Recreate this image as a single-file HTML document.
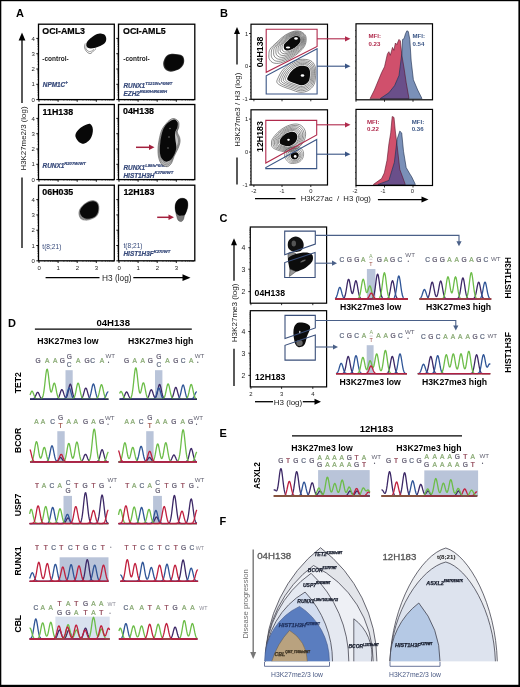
<!DOCTYPE html>
<html><head><meta charset="utf-8"><title>Figure</title>
<style>
html,body{margin:0;padding:0;background:#fff;}
body{width:520px;height:687px;overflow:hidden;font-family:"Liberation Sans",sans-serif;}
svg{display:block;will-change:transform;}
</style></head><body>
<svg width="520" height="687" viewBox="0 0 520 687" font-family="Liberation Sans, sans-serif">
<rect x="0" y="0" width="520" height="687" fill="#fff"/>
<rect x="38.5" y="24.2" width="75.8" height="75.4" fill="none" stroke="#000" stroke-width="1.3"/>
<line x1="36.3" y1="99.6" x2="38.5" y2="99.6" stroke="#000" stroke-width="0.9"/>
<line x1="37.4" y1="94.99" x2="38.5" y2="94.99" stroke="#000" stroke-width="0.5"/>
<line x1="37.4" y1="92.3" x2="38.5" y2="92.3" stroke="#000" stroke-width="0.5"/>
<line x1="37.4" y1="90.39" x2="38.5" y2="90.39" stroke="#000" stroke-width="0.5"/>
<line x1="37.4" y1="88.91" x2="38.5" y2="88.91" stroke="#000" stroke-width="0.5"/>
<line x1="37.4" y1="87.69" x2="38.5" y2="87.69" stroke="#000" stroke-width="0.5"/>
<line x1="37.4" y1="86.67" x2="38.5" y2="86.67" stroke="#000" stroke-width="0.5"/>
<line x1="37.4" y1="85.78" x2="38.5" y2="85.78" stroke="#000" stroke-width="0.5"/>
<line x1="37.4" y1="85" x2="38.5" y2="85" stroke="#000" stroke-width="0.5"/>
<line x1="36.3" y1="84.3" x2="38.5" y2="84.3" stroke="#000" stroke-width="0.9"/>
<line x1="37.4" y1="79.69" x2="38.5" y2="79.69" stroke="#000" stroke-width="0.5"/>
<line x1="37.4" y1="77" x2="38.5" y2="77" stroke="#000" stroke-width="0.5"/>
<line x1="37.4" y1="75.09" x2="38.5" y2="75.09" stroke="#000" stroke-width="0.5"/>
<line x1="37.4" y1="73.61" x2="38.5" y2="73.61" stroke="#000" stroke-width="0.5"/>
<line x1="37.4" y1="72.39" x2="38.5" y2="72.39" stroke="#000" stroke-width="0.5"/>
<line x1="37.4" y1="71.37" x2="38.5" y2="71.37" stroke="#000" stroke-width="0.5"/>
<line x1="37.4" y1="70.48" x2="38.5" y2="70.48" stroke="#000" stroke-width="0.5"/>
<line x1="37.4" y1="69.7" x2="38.5" y2="69.7" stroke="#000" stroke-width="0.5"/>
<line x1="36.3" y1="69" x2="38.5" y2="69" stroke="#000" stroke-width="0.9"/>
<line x1="37.4" y1="64.39" x2="38.5" y2="64.39" stroke="#000" stroke-width="0.5"/>
<line x1="37.4" y1="61.7" x2="38.5" y2="61.7" stroke="#000" stroke-width="0.5"/>
<line x1="37.4" y1="59.79" x2="38.5" y2="59.79" stroke="#000" stroke-width="0.5"/>
<line x1="37.4" y1="58.31" x2="38.5" y2="58.31" stroke="#000" stroke-width="0.5"/>
<line x1="37.4" y1="57.09" x2="38.5" y2="57.09" stroke="#000" stroke-width="0.5"/>
<line x1="37.4" y1="56.07" x2="38.5" y2="56.07" stroke="#000" stroke-width="0.5"/>
<line x1="37.4" y1="55.18" x2="38.5" y2="55.18" stroke="#000" stroke-width="0.5"/>
<line x1="37.4" y1="54.4" x2="38.5" y2="54.4" stroke="#000" stroke-width="0.5"/>
<line x1="36.3" y1="53.7" x2="38.5" y2="53.7" stroke="#000" stroke-width="0.9"/>
<line x1="37.4" y1="49.09" x2="38.5" y2="49.09" stroke="#000" stroke-width="0.5"/>
<line x1="37.4" y1="46.4" x2="38.5" y2="46.4" stroke="#000" stroke-width="0.5"/>
<line x1="37.4" y1="44.49" x2="38.5" y2="44.49" stroke="#000" stroke-width="0.5"/>
<line x1="37.4" y1="43.01" x2="38.5" y2="43.01" stroke="#000" stroke-width="0.5"/>
<line x1="37.4" y1="41.79" x2="38.5" y2="41.79" stroke="#000" stroke-width="0.5"/>
<line x1="37.4" y1="40.77" x2="38.5" y2="40.77" stroke="#000" stroke-width="0.5"/>
<line x1="37.4" y1="39.88" x2="38.5" y2="39.88" stroke="#000" stroke-width="0.5"/>
<line x1="37.4" y1="39.1" x2="38.5" y2="39.1" stroke="#000" stroke-width="0.5"/>
<line x1="36.3" y1="38.4" x2="38.5" y2="38.4" stroke="#000" stroke-width="0.9"/>
<line x1="39" y1="99.6" x2="39" y2="101.8" stroke="#000" stroke-width="0.9"/>
<line x1="44.75" y1="99.6" x2="44.75" y2="100.7" stroke="#000" stroke-width="0.5"/>
<line x1="48.11" y1="99.6" x2="48.11" y2="100.7" stroke="#000" stroke-width="0.5"/>
<line x1="50.5" y1="99.6" x2="50.5" y2="100.7" stroke="#000" stroke-width="0.5"/>
<line x1="52.35" y1="99.6" x2="52.35" y2="100.7" stroke="#000" stroke-width="0.5"/>
<line x1="53.86" y1="99.6" x2="53.86" y2="100.7" stroke="#000" stroke-width="0.5"/>
<line x1="55.14" y1="99.6" x2="55.14" y2="100.7" stroke="#000" stroke-width="0.5"/>
<line x1="56.25" y1="99.6" x2="56.25" y2="100.7" stroke="#000" stroke-width="0.5"/>
<line x1="57.23" y1="99.6" x2="57.23" y2="100.7" stroke="#000" stroke-width="0.5"/>
<line x1="58.1" y1="99.6" x2="58.1" y2="101.8" stroke="#000" stroke-width="0.9"/>
<line x1="63.85" y1="99.6" x2="63.85" y2="100.7" stroke="#000" stroke-width="0.5"/>
<line x1="67.21" y1="99.6" x2="67.21" y2="100.7" stroke="#000" stroke-width="0.5"/>
<line x1="69.6" y1="99.6" x2="69.6" y2="100.7" stroke="#000" stroke-width="0.5"/>
<line x1="71.45" y1="99.6" x2="71.45" y2="100.7" stroke="#000" stroke-width="0.5"/>
<line x1="72.96" y1="99.6" x2="72.96" y2="100.7" stroke="#000" stroke-width="0.5"/>
<line x1="74.24" y1="99.6" x2="74.24" y2="100.7" stroke="#000" stroke-width="0.5"/>
<line x1="75.35" y1="99.6" x2="75.35" y2="100.7" stroke="#000" stroke-width="0.5"/>
<line x1="76.33" y1="99.6" x2="76.33" y2="100.7" stroke="#000" stroke-width="0.5"/>
<line x1="77.2" y1="99.6" x2="77.2" y2="101.8" stroke="#000" stroke-width="0.9"/>
<line x1="82.95" y1="99.6" x2="82.95" y2="100.7" stroke="#000" stroke-width="0.5"/>
<line x1="86.31" y1="99.6" x2="86.31" y2="100.7" stroke="#000" stroke-width="0.5"/>
<line x1="88.7" y1="99.6" x2="88.7" y2="100.7" stroke="#000" stroke-width="0.5"/>
<line x1="90.55" y1="99.6" x2="90.55" y2="100.7" stroke="#000" stroke-width="0.5"/>
<line x1="92.06" y1="99.6" x2="92.06" y2="100.7" stroke="#000" stroke-width="0.5"/>
<line x1="93.34" y1="99.6" x2="93.34" y2="100.7" stroke="#000" stroke-width="0.5"/>
<line x1="94.45" y1="99.6" x2="94.45" y2="100.7" stroke="#000" stroke-width="0.5"/>
<line x1="95.43" y1="99.6" x2="95.43" y2="100.7" stroke="#000" stroke-width="0.5"/>
<line x1="96.3" y1="99.6" x2="96.3" y2="101.8" stroke="#000" stroke-width="0.9"/>
<line x1="102.05" y1="99.6" x2="102.05" y2="100.7" stroke="#000" stroke-width="0.5"/>
<line x1="105.41" y1="99.6" x2="105.41" y2="100.7" stroke="#000" stroke-width="0.5"/>
<line x1="107.8" y1="99.6" x2="107.8" y2="100.7" stroke="#000" stroke-width="0.5"/>
<line x1="109.65" y1="99.6" x2="109.65" y2="100.7" stroke="#000" stroke-width="0.5"/>
<line x1="111.16" y1="99.6" x2="111.16" y2="100.7" stroke="#000" stroke-width="0.5"/>
<line x1="112.44" y1="99.6" x2="112.44" y2="100.7" stroke="#000" stroke-width="0.5"/>
<line x1="113.55" y1="99.6" x2="113.55" y2="100.7" stroke="#000" stroke-width="0.5"/>
<rect x="38.5" y="104.5" width="75.8" height="75.1" fill="none" stroke="#000" stroke-width="1.3"/>
<line x1="36.3" y1="179.6" x2="38.5" y2="179.6" stroke="#000" stroke-width="0.9"/>
<line x1="37.4" y1="174.99" x2="38.5" y2="174.99" stroke="#000" stroke-width="0.5"/>
<line x1="37.4" y1="172.3" x2="38.5" y2="172.3" stroke="#000" stroke-width="0.5"/>
<line x1="37.4" y1="170.39" x2="38.5" y2="170.39" stroke="#000" stroke-width="0.5"/>
<line x1="37.4" y1="168.91" x2="38.5" y2="168.91" stroke="#000" stroke-width="0.5"/>
<line x1="37.4" y1="167.69" x2="38.5" y2="167.69" stroke="#000" stroke-width="0.5"/>
<line x1="37.4" y1="166.67" x2="38.5" y2="166.67" stroke="#000" stroke-width="0.5"/>
<line x1="37.4" y1="165.78" x2="38.5" y2="165.78" stroke="#000" stroke-width="0.5"/>
<line x1="37.4" y1="165" x2="38.5" y2="165" stroke="#000" stroke-width="0.5"/>
<line x1="36.3" y1="164.3" x2="38.5" y2="164.3" stroke="#000" stroke-width="0.9"/>
<line x1="37.4" y1="159.69" x2="38.5" y2="159.69" stroke="#000" stroke-width="0.5"/>
<line x1="37.4" y1="157" x2="38.5" y2="157" stroke="#000" stroke-width="0.5"/>
<line x1="37.4" y1="155.09" x2="38.5" y2="155.09" stroke="#000" stroke-width="0.5"/>
<line x1="37.4" y1="153.61" x2="38.5" y2="153.61" stroke="#000" stroke-width="0.5"/>
<line x1="37.4" y1="152.39" x2="38.5" y2="152.39" stroke="#000" stroke-width="0.5"/>
<line x1="37.4" y1="151.37" x2="38.5" y2="151.37" stroke="#000" stroke-width="0.5"/>
<line x1="37.4" y1="150.48" x2="38.5" y2="150.48" stroke="#000" stroke-width="0.5"/>
<line x1="37.4" y1="149.7" x2="38.5" y2="149.7" stroke="#000" stroke-width="0.5"/>
<line x1="36.3" y1="149" x2="38.5" y2="149" stroke="#000" stroke-width="0.9"/>
<line x1="37.4" y1="144.39" x2="38.5" y2="144.39" stroke="#000" stroke-width="0.5"/>
<line x1="37.4" y1="141.7" x2="38.5" y2="141.7" stroke="#000" stroke-width="0.5"/>
<line x1="37.4" y1="139.79" x2="38.5" y2="139.79" stroke="#000" stroke-width="0.5"/>
<line x1="37.4" y1="138.31" x2="38.5" y2="138.31" stroke="#000" stroke-width="0.5"/>
<line x1="37.4" y1="137.09" x2="38.5" y2="137.09" stroke="#000" stroke-width="0.5"/>
<line x1="37.4" y1="136.07" x2="38.5" y2="136.07" stroke="#000" stroke-width="0.5"/>
<line x1="37.4" y1="135.18" x2="38.5" y2="135.18" stroke="#000" stroke-width="0.5"/>
<line x1="37.4" y1="134.4" x2="38.5" y2="134.4" stroke="#000" stroke-width="0.5"/>
<line x1="36.3" y1="133.7" x2="38.5" y2="133.7" stroke="#000" stroke-width="0.9"/>
<line x1="37.4" y1="129.09" x2="38.5" y2="129.09" stroke="#000" stroke-width="0.5"/>
<line x1="37.4" y1="126.4" x2="38.5" y2="126.4" stroke="#000" stroke-width="0.5"/>
<line x1="37.4" y1="124.49" x2="38.5" y2="124.49" stroke="#000" stroke-width="0.5"/>
<line x1="37.4" y1="123.01" x2="38.5" y2="123.01" stroke="#000" stroke-width="0.5"/>
<line x1="37.4" y1="121.79" x2="38.5" y2="121.79" stroke="#000" stroke-width="0.5"/>
<line x1="37.4" y1="120.77" x2="38.5" y2="120.77" stroke="#000" stroke-width="0.5"/>
<line x1="37.4" y1="119.88" x2="38.5" y2="119.88" stroke="#000" stroke-width="0.5"/>
<line x1="37.4" y1="119.1" x2="38.5" y2="119.1" stroke="#000" stroke-width="0.5"/>
<line x1="36.3" y1="118.4" x2="38.5" y2="118.4" stroke="#000" stroke-width="0.9"/>
<line x1="39" y1="179.6" x2="39" y2="181.8" stroke="#000" stroke-width="0.9"/>
<line x1="44.75" y1="179.6" x2="44.75" y2="180.7" stroke="#000" stroke-width="0.5"/>
<line x1="48.11" y1="179.6" x2="48.11" y2="180.7" stroke="#000" stroke-width="0.5"/>
<line x1="50.5" y1="179.6" x2="50.5" y2="180.7" stroke="#000" stroke-width="0.5"/>
<line x1="52.35" y1="179.6" x2="52.35" y2="180.7" stroke="#000" stroke-width="0.5"/>
<line x1="53.86" y1="179.6" x2="53.86" y2="180.7" stroke="#000" stroke-width="0.5"/>
<line x1="55.14" y1="179.6" x2="55.14" y2="180.7" stroke="#000" stroke-width="0.5"/>
<line x1="56.25" y1="179.6" x2="56.25" y2="180.7" stroke="#000" stroke-width="0.5"/>
<line x1="57.23" y1="179.6" x2="57.23" y2="180.7" stroke="#000" stroke-width="0.5"/>
<line x1="58.1" y1="179.6" x2="58.1" y2="181.8" stroke="#000" stroke-width="0.9"/>
<line x1="63.85" y1="179.6" x2="63.85" y2="180.7" stroke="#000" stroke-width="0.5"/>
<line x1="67.21" y1="179.6" x2="67.21" y2="180.7" stroke="#000" stroke-width="0.5"/>
<line x1="69.6" y1="179.6" x2="69.6" y2="180.7" stroke="#000" stroke-width="0.5"/>
<line x1="71.45" y1="179.6" x2="71.45" y2="180.7" stroke="#000" stroke-width="0.5"/>
<line x1="72.96" y1="179.6" x2="72.96" y2="180.7" stroke="#000" stroke-width="0.5"/>
<line x1="74.24" y1="179.6" x2="74.24" y2="180.7" stroke="#000" stroke-width="0.5"/>
<line x1="75.35" y1="179.6" x2="75.35" y2="180.7" stroke="#000" stroke-width="0.5"/>
<line x1="76.33" y1="179.6" x2="76.33" y2="180.7" stroke="#000" stroke-width="0.5"/>
<line x1="77.2" y1="179.6" x2="77.2" y2="181.8" stroke="#000" stroke-width="0.9"/>
<line x1="82.95" y1="179.6" x2="82.95" y2="180.7" stroke="#000" stroke-width="0.5"/>
<line x1="86.31" y1="179.6" x2="86.31" y2="180.7" stroke="#000" stroke-width="0.5"/>
<line x1="88.7" y1="179.6" x2="88.7" y2="180.7" stroke="#000" stroke-width="0.5"/>
<line x1="90.55" y1="179.6" x2="90.55" y2="180.7" stroke="#000" stroke-width="0.5"/>
<line x1="92.06" y1="179.6" x2="92.06" y2="180.7" stroke="#000" stroke-width="0.5"/>
<line x1="93.34" y1="179.6" x2="93.34" y2="180.7" stroke="#000" stroke-width="0.5"/>
<line x1="94.45" y1="179.6" x2="94.45" y2="180.7" stroke="#000" stroke-width="0.5"/>
<line x1="95.43" y1="179.6" x2="95.43" y2="180.7" stroke="#000" stroke-width="0.5"/>
<line x1="96.3" y1="179.6" x2="96.3" y2="181.8" stroke="#000" stroke-width="0.9"/>
<line x1="102.05" y1="179.6" x2="102.05" y2="180.7" stroke="#000" stroke-width="0.5"/>
<line x1="105.41" y1="179.6" x2="105.41" y2="180.7" stroke="#000" stroke-width="0.5"/>
<line x1="107.8" y1="179.6" x2="107.8" y2="180.7" stroke="#000" stroke-width="0.5"/>
<line x1="109.65" y1="179.6" x2="109.65" y2="180.7" stroke="#000" stroke-width="0.5"/>
<line x1="111.16" y1="179.6" x2="111.16" y2="180.7" stroke="#000" stroke-width="0.5"/>
<line x1="112.44" y1="179.6" x2="112.44" y2="180.7" stroke="#000" stroke-width="0.5"/>
<line x1="113.55" y1="179.6" x2="113.55" y2="180.7" stroke="#000" stroke-width="0.5"/>
<rect x="38.5" y="185.2" width="75.8" height="75.6" fill="none" stroke="#000" stroke-width="1.3"/>
<line x1="36.3" y1="260.8" x2="38.5" y2="260.8" stroke="#000" stroke-width="0.9"/>
<line x1="37.4" y1="256.19" x2="38.5" y2="256.19" stroke="#000" stroke-width="0.5"/>
<line x1="37.4" y1="253.5" x2="38.5" y2="253.5" stroke="#000" stroke-width="0.5"/>
<line x1="37.4" y1="251.59" x2="38.5" y2="251.59" stroke="#000" stroke-width="0.5"/>
<line x1="37.4" y1="250.11" x2="38.5" y2="250.11" stroke="#000" stroke-width="0.5"/>
<line x1="37.4" y1="248.89" x2="38.5" y2="248.89" stroke="#000" stroke-width="0.5"/>
<line x1="37.4" y1="247.87" x2="38.5" y2="247.87" stroke="#000" stroke-width="0.5"/>
<line x1="37.4" y1="246.98" x2="38.5" y2="246.98" stroke="#000" stroke-width="0.5"/>
<line x1="37.4" y1="246.2" x2="38.5" y2="246.2" stroke="#000" stroke-width="0.5"/>
<line x1="36.3" y1="245.5" x2="38.5" y2="245.5" stroke="#000" stroke-width="0.9"/>
<line x1="37.4" y1="240.89" x2="38.5" y2="240.89" stroke="#000" stroke-width="0.5"/>
<line x1="37.4" y1="238.2" x2="38.5" y2="238.2" stroke="#000" stroke-width="0.5"/>
<line x1="37.4" y1="236.29" x2="38.5" y2="236.29" stroke="#000" stroke-width="0.5"/>
<line x1="37.4" y1="234.81" x2="38.5" y2="234.81" stroke="#000" stroke-width="0.5"/>
<line x1="37.4" y1="233.59" x2="38.5" y2="233.59" stroke="#000" stroke-width="0.5"/>
<line x1="37.4" y1="232.57" x2="38.5" y2="232.57" stroke="#000" stroke-width="0.5"/>
<line x1="37.4" y1="231.68" x2="38.5" y2="231.68" stroke="#000" stroke-width="0.5"/>
<line x1="37.4" y1="230.9" x2="38.5" y2="230.9" stroke="#000" stroke-width="0.5"/>
<line x1="36.3" y1="230.2" x2="38.5" y2="230.2" stroke="#000" stroke-width="0.9"/>
<line x1="37.4" y1="225.59" x2="38.5" y2="225.59" stroke="#000" stroke-width="0.5"/>
<line x1="37.4" y1="222.9" x2="38.5" y2="222.9" stroke="#000" stroke-width="0.5"/>
<line x1="37.4" y1="220.99" x2="38.5" y2="220.99" stroke="#000" stroke-width="0.5"/>
<line x1="37.4" y1="219.51" x2="38.5" y2="219.51" stroke="#000" stroke-width="0.5"/>
<line x1="37.4" y1="218.29" x2="38.5" y2="218.29" stroke="#000" stroke-width="0.5"/>
<line x1="37.4" y1="217.27" x2="38.5" y2="217.27" stroke="#000" stroke-width="0.5"/>
<line x1="37.4" y1="216.38" x2="38.5" y2="216.38" stroke="#000" stroke-width="0.5"/>
<line x1="37.4" y1="215.6" x2="38.5" y2="215.6" stroke="#000" stroke-width="0.5"/>
<line x1="36.3" y1="214.9" x2="38.5" y2="214.9" stroke="#000" stroke-width="0.9"/>
<line x1="37.4" y1="210.29" x2="38.5" y2="210.29" stroke="#000" stroke-width="0.5"/>
<line x1="37.4" y1="207.6" x2="38.5" y2="207.6" stroke="#000" stroke-width="0.5"/>
<line x1="37.4" y1="205.69" x2="38.5" y2="205.69" stroke="#000" stroke-width="0.5"/>
<line x1="37.4" y1="204.21" x2="38.5" y2="204.21" stroke="#000" stroke-width="0.5"/>
<line x1="37.4" y1="202.99" x2="38.5" y2="202.99" stroke="#000" stroke-width="0.5"/>
<line x1="37.4" y1="201.97" x2="38.5" y2="201.97" stroke="#000" stroke-width="0.5"/>
<line x1="37.4" y1="201.08" x2="38.5" y2="201.08" stroke="#000" stroke-width="0.5"/>
<line x1="37.4" y1="200.3" x2="38.5" y2="200.3" stroke="#000" stroke-width="0.5"/>
<line x1="36.3" y1="199.6" x2="38.5" y2="199.6" stroke="#000" stroke-width="0.9"/>
<line x1="39" y1="260.8" x2="39" y2="263" stroke="#000" stroke-width="0.9"/>
<line x1="44.75" y1="260.8" x2="44.75" y2="261.9" stroke="#000" stroke-width="0.5"/>
<line x1="48.11" y1="260.8" x2="48.11" y2="261.9" stroke="#000" stroke-width="0.5"/>
<line x1="50.5" y1="260.8" x2="50.5" y2="261.9" stroke="#000" stroke-width="0.5"/>
<line x1="52.35" y1="260.8" x2="52.35" y2="261.9" stroke="#000" stroke-width="0.5"/>
<line x1="53.86" y1="260.8" x2="53.86" y2="261.9" stroke="#000" stroke-width="0.5"/>
<line x1="55.14" y1="260.8" x2="55.14" y2="261.9" stroke="#000" stroke-width="0.5"/>
<line x1="56.25" y1="260.8" x2="56.25" y2="261.9" stroke="#000" stroke-width="0.5"/>
<line x1="57.23" y1="260.8" x2="57.23" y2="261.9" stroke="#000" stroke-width="0.5"/>
<line x1="58.1" y1="260.8" x2="58.1" y2="263" stroke="#000" stroke-width="0.9"/>
<line x1="63.85" y1="260.8" x2="63.85" y2="261.9" stroke="#000" stroke-width="0.5"/>
<line x1="67.21" y1="260.8" x2="67.21" y2="261.9" stroke="#000" stroke-width="0.5"/>
<line x1="69.6" y1="260.8" x2="69.6" y2="261.9" stroke="#000" stroke-width="0.5"/>
<line x1="71.45" y1="260.8" x2="71.45" y2="261.9" stroke="#000" stroke-width="0.5"/>
<line x1="72.96" y1="260.8" x2="72.96" y2="261.9" stroke="#000" stroke-width="0.5"/>
<line x1="74.24" y1="260.8" x2="74.24" y2="261.9" stroke="#000" stroke-width="0.5"/>
<line x1="75.35" y1="260.8" x2="75.35" y2="261.9" stroke="#000" stroke-width="0.5"/>
<line x1="76.33" y1="260.8" x2="76.33" y2="261.9" stroke="#000" stroke-width="0.5"/>
<line x1="77.2" y1="260.8" x2="77.2" y2="263" stroke="#000" stroke-width="0.9"/>
<line x1="82.95" y1="260.8" x2="82.95" y2="261.9" stroke="#000" stroke-width="0.5"/>
<line x1="86.31" y1="260.8" x2="86.31" y2="261.9" stroke="#000" stroke-width="0.5"/>
<line x1="88.7" y1="260.8" x2="88.7" y2="261.9" stroke="#000" stroke-width="0.5"/>
<line x1="90.55" y1="260.8" x2="90.55" y2="261.9" stroke="#000" stroke-width="0.5"/>
<line x1="92.06" y1="260.8" x2="92.06" y2="261.9" stroke="#000" stroke-width="0.5"/>
<line x1="93.34" y1="260.8" x2="93.34" y2="261.9" stroke="#000" stroke-width="0.5"/>
<line x1="94.45" y1="260.8" x2="94.45" y2="261.9" stroke="#000" stroke-width="0.5"/>
<line x1="95.43" y1="260.8" x2="95.43" y2="261.9" stroke="#000" stroke-width="0.5"/>
<line x1="96.3" y1="260.8" x2="96.3" y2="263" stroke="#000" stroke-width="0.9"/>
<line x1="102.05" y1="260.8" x2="102.05" y2="261.9" stroke="#000" stroke-width="0.5"/>
<line x1="105.41" y1="260.8" x2="105.41" y2="261.9" stroke="#000" stroke-width="0.5"/>
<line x1="107.8" y1="260.8" x2="107.8" y2="261.9" stroke="#000" stroke-width="0.5"/>
<line x1="109.65" y1="260.8" x2="109.65" y2="261.9" stroke="#000" stroke-width="0.5"/>
<line x1="111.16" y1="260.8" x2="111.16" y2="261.9" stroke="#000" stroke-width="0.5"/>
<line x1="112.44" y1="260.8" x2="112.44" y2="261.9" stroke="#000" stroke-width="0.5"/>
<line x1="113.55" y1="260.8" x2="113.55" y2="261.9" stroke="#000" stroke-width="0.5"/>
<rect x="118.5" y="24.2" width="76.3" height="75.4" fill="none" stroke="#000" stroke-width="1.3"/>
<line x1="116.3" y1="99.6" x2="118.5" y2="99.6" stroke="#000" stroke-width="0.9"/>
<line x1="117.4" y1="94.99" x2="118.5" y2="94.99" stroke="#000" stroke-width="0.5"/>
<line x1="117.4" y1="92.3" x2="118.5" y2="92.3" stroke="#000" stroke-width="0.5"/>
<line x1="117.4" y1="90.39" x2="118.5" y2="90.39" stroke="#000" stroke-width="0.5"/>
<line x1="117.4" y1="88.91" x2="118.5" y2="88.91" stroke="#000" stroke-width="0.5"/>
<line x1="117.4" y1="87.69" x2="118.5" y2="87.69" stroke="#000" stroke-width="0.5"/>
<line x1="117.4" y1="86.67" x2="118.5" y2="86.67" stroke="#000" stroke-width="0.5"/>
<line x1="117.4" y1="85.78" x2="118.5" y2="85.78" stroke="#000" stroke-width="0.5"/>
<line x1="117.4" y1="85" x2="118.5" y2="85" stroke="#000" stroke-width="0.5"/>
<line x1="116.3" y1="84.3" x2="118.5" y2="84.3" stroke="#000" stroke-width="0.9"/>
<line x1="117.4" y1="79.69" x2="118.5" y2="79.69" stroke="#000" stroke-width="0.5"/>
<line x1="117.4" y1="77" x2="118.5" y2="77" stroke="#000" stroke-width="0.5"/>
<line x1="117.4" y1="75.09" x2="118.5" y2="75.09" stroke="#000" stroke-width="0.5"/>
<line x1="117.4" y1="73.61" x2="118.5" y2="73.61" stroke="#000" stroke-width="0.5"/>
<line x1="117.4" y1="72.39" x2="118.5" y2="72.39" stroke="#000" stroke-width="0.5"/>
<line x1="117.4" y1="71.37" x2="118.5" y2="71.37" stroke="#000" stroke-width="0.5"/>
<line x1="117.4" y1="70.48" x2="118.5" y2="70.48" stroke="#000" stroke-width="0.5"/>
<line x1="117.4" y1="69.7" x2="118.5" y2="69.7" stroke="#000" stroke-width="0.5"/>
<line x1="116.3" y1="69" x2="118.5" y2="69" stroke="#000" stroke-width="0.9"/>
<line x1="117.4" y1="64.39" x2="118.5" y2="64.39" stroke="#000" stroke-width="0.5"/>
<line x1="117.4" y1="61.7" x2="118.5" y2="61.7" stroke="#000" stroke-width="0.5"/>
<line x1="117.4" y1="59.79" x2="118.5" y2="59.79" stroke="#000" stroke-width="0.5"/>
<line x1="117.4" y1="58.31" x2="118.5" y2="58.31" stroke="#000" stroke-width="0.5"/>
<line x1="117.4" y1="57.09" x2="118.5" y2="57.09" stroke="#000" stroke-width="0.5"/>
<line x1="117.4" y1="56.07" x2="118.5" y2="56.07" stroke="#000" stroke-width="0.5"/>
<line x1="117.4" y1="55.18" x2="118.5" y2="55.18" stroke="#000" stroke-width="0.5"/>
<line x1="117.4" y1="54.4" x2="118.5" y2="54.4" stroke="#000" stroke-width="0.5"/>
<line x1="116.3" y1="53.7" x2="118.5" y2="53.7" stroke="#000" stroke-width="0.9"/>
<line x1="117.4" y1="49.09" x2="118.5" y2="49.09" stroke="#000" stroke-width="0.5"/>
<line x1="117.4" y1="46.4" x2="118.5" y2="46.4" stroke="#000" stroke-width="0.5"/>
<line x1="117.4" y1="44.49" x2="118.5" y2="44.49" stroke="#000" stroke-width="0.5"/>
<line x1="117.4" y1="43.01" x2="118.5" y2="43.01" stroke="#000" stroke-width="0.5"/>
<line x1="117.4" y1="41.79" x2="118.5" y2="41.79" stroke="#000" stroke-width="0.5"/>
<line x1="117.4" y1="40.77" x2="118.5" y2="40.77" stroke="#000" stroke-width="0.5"/>
<line x1="117.4" y1="39.88" x2="118.5" y2="39.88" stroke="#000" stroke-width="0.5"/>
<line x1="117.4" y1="39.1" x2="118.5" y2="39.1" stroke="#000" stroke-width="0.5"/>
<line x1="116.3" y1="38.4" x2="118.5" y2="38.4" stroke="#000" stroke-width="0.9"/>
<line x1="119" y1="99.6" x2="119" y2="101.8" stroke="#000" stroke-width="0.9"/>
<line x1="124.75" y1="99.6" x2="124.75" y2="100.7" stroke="#000" stroke-width="0.5"/>
<line x1="128.11" y1="99.6" x2="128.11" y2="100.7" stroke="#000" stroke-width="0.5"/>
<line x1="130.5" y1="99.6" x2="130.5" y2="100.7" stroke="#000" stroke-width="0.5"/>
<line x1="132.35" y1="99.6" x2="132.35" y2="100.7" stroke="#000" stroke-width="0.5"/>
<line x1="133.86" y1="99.6" x2="133.86" y2="100.7" stroke="#000" stroke-width="0.5"/>
<line x1="135.14" y1="99.6" x2="135.14" y2="100.7" stroke="#000" stroke-width="0.5"/>
<line x1="136.25" y1="99.6" x2="136.25" y2="100.7" stroke="#000" stroke-width="0.5"/>
<line x1="137.23" y1="99.6" x2="137.23" y2="100.7" stroke="#000" stroke-width="0.5"/>
<line x1="138.1" y1="99.6" x2="138.1" y2="101.8" stroke="#000" stroke-width="0.9"/>
<line x1="143.85" y1="99.6" x2="143.85" y2="100.7" stroke="#000" stroke-width="0.5"/>
<line x1="147.21" y1="99.6" x2="147.21" y2="100.7" stroke="#000" stroke-width="0.5"/>
<line x1="149.6" y1="99.6" x2="149.6" y2="100.7" stroke="#000" stroke-width="0.5"/>
<line x1="151.45" y1="99.6" x2="151.45" y2="100.7" stroke="#000" stroke-width="0.5"/>
<line x1="152.96" y1="99.6" x2="152.96" y2="100.7" stroke="#000" stroke-width="0.5"/>
<line x1="154.24" y1="99.6" x2="154.24" y2="100.7" stroke="#000" stroke-width="0.5"/>
<line x1="155.35" y1="99.6" x2="155.35" y2="100.7" stroke="#000" stroke-width="0.5"/>
<line x1="156.33" y1="99.6" x2="156.33" y2="100.7" stroke="#000" stroke-width="0.5"/>
<line x1="157.2" y1="99.6" x2="157.2" y2="101.8" stroke="#000" stroke-width="0.9"/>
<line x1="162.95" y1="99.6" x2="162.95" y2="100.7" stroke="#000" stroke-width="0.5"/>
<line x1="166.31" y1="99.6" x2="166.31" y2="100.7" stroke="#000" stroke-width="0.5"/>
<line x1="168.7" y1="99.6" x2="168.7" y2="100.7" stroke="#000" stroke-width="0.5"/>
<line x1="170.55" y1="99.6" x2="170.55" y2="100.7" stroke="#000" stroke-width="0.5"/>
<line x1="172.06" y1="99.6" x2="172.06" y2="100.7" stroke="#000" stroke-width="0.5"/>
<line x1="173.34" y1="99.6" x2="173.34" y2="100.7" stroke="#000" stroke-width="0.5"/>
<line x1="174.45" y1="99.6" x2="174.45" y2="100.7" stroke="#000" stroke-width="0.5"/>
<line x1="175.43" y1="99.6" x2="175.43" y2="100.7" stroke="#000" stroke-width="0.5"/>
<line x1="176.3" y1="99.6" x2="176.3" y2="101.8" stroke="#000" stroke-width="0.9"/>
<line x1="182.05" y1="99.6" x2="182.05" y2="100.7" stroke="#000" stroke-width="0.5"/>
<line x1="185.41" y1="99.6" x2="185.41" y2="100.7" stroke="#000" stroke-width="0.5"/>
<line x1="187.8" y1="99.6" x2="187.8" y2="100.7" stroke="#000" stroke-width="0.5"/>
<line x1="189.65" y1="99.6" x2="189.65" y2="100.7" stroke="#000" stroke-width="0.5"/>
<line x1="191.16" y1="99.6" x2="191.16" y2="100.7" stroke="#000" stroke-width="0.5"/>
<line x1="192.44" y1="99.6" x2="192.44" y2="100.7" stroke="#000" stroke-width="0.5"/>
<line x1="193.55" y1="99.6" x2="193.55" y2="100.7" stroke="#000" stroke-width="0.5"/>
<rect x="118.5" y="104.5" width="76.3" height="75.1" fill="none" stroke="#000" stroke-width="1.3"/>
<line x1="116.3" y1="179.6" x2="118.5" y2="179.6" stroke="#000" stroke-width="0.9"/>
<line x1="117.4" y1="174.99" x2="118.5" y2="174.99" stroke="#000" stroke-width="0.5"/>
<line x1="117.4" y1="172.3" x2="118.5" y2="172.3" stroke="#000" stroke-width="0.5"/>
<line x1="117.4" y1="170.39" x2="118.5" y2="170.39" stroke="#000" stroke-width="0.5"/>
<line x1="117.4" y1="168.91" x2="118.5" y2="168.91" stroke="#000" stroke-width="0.5"/>
<line x1="117.4" y1="167.69" x2="118.5" y2="167.69" stroke="#000" stroke-width="0.5"/>
<line x1="117.4" y1="166.67" x2="118.5" y2="166.67" stroke="#000" stroke-width="0.5"/>
<line x1="117.4" y1="165.78" x2="118.5" y2="165.78" stroke="#000" stroke-width="0.5"/>
<line x1="117.4" y1="165" x2="118.5" y2="165" stroke="#000" stroke-width="0.5"/>
<line x1="116.3" y1="164.3" x2="118.5" y2="164.3" stroke="#000" stroke-width="0.9"/>
<line x1="117.4" y1="159.69" x2="118.5" y2="159.69" stroke="#000" stroke-width="0.5"/>
<line x1="117.4" y1="157" x2="118.5" y2="157" stroke="#000" stroke-width="0.5"/>
<line x1="117.4" y1="155.09" x2="118.5" y2="155.09" stroke="#000" stroke-width="0.5"/>
<line x1="117.4" y1="153.61" x2="118.5" y2="153.61" stroke="#000" stroke-width="0.5"/>
<line x1="117.4" y1="152.39" x2="118.5" y2="152.39" stroke="#000" stroke-width="0.5"/>
<line x1="117.4" y1="151.37" x2="118.5" y2="151.37" stroke="#000" stroke-width="0.5"/>
<line x1="117.4" y1="150.48" x2="118.5" y2="150.48" stroke="#000" stroke-width="0.5"/>
<line x1="117.4" y1="149.7" x2="118.5" y2="149.7" stroke="#000" stroke-width="0.5"/>
<line x1="116.3" y1="149" x2="118.5" y2="149" stroke="#000" stroke-width="0.9"/>
<line x1="117.4" y1="144.39" x2="118.5" y2="144.39" stroke="#000" stroke-width="0.5"/>
<line x1="117.4" y1="141.7" x2="118.5" y2="141.7" stroke="#000" stroke-width="0.5"/>
<line x1="117.4" y1="139.79" x2="118.5" y2="139.79" stroke="#000" stroke-width="0.5"/>
<line x1="117.4" y1="138.31" x2="118.5" y2="138.31" stroke="#000" stroke-width="0.5"/>
<line x1="117.4" y1="137.09" x2="118.5" y2="137.09" stroke="#000" stroke-width="0.5"/>
<line x1="117.4" y1="136.07" x2="118.5" y2="136.07" stroke="#000" stroke-width="0.5"/>
<line x1="117.4" y1="135.18" x2="118.5" y2="135.18" stroke="#000" stroke-width="0.5"/>
<line x1="117.4" y1="134.4" x2="118.5" y2="134.4" stroke="#000" stroke-width="0.5"/>
<line x1="116.3" y1="133.7" x2="118.5" y2="133.7" stroke="#000" stroke-width="0.9"/>
<line x1="117.4" y1="129.09" x2="118.5" y2="129.09" stroke="#000" stroke-width="0.5"/>
<line x1="117.4" y1="126.4" x2="118.5" y2="126.4" stroke="#000" stroke-width="0.5"/>
<line x1="117.4" y1="124.49" x2="118.5" y2="124.49" stroke="#000" stroke-width="0.5"/>
<line x1="117.4" y1="123.01" x2="118.5" y2="123.01" stroke="#000" stroke-width="0.5"/>
<line x1="117.4" y1="121.79" x2="118.5" y2="121.79" stroke="#000" stroke-width="0.5"/>
<line x1="117.4" y1="120.77" x2="118.5" y2="120.77" stroke="#000" stroke-width="0.5"/>
<line x1="117.4" y1="119.88" x2="118.5" y2="119.88" stroke="#000" stroke-width="0.5"/>
<line x1="117.4" y1="119.1" x2="118.5" y2="119.1" stroke="#000" stroke-width="0.5"/>
<line x1="116.3" y1="118.4" x2="118.5" y2="118.4" stroke="#000" stroke-width="0.9"/>
<line x1="119" y1="179.6" x2="119" y2="181.8" stroke="#000" stroke-width="0.9"/>
<line x1="124.75" y1="179.6" x2="124.75" y2="180.7" stroke="#000" stroke-width="0.5"/>
<line x1="128.11" y1="179.6" x2="128.11" y2="180.7" stroke="#000" stroke-width="0.5"/>
<line x1="130.5" y1="179.6" x2="130.5" y2="180.7" stroke="#000" stroke-width="0.5"/>
<line x1="132.35" y1="179.6" x2="132.35" y2="180.7" stroke="#000" stroke-width="0.5"/>
<line x1="133.86" y1="179.6" x2="133.86" y2="180.7" stroke="#000" stroke-width="0.5"/>
<line x1="135.14" y1="179.6" x2="135.14" y2="180.7" stroke="#000" stroke-width="0.5"/>
<line x1="136.25" y1="179.6" x2="136.25" y2="180.7" stroke="#000" stroke-width="0.5"/>
<line x1="137.23" y1="179.6" x2="137.23" y2="180.7" stroke="#000" stroke-width="0.5"/>
<line x1="138.1" y1="179.6" x2="138.1" y2="181.8" stroke="#000" stroke-width="0.9"/>
<line x1="143.85" y1="179.6" x2="143.85" y2="180.7" stroke="#000" stroke-width="0.5"/>
<line x1="147.21" y1="179.6" x2="147.21" y2="180.7" stroke="#000" stroke-width="0.5"/>
<line x1="149.6" y1="179.6" x2="149.6" y2="180.7" stroke="#000" stroke-width="0.5"/>
<line x1="151.45" y1="179.6" x2="151.45" y2="180.7" stroke="#000" stroke-width="0.5"/>
<line x1="152.96" y1="179.6" x2="152.96" y2="180.7" stroke="#000" stroke-width="0.5"/>
<line x1="154.24" y1="179.6" x2="154.24" y2="180.7" stroke="#000" stroke-width="0.5"/>
<line x1="155.35" y1="179.6" x2="155.35" y2="180.7" stroke="#000" stroke-width="0.5"/>
<line x1="156.33" y1="179.6" x2="156.33" y2="180.7" stroke="#000" stroke-width="0.5"/>
<line x1="157.2" y1="179.6" x2="157.2" y2="181.8" stroke="#000" stroke-width="0.9"/>
<line x1="162.95" y1="179.6" x2="162.95" y2="180.7" stroke="#000" stroke-width="0.5"/>
<line x1="166.31" y1="179.6" x2="166.31" y2="180.7" stroke="#000" stroke-width="0.5"/>
<line x1="168.7" y1="179.6" x2="168.7" y2="180.7" stroke="#000" stroke-width="0.5"/>
<line x1="170.55" y1="179.6" x2="170.55" y2="180.7" stroke="#000" stroke-width="0.5"/>
<line x1="172.06" y1="179.6" x2="172.06" y2="180.7" stroke="#000" stroke-width="0.5"/>
<line x1="173.34" y1="179.6" x2="173.34" y2="180.7" stroke="#000" stroke-width="0.5"/>
<line x1="174.45" y1="179.6" x2="174.45" y2="180.7" stroke="#000" stroke-width="0.5"/>
<line x1="175.43" y1="179.6" x2="175.43" y2="180.7" stroke="#000" stroke-width="0.5"/>
<line x1="176.3" y1="179.6" x2="176.3" y2="181.8" stroke="#000" stroke-width="0.9"/>
<line x1="182.05" y1="179.6" x2="182.05" y2="180.7" stroke="#000" stroke-width="0.5"/>
<line x1="185.41" y1="179.6" x2="185.41" y2="180.7" stroke="#000" stroke-width="0.5"/>
<line x1="187.8" y1="179.6" x2="187.8" y2="180.7" stroke="#000" stroke-width="0.5"/>
<line x1="189.65" y1="179.6" x2="189.65" y2="180.7" stroke="#000" stroke-width="0.5"/>
<line x1="191.16" y1="179.6" x2="191.16" y2="180.7" stroke="#000" stroke-width="0.5"/>
<line x1="192.44" y1="179.6" x2="192.44" y2="180.7" stroke="#000" stroke-width="0.5"/>
<line x1="193.55" y1="179.6" x2="193.55" y2="180.7" stroke="#000" stroke-width="0.5"/>
<rect x="118.5" y="185.2" width="76.3" height="75.6" fill="none" stroke="#000" stroke-width="1.3"/>
<line x1="116.3" y1="260.8" x2="118.5" y2="260.8" stroke="#000" stroke-width="0.9"/>
<line x1="117.4" y1="256.19" x2="118.5" y2="256.19" stroke="#000" stroke-width="0.5"/>
<line x1="117.4" y1="253.5" x2="118.5" y2="253.5" stroke="#000" stroke-width="0.5"/>
<line x1="117.4" y1="251.59" x2="118.5" y2="251.59" stroke="#000" stroke-width="0.5"/>
<line x1="117.4" y1="250.11" x2="118.5" y2="250.11" stroke="#000" stroke-width="0.5"/>
<line x1="117.4" y1="248.89" x2="118.5" y2="248.89" stroke="#000" stroke-width="0.5"/>
<line x1="117.4" y1="247.87" x2="118.5" y2="247.87" stroke="#000" stroke-width="0.5"/>
<line x1="117.4" y1="246.98" x2="118.5" y2="246.98" stroke="#000" stroke-width="0.5"/>
<line x1="117.4" y1="246.2" x2="118.5" y2="246.2" stroke="#000" stroke-width="0.5"/>
<line x1="116.3" y1="245.5" x2="118.5" y2="245.5" stroke="#000" stroke-width="0.9"/>
<line x1="117.4" y1="240.89" x2="118.5" y2="240.89" stroke="#000" stroke-width="0.5"/>
<line x1="117.4" y1="238.2" x2="118.5" y2="238.2" stroke="#000" stroke-width="0.5"/>
<line x1="117.4" y1="236.29" x2="118.5" y2="236.29" stroke="#000" stroke-width="0.5"/>
<line x1="117.4" y1="234.81" x2="118.5" y2="234.81" stroke="#000" stroke-width="0.5"/>
<line x1="117.4" y1="233.59" x2="118.5" y2="233.59" stroke="#000" stroke-width="0.5"/>
<line x1="117.4" y1="232.57" x2="118.5" y2="232.57" stroke="#000" stroke-width="0.5"/>
<line x1="117.4" y1="231.68" x2="118.5" y2="231.68" stroke="#000" stroke-width="0.5"/>
<line x1="117.4" y1="230.9" x2="118.5" y2="230.9" stroke="#000" stroke-width="0.5"/>
<line x1="116.3" y1="230.2" x2="118.5" y2="230.2" stroke="#000" stroke-width="0.9"/>
<line x1="117.4" y1="225.59" x2="118.5" y2="225.59" stroke="#000" stroke-width="0.5"/>
<line x1="117.4" y1="222.9" x2="118.5" y2="222.9" stroke="#000" stroke-width="0.5"/>
<line x1="117.4" y1="220.99" x2="118.5" y2="220.99" stroke="#000" stroke-width="0.5"/>
<line x1="117.4" y1="219.51" x2="118.5" y2="219.51" stroke="#000" stroke-width="0.5"/>
<line x1="117.4" y1="218.29" x2="118.5" y2="218.29" stroke="#000" stroke-width="0.5"/>
<line x1="117.4" y1="217.27" x2="118.5" y2="217.27" stroke="#000" stroke-width="0.5"/>
<line x1="117.4" y1="216.38" x2="118.5" y2="216.38" stroke="#000" stroke-width="0.5"/>
<line x1="117.4" y1="215.6" x2="118.5" y2="215.6" stroke="#000" stroke-width="0.5"/>
<line x1="116.3" y1="214.9" x2="118.5" y2="214.9" stroke="#000" stroke-width="0.9"/>
<line x1="117.4" y1="210.29" x2="118.5" y2="210.29" stroke="#000" stroke-width="0.5"/>
<line x1="117.4" y1="207.6" x2="118.5" y2="207.6" stroke="#000" stroke-width="0.5"/>
<line x1="117.4" y1="205.69" x2="118.5" y2="205.69" stroke="#000" stroke-width="0.5"/>
<line x1="117.4" y1="204.21" x2="118.5" y2="204.21" stroke="#000" stroke-width="0.5"/>
<line x1="117.4" y1="202.99" x2="118.5" y2="202.99" stroke="#000" stroke-width="0.5"/>
<line x1="117.4" y1="201.97" x2="118.5" y2="201.97" stroke="#000" stroke-width="0.5"/>
<line x1="117.4" y1="201.08" x2="118.5" y2="201.08" stroke="#000" stroke-width="0.5"/>
<line x1="117.4" y1="200.3" x2="118.5" y2="200.3" stroke="#000" stroke-width="0.5"/>
<line x1="116.3" y1="199.6" x2="118.5" y2="199.6" stroke="#000" stroke-width="0.9"/>
<line x1="119" y1="260.8" x2="119" y2="263" stroke="#000" stroke-width="0.9"/>
<line x1="124.75" y1="260.8" x2="124.75" y2="261.9" stroke="#000" stroke-width="0.5"/>
<line x1="128.11" y1="260.8" x2="128.11" y2="261.9" stroke="#000" stroke-width="0.5"/>
<line x1="130.5" y1="260.8" x2="130.5" y2="261.9" stroke="#000" stroke-width="0.5"/>
<line x1="132.35" y1="260.8" x2="132.35" y2="261.9" stroke="#000" stroke-width="0.5"/>
<line x1="133.86" y1="260.8" x2="133.86" y2="261.9" stroke="#000" stroke-width="0.5"/>
<line x1="135.14" y1="260.8" x2="135.14" y2="261.9" stroke="#000" stroke-width="0.5"/>
<line x1="136.25" y1="260.8" x2="136.25" y2="261.9" stroke="#000" stroke-width="0.5"/>
<line x1="137.23" y1="260.8" x2="137.23" y2="261.9" stroke="#000" stroke-width="0.5"/>
<line x1="138.1" y1="260.8" x2="138.1" y2="263" stroke="#000" stroke-width="0.9"/>
<line x1="143.85" y1="260.8" x2="143.85" y2="261.9" stroke="#000" stroke-width="0.5"/>
<line x1="147.21" y1="260.8" x2="147.21" y2="261.9" stroke="#000" stroke-width="0.5"/>
<line x1="149.6" y1="260.8" x2="149.6" y2="261.9" stroke="#000" stroke-width="0.5"/>
<line x1="151.45" y1="260.8" x2="151.45" y2="261.9" stroke="#000" stroke-width="0.5"/>
<line x1="152.96" y1="260.8" x2="152.96" y2="261.9" stroke="#000" stroke-width="0.5"/>
<line x1="154.24" y1="260.8" x2="154.24" y2="261.9" stroke="#000" stroke-width="0.5"/>
<line x1="155.35" y1="260.8" x2="155.35" y2="261.9" stroke="#000" stroke-width="0.5"/>
<line x1="156.33" y1="260.8" x2="156.33" y2="261.9" stroke="#000" stroke-width="0.5"/>
<line x1="157.2" y1="260.8" x2="157.2" y2="263" stroke="#000" stroke-width="0.9"/>
<line x1="162.95" y1="260.8" x2="162.95" y2="261.9" stroke="#000" stroke-width="0.5"/>
<line x1="166.31" y1="260.8" x2="166.31" y2="261.9" stroke="#000" stroke-width="0.5"/>
<line x1="168.7" y1="260.8" x2="168.7" y2="261.9" stroke="#000" stroke-width="0.5"/>
<line x1="170.55" y1="260.8" x2="170.55" y2="261.9" stroke="#000" stroke-width="0.5"/>
<line x1="172.06" y1="260.8" x2="172.06" y2="261.9" stroke="#000" stroke-width="0.5"/>
<line x1="173.34" y1="260.8" x2="173.34" y2="261.9" stroke="#000" stroke-width="0.5"/>
<line x1="174.45" y1="260.8" x2="174.45" y2="261.9" stroke="#000" stroke-width="0.5"/>
<line x1="175.43" y1="260.8" x2="175.43" y2="261.9" stroke="#000" stroke-width="0.5"/>
<line x1="176.3" y1="260.8" x2="176.3" y2="263" stroke="#000" stroke-width="0.9"/>
<line x1="182.05" y1="260.8" x2="182.05" y2="261.9" stroke="#000" stroke-width="0.5"/>
<line x1="185.41" y1="260.8" x2="185.41" y2="261.9" stroke="#000" stroke-width="0.5"/>
<line x1="187.8" y1="260.8" x2="187.8" y2="261.9" stroke="#000" stroke-width="0.5"/>
<line x1="189.65" y1="260.8" x2="189.65" y2="261.9" stroke="#000" stroke-width="0.5"/>
<line x1="191.16" y1="260.8" x2="191.16" y2="261.9" stroke="#000" stroke-width="0.5"/>
<line x1="192.44" y1="260.8" x2="192.44" y2="261.9" stroke="#000" stroke-width="0.5"/>
<line x1="193.55" y1="260.8" x2="193.55" y2="261.9" stroke="#000" stroke-width="0.5"/>
<text x="33.2" y="101.7" font-size="6" fill="#222" text-anchor="middle">0</text>
<text x="33.2" y="86.4" font-size="6" fill="#222" text-anchor="middle">1</text>
<text x="33.2" y="71.1" font-size="6" fill="#222" text-anchor="middle">2</text>
<text x="33.2" y="55.8" font-size="6" fill="#222" text-anchor="middle">3</text>
<text x="33.2" y="40.5" font-size="6" fill="#222" text-anchor="middle">4</text>
<text x="33.2" y="181.7" font-size="6" fill="#222" text-anchor="middle">0</text>
<text x="33.2" y="166.4" font-size="6" fill="#222" text-anchor="middle">1</text>
<text x="33.2" y="151.1" font-size="6" fill="#222" text-anchor="middle">2</text>
<text x="33.2" y="135.8" font-size="6" fill="#222" text-anchor="middle">3</text>
<text x="33.2" y="120.5" font-size="6" fill="#222" text-anchor="middle">4</text>
<text x="33.2" y="262.9" font-size="6" fill="#222" text-anchor="middle">0</text>
<text x="33.2" y="247.6" font-size="6" fill="#222" text-anchor="middle">1</text>
<text x="33.2" y="232.3" font-size="6" fill="#222" text-anchor="middle">2</text>
<text x="33.2" y="217" font-size="6" fill="#222" text-anchor="middle">3</text>
<text x="33.2" y="201.7" font-size="6" fill="#222" text-anchor="middle">4</text>
<text x="39.1" y="270" font-size="6" fill="#222" text-anchor="middle">0</text>
<text x="58.2" y="270" font-size="6" fill="#222" text-anchor="middle">1</text>
<text x="77.3" y="270" font-size="6" fill="#222" text-anchor="middle">2</text>
<text x="96.4" y="270" font-size="6" fill="#222" text-anchor="middle">3</text>
<text x="119.1" y="270" font-size="6" fill="#222" text-anchor="middle">0</text>
<text x="138.2" y="270" font-size="6" fill="#222" text-anchor="middle">1</text>
<text x="157.3" y="270" font-size="6" fill="#222" text-anchor="middle">2</text>
<text x="176.4" y="270" font-size="6" fill="#222" text-anchor="middle">3</text>
<line x1="22" y1="38" x2="22" y2="103" stroke="#000" stroke-width="1.3"/>
<path d="M22 32.5 L18.6 40.5 L25.4 40.5 Z" fill="#000"/>
<text x="26" y="138.5" font-size="7.9" fill="#222" text-anchor="middle" transform="rotate(-90 26 138.5)">H3K27me2/3 (log)</text>
<line x1="22" y1="177.5" x2="22" y2="248" stroke="#000" stroke-width="1.3"/>
<line x1="45.6" y1="277.7" x2="99.5" y2="277.7" stroke="#000" stroke-width="1.3"/>
<text x="116.8" y="280.7" font-size="8.3" fill="#222" text-anchor="middle">H3 (log)</text>
<line x1="133.3" y1="277.7" x2="184" y2="277.7" stroke="#000" stroke-width="1.3"/>
<path d="M190.5 277.7 L182.5 274.3 L182.5 281.1 Z" fill="#000"/>
<text x="42.3" y="33.9" font-size="8.85" font-weight="bold" fill="#000" stroke="#000" stroke-width="0.2">OCI-AML3</text>
<text x="123" y="33.9" font-size="8.85" font-weight="bold" fill="#000" stroke="#000" stroke-width="0.2">OCI-AML5</text>
<text x="42.6" y="115" font-size="8.85" font-weight="bold" fill="#000" stroke="#000" stroke-width="0.2">11H138</text>
<text x="123" y="114.4" font-size="8.85" font-weight="bold" fill="#000" stroke="#000" stroke-width="0.2">04H138</text>
<text x="42.3" y="195.4" font-size="8.85" font-weight="bold" fill="#000" stroke="#000" stroke-width="0.2">06H035</text>
<text x="123.4" y="195.2" font-size="8.85" font-weight="bold" fill="#000" stroke="#000" stroke-width="0.2">12H183</text>
<text x="42.3" y="60.7" font-size="6.5" font-weight="bold" fill="#1a1a1a">-control-</text>
<text x="123.3" y="60.7" font-size="6.5" font-weight="bold" fill="#1a1a1a">-control-</text>
<text x="42.8" y="87.4" font-size="6.4" font-weight="bold" font-style="italic" fill="#36497a" stroke="#36497a" stroke-width="0.2">NPM1C<tspan font-size="4.5" dy="-3.2">+</tspan></text>
<text x="123.5" y="87.7" font-size="6.4" font-weight="bold" font-style="italic" fill="#36497a" stroke="#36497a" stroke-width="0.2">RUNX1<tspan font-size="4.2" dy="-3.2">T1210fs*6/WT</tspan></text>
<text x="123.5" y="96.3" font-size="6.4" font-weight="bold" font-style="italic" fill="#36497a" stroke="#36497a" stroke-width="0.2">EZH2<tspan font-size="4.2" dy="-3.2">R690H/R690H</tspan></text>
<text x="42.6" y="167.7" font-size="6.4" font-weight="bold" font-style="italic" fill="#36497a" stroke="#36497a" stroke-width="0.2">RUNX1<tspan font-size="4.2" dy="-3.2">R207W/WT</tspan></text>
<text x="123.5" y="170.2" font-size="6.4" font-weight="bold" font-style="italic" fill="#36497a" stroke="#36497a" stroke-width="0.2">RUNX1<tspan font-size="4.2" dy="-3.2">L98fs*6/WT</tspan></text>
<text x="123.5" y="177.6" font-size="6.4" font-weight="bold" font-style="italic" fill="#36497a" stroke="#36497a" stroke-width="0.2">HIST1H3H<tspan font-size="4.2" dy="-3.2">K27M/WT</tspan></text>
<text x="42.3" y="248.6" font-size="6.6" fill="#36497a">t(8;21)</text>
<text x="123.5" y="248.4" font-size="6.6" fill="#36497a">t(8;21)</text>
<text x="123.5" y="256" font-size="6.4" font-weight="bold" font-style="italic" fill="#36497a" stroke="#36497a" stroke-width="0.2">HIST1H3F<tspan font-size="4.2" dy="-3.2">K27I/WT</tspan></text>
<path d="M 85.2 43.5 C 85.08 44.17 84.28 46.17 84.5 47.5 C 84.72 48.83 85.75 50.53 86.5 51.5 C 87.25 52.47 88.25 53 89 53.3 C 89.75 53.6 90.25 53.68 91 53.3 C 91.75 52.92 92.67 51.8 93.5 51 C 94.33 50.2 95.58 48.92 96 48.5" fill="none" stroke="#444" stroke-width="0.6"/>
<path d="M 86.3 45 C 86.25 45.63 85.67 47.77 86 48.8 C 86.33 49.83 87.47 50.78 88.3 51.2 C 89.13 51.62 90.05 51.63 91 51.3 C 91.95 50.97 93.5 49.55 94 49.2" fill="none" stroke="#555" stroke-width="0.55"/>
<path d="M 100.8 33.5 C 102.05 33.63 103.7 34.03 104.6 34.8 C 105.5 35.57 106.02 36.93 106.2 38.1 C 106.38 39.27 106.23 40.73 105.7 41.8 C 105.17 42.87 104.25 43.68 103 44.5 C 101.75 45.32 99.9 46.07 98.2 46.7 C 96.5 47.33 94.52 48.12 92.8 48.3 C 91.08 48.48 88.98 48.43 87.9 47.8 C 86.82 47.17 86.3 45.67 86.3 44.5 C 86.3 43.33 86.82 42.13 87.9 40.8 C 88.98 39.47 91.27 37.63 92.8 36.5 C 94.33 35.37 95.77 34.5 97.1 34 C 98.43 33.5 99.55 33.37 100.8 33.5 Z" fill="#0a0a0a"/>
<path d="M 171.8 53.8 C 173.6 53.62 176 53.95 177.8 54.3 C 179.6 54.65 181.53 54.92 182.6 55.9 C 183.67 56.88 184.1 58.67 184.2 60.2 C 184.3 61.73 183.92 63.67 183.2 65.1 C 182.48 66.53 181.35 67.82 179.9 68.8 C 178.45 69.78 176.28 70.55 174.5 71 C 172.72 71.45 170.82 71.87 169.2 71.5 C 167.58 71.13 165.8 70.05 164.8 68.8 C 163.8 67.55 163.28 65.6 163.2 64 C 163.12 62.4 163.67 60.63 164.3 59.2 C 164.93 57.77 165.75 56.3 167 55.4 C 168.25 54.5 170 53.98 171.8 53.8 Z" fill="#333"/>
<path d="M 172 54.6 C 173.7 54.43 176.13 54.67 177.8 55 C 179.47 55.33 181.07 55.7 182 56.6 C 182.93 57.5 183.33 59.03 183.4 60.4 C 183.47 61.77 183.07 63.5 182.4 64.8 C 181.73 66.1 180.72 67.3 179.4 68.2 C 178.08 69.1 176.1 69.8 174.5 70.2 C 172.9 70.6 171.25 70.93 169.8 70.6 C 168.35 70.27 166.72 69.3 165.8 68.2 C 164.88 67.1 164.4 65.45 164.3 64 C 164.2 62.55 164.65 60.83 165.2 59.5 C 165.75 58.17 166.47 56.82 167.6 56 C 168.73 55.18 170.3 54.77 172 54.6 Z" fill="#080808"/>
<path d="M 90.2 124.1 C 91.07 124.58 92.07 125.92 92.5 127.2 C 92.93 128.48 92.98 130.17 92.8 131.8 C 92.62 133.43 92.12 135.45 91.4 137 C 90.68 138.55 89.77 139.98 88.5 141.1 C 87.23 142.22 85.35 143.52 83.8 143.7 C 82.25 143.88 80.53 143.22 79.2 142.2 C 77.87 141.18 76.37 139.03 75.8 137.6 C 75.23 136.17 75.32 134.95 75.8 133.6 C 76.28 132.25 77.45 130.75 78.7 129.5 C 79.95 128.25 81.87 126.97 83.3 126.1 C 84.73 125.23 86.15 124.63 87.3 124.3 C 88.45 123.97 89.33 123.62 90.2 124.1 Z" fill="#080808"/>
<path d="M 174 118.6 C 175.4 118.87 177.6 120 178.4 121.4 C 179.2 122.8 179 125.27 178.8 127 C 178.6 128.73 177.07 130.07 177.2 131.8 C 177.33 133.53 179.13 135.67 179.6 137.4 C 180.07 139.13 180.27 140.33 180 142.2 C 179.73 144.07 179 146.2 178 148.6 C 177 151 175.07 154.2 174 156.6 C 172.93 159 172.67 161.33 171.6 163 C 170.53 164.67 169.2 166.33 167.6 166.6 C 166 166.87 163.47 166 162 164.6 C 160.53 163.2 159.47 160.87 158.8 158.2 C 158.13 155.53 157.87 152.07 158 148.6 C 158.13 145.13 158.93 140.6 159.6 137.4 C 160.27 134.2 160.93 131.67 162 129.4 C 163.07 127.13 164.67 125.4 166 123.8 C 167.33 122.2 168.67 120.67 170 119.8 C 171.33 118.93 172.6 118.33 174 118.6 Z" fill="#c4c4c4" stroke="#404040" stroke-width="0.55"/>
<path d="M 173.65 120.24 C 174.95 120.49 177 121.54 177.74 122.84 C 178.49 124.14 178.3 126.44 178.11 128.05 C 177.93 129.66 176.5 130.9 176.63 132.51 C 176.75 134.13 178.42 136.11 178.86 137.72 C 179.29 139.33 179.48 140.45 179.23 142.19 C 178.98 143.92 178.3 145.91 177.37 148.14 C 176.44 150.37 174.64 153.35 173.65 155.58 C 172.66 157.81 172.41 159.98 171.42 161.53 C 170.43 163.08 169.19 164.63 167.7 164.88 C 166.21 165.13 163.85 164.32 162.49 163.02 C 161.13 161.72 160.13 159.55 159.51 157.07 C 158.89 154.59 158.65 151.36 158.77 148.14 C 158.89 144.91 159.64 140.7 160.26 137.72 C 160.88 134.75 161.5 132.39 162.49 130.28 C 163.48 128.17 164.97 126.56 166.21 125.07 C 167.45 123.59 168.69 122.16 169.93 121.35 C 171.17 120.55 172.35 119.99 173.65 120.24 Z" fill="none" stroke="#505050" stroke-width="0.5"/>
<path d="M 173.3 121.88 C 174.5 122.11 176.4 123.08 177.08 124.28 C 177.77 125.49 177.6 127.61 177.43 129.1 C 177.26 130.59 175.94 131.74 176.05 133.23 C 176.17 134.72 177.71 136.55 178.12 138.04 C 178.52 139.53 178.69 140.57 178.46 142.17 C 178.23 143.78 177.6 145.61 176.74 147.68 C 175.88 149.74 174.22 152.49 173.3 154.56 C 172.38 156.62 172.15 158.63 171.24 160.06 C 170.32 161.49 169.17 162.93 167.8 163.16 C 166.42 163.39 164.24 162.64 162.98 161.44 C 161.72 160.23 160.8 158.23 160.23 155.93 C 159.65 153.64 159.43 150.66 159.54 147.68 C 159.65 144.69 160.34 140.8 160.92 138.04 C 161.49 135.29 162.06 133.11 162.98 131.16 C 163.9 129.21 165.27 127.72 166.42 126.35 C 167.57 124.97 168.71 123.65 169.86 122.91 C 171.01 122.16 172.1 121.65 173.3 121.88 Z" fill="none" stroke="#505050" stroke-width="0.5"/>
<path d="M 174 119.4 C 175.67 119.33 177.07 121.2 177.6 122.6 C 178.13 124 177.6 126.13 177.2 127.8 C 176.8 129.47 175.52 130.73 175.2 132.6 C 174.88 134.47 175.12 136.6 175.3 139 C 175.48 141.4 176.42 144.5 176.3 147 C 176.18 149.5 175.65 151.75 174.6 154 C 173.55 156.25 171.7 159.3 170 160.5 C 168.3 161.7 166 162.03 164.4 161.2 C 162.8 160.37 161.13 158.13 160.4 155.5 C 159.67 152.87 159.87 148.55 160 145.4 C 160.13 142.25 160.6 139.4 161.2 136.6 C 161.8 133.8 162.53 130.87 163.6 128.6 C 164.67 126.33 165.87 124.53 167.6 123 C 169.33 121.47 172.33 119.47 174 119.4 Z" fill="#080808"/>
<ellipse cx="170" cy="128.5" rx="0.6" ry="0.7" fill="#999"/>
<ellipse cx="169" cy="137" rx="0.6" ry="0.7" fill="#999"/>
<ellipse cx="168" cy="148" rx="0.6" ry="0.7" fill="#999"/>
<path d="M 92.3 200.6 C 93.93 200.57 95.8 201.13 96.9 202.1 C 98 203.07 98.65 204.63 98.9 206.4 C 99.15 208.17 98.92 210.97 98.4 212.7 C 97.88 214.43 97 215.73 95.8 216.8 C 94.6 217.87 92.75 218.53 91.2 219.1 C 89.65 219.67 88.15 220.2 86.5 220.2 C 84.85 220.2 82.55 220.05 81.3 219.1 C 80.05 218.15 79.28 216.05 79 214.5 C 78.72 212.95 79.02 211.25 79.6 209.8 C 80.18 208.35 81.25 207.05 82.5 205.8 C 83.75 204.55 85.47 203.17 87.1 202.3 C 88.73 201.43 90.67 200.63 92.3 200.6 Z" fill="#888" stroke="#444" stroke-width="0.4"/>
<path d="M 92.3 201.2 C 93.83 201.17 95.5 201.7 96.5 202.6 C 97.5 203.5 98.08 204.95 98.3 206.6 C 98.52 208.25 98.3 210.9 97.8 212.5 C 97.3 214.1 96.43 215.25 95.3 216.2 C 94.17 217.15 92.47 217.77 91 218.2 C 89.53 218.63 87.92 219 86.5 218.8 C 85.08 218.6 83.55 217.88 82.5 217 C 81.45 216.12 80.55 214.7 80.2 213.5 C 79.85 212.3 79.93 211.05 80.4 209.8 C 80.87 208.55 81.85 207.17 83 206 C 84.15 204.83 85.75 203.6 87.3 202.8 C 88.85 202 90.77 201.23 92.3 201.2 Z" fill="#080808"/>
<path d="M 182.2 198.2 C 183.47 198.23 185.27 198.68 186.2 199.5 C 187.13 200.32 187.57 201.75 187.8 203.1 C 188.03 204.45 187.87 206.1 187.6 207.6 C 187.33 209.1 186.73 210.75 186.2 212.1 C 185.67 213.45 184.85 214.5 184.4 215.7 C 183.95 216.9 184.02 218.32 183.5 219.3 C 182.98 220.28 182.2 221.45 181.3 221.6 C 180.4 221.75 178.85 221.03 178.1 220.2 C 177.35 219.37 177.17 217.8 176.8 216.6 C 176.43 215.4 176.2 214.5 175.9 213 C 175.6 211.5 175 209.32 175 207.6 C 175 205.88 175.3 204.08 175.9 202.7 C 176.5 201.32 177.55 200.05 178.6 199.3 C 179.65 198.55 180.93 198.17 182.2 198.2 Z" fill="#777" stroke="#333" stroke-width="0.4"/>
<path d="M 182.2 198.2 C 183.47 198.23 185.27 198.68 186.2 199.5 C 187.13 200.32 187.57 201.75 187.8 203.1 C 188.03 204.45 187.87 206.1 187.6 207.6 C 187.33 209.1 186.7 210.87 186.2 212.1 C 185.7 213.33 185.3 214.43 184.6 215 C 183.9 215.57 182.93 215.42 182 215.5 C 181.07 215.58 179.97 215.92 179 215.5 C 178.03 215.08 176.87 214.32 176.2 213 C 175.53 211.68 175.05 209.32 175 207.6 C 174.95 205.88 175.3 204.08 175.9 202.7 C 176.5 201.32 177.55 200.05 178.6 199.3 C 179.65 198.55 180.93 198.17 182.2 198.2 Z" fill="#080808"/>
<line x1="136" y1="147.3" x2="150" y2="147.3" stroke="#a3203d" stroke-width="1.5"/>
<path d="M154.5 147.3 L149 144.5 L149 150.1 Z" fill="#a3203d"/>
<line x1="157.2" y1="217.3" x2="169.5" y2="217.3" stroke="#a3203d" stroke-width="1.5"/>
<path d="M174 217.3 L168.5 214.5 L168.5 220.1 Z" fill="#a3203d"/>
<line x1="237" y1="32" x2="237" y2="64.5" stroke="#000" stroke-width="1.3"/>
<path d="M237 27 L234 34 L240 34 Z" fill="#000"/>
<text x="240.3" y="109.7" font-size="7.9" fill="#222" text-anchor="middle" transform="rotate(-90 240.3 109.7)">H3K27me3 / H3 (log)</text>
<line x1="237" y1="157.4" x2="237" y2="184.6" stroke="#000" stroke-width="1.3"/>
<line x1="255" y1="198.6" x2="295.5" y2="198.6" stroke="#000" stroke-width="1.3"/>
<text x="335.8" y="201.3" font-size="7.75" fill="#222" text-anchor="middle">H3K27ac&#160; /&#160; H3 (log)</text>
<line x1="377.9" y1="199.6" x2="423" y2="199.6" stroke="#000" stroke-width="1.3"/>
<path d="M428.5 199.6 L421.5 196.6 L421.5 202.6 Z" fill="#000"/>
<rect x="251" y="24.2" width="76.5" height="75.1" fill="none" stroke="#000" stroke-width="1.2"/>
<line x1="249" y1="33.5" x2="251" y2="33.5" stroke="#000" stroke-width="0.8"/>
<text x="246.5" y="35.5" font-size="5.8" fill="#222" text-anchor="middle">1</text>
<line x1="249" y1="66.4" x2="251" y2="66.4" stroke="#000" stroke-width="0.8"/>
<text x="246.5" y="68.4" font-size="5.8" fill="#222" text-anchor="middle">0</text>
<line x1="249" y1="99.3" x2="251" y2="99.3" stroke="#000" stroke-width="0.8"/>
<text x="245.2" y="101.3" font-size="5.8" fill="#222" text-anchor="middle">-1</text>
<line x1="250" y1="36.79" x2="251" y2="36.79" stroke="#000" stroke-width="0.5"/>
<line x1="250" y1="40.08" x2="251" y2="40.08" stroke="#000" stroke-width="0.5"/>
<line x1="250" y1="43.37" x2="251" y2="43.37" stroke="#000" stroke-width="0.5"/>
<line x1="250" y1="46.66" x2="251" y2="46.66" stroke="#000" stroke-width="0.5"/>
<line x1="250" y1="49.95" x2="251" y2="49.95" stroke="#000" stroke-width="0.5"/>
<line x1="250" y1="53.24" x2="251" y2="53.24" stroke="#000" stroke-width="0.5"/>
<line x1="250" y1="56.53" x2="251" y2="56.53" stroke="#000" stroke-width="0.5"/>
<line x1="250" y1="59.82" x2="251" y2="59.82" stroke="#000" stroke-width="0.5"/>
<line x1="250" y1="63.11" x2="251" y2="63.11" stroke="#000" stroke-width="0.5"/>
<line x1="250" y1="69.69" x2="251" y2="69.69" stroke="#000" stroke-width="0.5"/>
<line x1="250" y1="72.98" x2="251" y2="72.98" stroke="#000" stroke-width="0.5"/>
<line x1="250" y1="76.27" x2="251" y2="76.27" stroke="#000" stroke-width="0.5"/>
<line x1="250" y1="79.56" x2="251" y2="79.56" stroke="#000" stroke-width="0.5"/>
<line x1="250" y1="82.85" x2="251" y2="82.85" stroke="#000" stroke-width="0.5"/>
<line x1="250" y1="86.14" x2="251" y2="86.14" stroke="#000" stroke-width="0.5"/>
<line x1="250" y1="89.43" x2="251" y2="89.43" stroke="#000" stroke-width="0.5"/>
<line x1="250" y1="92.72" x2="251" y2="92.72" stroke="#000" stroke-width="0.5"/>
<line x1="250" y1="96.01" x2="251" y2="96.01" stroke="#000" stroke-width="0.5"/>
<line x1="253.9" y1="99.3" x2="253.9" y2="101.3" stroke="#000" stroke-width="0.8"/>
<line x1="282" y1="99.3" x2="282" y2="101.3" stroke="#000" stroke-width="0.8"/>
<line x1="310.8" y1="99.3" x2="310.8" y2="101.3" stroke="#000" stroke-width="0.8"/>
<rect x="356" y="23.8" width="76.5" height="76" fill="none" stroke="#000" stroke-width="1.2"/>
<line x1="356" y1="99.8" x2="356" y2="101.8" stroke="#000" stroke-width="0.8"/>
<line x1="384.5" y1="99.8" x2="384.5" y2="101.8" stroke="#000" stroke-width="0.8"/>
<line x1="413" y1="99.8" x2="413" y2="101.8" stroke="#000" stroke-width="0.8"/>
<line x1="355" y1="30.46" x2="356" y2="30.46" stroke="#000" stroke-width="0.5"/>
<line x1="355" y1="36.72" x2="356" y2="36.72" stroke="#000" stroke-width="0.5"/>
<line x1="355" y1="42.97" x2="356" y2="42.97" stroke="#000" stroke-width="0.5"/>
<line x1="355" y1="49.23" x2="356" y2="49.23" stroke="#000" stroke-width="0.5"/>
<line x1="355" y1="55.49" x2="356" y2="55.49" stroke="#000" stroke-width="0.5"/>
<line x1="355" y1="61.75" x2="356" y2="61.75" stroke="#000" stroke-width="0.5"/>
<line x1="355" y1="68.01" x2="356" y2="68.01" stroke="#000" stroke-width="0.5"/>
<line x1="355" y1="74.27" x2="356" y2="74.27" stroke="#000" stroke-width="0.5"/>
<line x1="355" y1="80.52" x2="356" y2="80.52" stroke="#000" stroke-width="0.5"/>
<line x1="355" y1="86.78" x2="356" y2="86.78" stroke="#000" stroke-width="0.5"/>
<line x1="355" y1="93.04" x2="356" y2="93.04" stroke="#000" stroke-width="0.5"/>
<rect x="251" y="109.8" width="76.5" height="75.2" fill="none" stroke="#000" stroke-width="1.2"/>
<line x1="249" y1="119.1" x2="251" y2="119.1" stroke="#000" stroke-width="0.8"/>
<text x="246.5" y="121.1" font-size="5.8" fill="#222" text-anchor="middle">1</text>
<line x1="249" y1="152.05" x2="251" y2="152.05" stroke="#000" stroke-width="0.8"/>
<text x="246.5" y="154.05" font-size="5.8" fill="#222" text-anchor="middle">0</text>
<line x1="249" y1="185" x2="251" y2="185" stroke="#000" stroke-width="0.8"/>
<text x="245.2" y="187" font-size="5.8" fill="#222" text-anchor="middle">-1</text>
<line x1="250" y1="122.39" x2="251" y2="122.39" stroke="#000" stroke-width="0.5"/>
<line x1="250" y1="125.69" x2="251" y2="125.69" stroke="#000" stroke-width="0.5"/>
<line x1="250" y1="128.99" x2="251" y2="128.99" stroke="#000" stroke-width="0.5"/>
<line x1="250" y1="132.28" x2="251" y2="132.28" stroke="#000" stroke-width="0.5"/>
<line x1="250" y1="135.57" x2="251" y2="135.57" stroke="#000" stroke-width="0.5"/>
<line x1="250" y1="138.87" x2="251" y2="138.87" stroke="#000" stroke-width="0.5"/>
<line x1="250" y1="142.17" x2="251" y2="142.17" stroke="#000" stroke-width="0.5"/>
<line x1="250" y1="145.46" x2="251" y2="145.46" stroke="#000" stroke-width="0.5"/>
<line x1="250" y1="148.76" x2="251" y2="148.76" stroke="#000" stroke-width="0.5"/>
<line x1="250" y1="155.34" x2="251" y2="155.34" stroke="#000" stroke-width="0.5"/>
<line x1="250" y1="158.64" x2="251" y2="158.64" stroke="#000" stroke-width="0.5"/>
<line x1="250" y1="161.94" x2="251" y2="161.94" stroke="#000" stroke-width="0.5"/>
<line x1="250" y1="165.23" x2="251" y2="165.23" stroke="#000" stroke-width="0.5"/>
<line x1="250" y1="168.53" x2="251" y2="168.53" stroke="#000" stroke-width="0.5"/>
<line x1="250" y1="171.82" x2="251" y2="171.82" stroke="#000" stroke-width="0.5"/>
<line x1="250" y1="175.12" x2="251" y2="175.12" stroke="#000" stroke-width="0.5"/>
<line x1="250" y1="178.41" x2="251" y2="178.41" stroke="#000" stroke-width="0.5"/>
<line x1="250" y1="181.71" x2="251" y2="181.71" stroke="#000" stroke-width="0.5"/>
<line x1="253.9" y1="185" x2="253.9" y2="187" stroke="#000" stroke-width="0.8"/>
<line x1="282" y1="185" x2="282" y2="187" stroke="#000" stroke-width="0.8"/>
<line x1="310.8" y1="185" x2="310.8" y2="187" stroke="#000" stroke-width="0.8"/>
<rect x="356" y="109.4" width="76.5" height="76.1" fill="none" stroke="#000" stroke-width="1.2"/>
<line x1="356" y1="185.5" x2="356" y2="187.5" stroke="#000" stroke-width="0.8"/>
<line x1="384.5" y1="185.5" x2="384.5" y2="187.5" stroke="#000" stroke-width="0.8"/>
<line x1="413" y1="185.5" x2="413" y2="187.5" stroke="#000" stroke-width="0.8"/>
<line x1="355" y1="116.07" x2="356" y2="116.07" stroke="#000" stroke-width="0.5"/>
<line x1="355" y1="122.33" x2="356" y2="122.33" stroke="#000" stroke-width="0.5"/>
<line x1="355" y1="128.6" x2="356" y2="128.6" stroke="#000" stroke-width="0.5"/>
<line x1="355" y1="134.87" x2="356" y2="134.87" stroke="#000" stroke-width="0.5"/>
<line x1="355" y1="141.13" x2="356" y2="141.13" stroke="#000" stroke-width="0.5"/>
<line x1="355" y1="147.4" x2="356" y2="147.4" stroke="#000" stroke-width="0.5"/>
<line x1="355" y1="153.67" x2="356" y2="153.67" stroke="#000" stroke-width="0.5"/>
<line x1="355" y1="159.93" x2="356" y2="159.93" stroke="#000" stroke-width="0.5"/>
<line x1="355" y1="166.2" x2="356" y2="166.2" stroke="#000" stroke-width="0.5"/>
<line x1="355" y1="172.47" x2="356" y2="172.47" stroke="#000" stroke-width="0.5"/>
<line x1="355" y1="178.73" x2="356" y2="178.73" stroke="#000" stroke-width="0.5"/>
<text x="253.9" y="193.3" font-size="5.8" fill="#222" text-anchor="middle">-2</text>
<text x="282" y="193.3" font-size="5.8" fill="#222" text-anchor="middle">-1</text>
<text x="310.8" y="193.3" font-size="5.8" fill="#222" text-anchor="middle">0</text>
<text x="355" y="193" font-size="5.8" fill="#222" text-anchor="middle">-2</text>
<text x="383" y="193" font-size="5.8" fill="#222" text-anchor="middle">-1</text>
<text x="412.3" y="193" font-size="5.8" fill="#222" text-anchor="middle">0</text>
<path d="M 268.9 54.8 C 269 53.08 268.75 51.22 270.1 49.1 C 271.45 46.98 274.5 44.42 277 42.1 C 279.5 39.78 282.22 37.02 285.1 35.2 C 287.98 33.38 291.62 31.77 294.3 31.2 C 296.98 30.63 299.28 30.93 301.2 31.8 C 303.12 32.67 305.12 34.28 305.8 36.4 C 306.48 38.52 306.25 42 305.3 44.5 C 304.35 47 302.52 49.1 300.1 51.4 C 297.68 53.7 294.07 56.38 290.8 58.3 C 287.53 60.22 283.38 62.13 280.5 62.9 C 277.62 63.67 275.33 63.48 273.5 62.9 C 271.67 62.32 270.27 60.75 269.5 59.4 C 268.73 58.05 268.8 56.52 268.9 54.8 Z" fill="none" stroke="#1a1a1a" stroke-width="0.5"/>
<path d="M 271.32 53.48 C 271.41 51.91 271.19 50.21 272.42 48.29 C 273.65 46.36 276.42 44.02 278.7 41.91 C 280.98 39.8 283.45 37.28 286.07 35.63 C 288.7 33.98 292.01 32.5 294.45 31.99 C 296.9 31.47 298.99 31.74 300.73 32.53 C 302.48 33.32 304.3 34.79 304.92 36.72 C 305.55 38.65 305.33 41.82 304.47 44.1 C 303.6 46.37 301.93 48.29 299.73 50.38 C 297.53 52.47 294.24 54.92 291.27 56.66 C 288.29 58.41 284.51 60.15 281.89 60.85 C 279.26 61.55 277.18 61.38 275.51 60.85 C 273.84 60.32 272.57 58.89 271.87 57.67 C 271.17 56.44 271.23 55.04 271.32 53.48 Z" fill="none" stroke="#1a1a1a" stroke-width="0.5"/>
<path d="M 273.66 52.2 C 273.74 50.79 273.53 49.25 274.64 47.5 C 275.76 45.76 278.27 43.64 280.33 41.73 C 282.4 39.82 284.64 37.54 287.01 36.04 C 289.39 34.54 292.39 33.21 294.6 32.74 C 296.81 32.28 298.71 32.52 300.29 33.24 C 301.87 33.95 303.52 35.29 304.08 37.03 C 304.64 38.78 304.45 41.65 303.67 43.71 C 302.88 45.77 301.37 47.5 299.38 49.4 C 297.39 51.3 294.41 53.51 291.71 55.09 C 289.02 56.67 285.6 58.25 283.22 58.88 C 280.84 59.51 278.96 59.36 277.45 58.88 C 275.94 58.4 274.78 57.11 274.15 56 C 273.52 54.88 273.57 53.62 273.66 52.2 Z" fill="none" stroke="#1a1a1a" stroke-width="0.5"/>
<path d="M 275.89 50.98 C 275.97 49.71 275.78 48.32 276.78 46.75 C 277.78 45.18 280.05 43.28 281.9 41.56 C 283.76 39.84 285.77 37.79 287.91 36.44 C 290.05 35.09 292.75 33.89 294.74 33.47 C 296.73 33.05 298.44 33.27 299.86 33.92 C 301.28 34.56 302.76 35.76 303.27 37.33 C 303.78 38.9 303.61 41.48 302.9 43.34 C 302.2 45.19 300.84 46.75 299.04 48.46 C 297.25 50.17 294.57 52.16 292.14 53.58 C 289.72 55 286.64 56.42 284.5 56.99 C 282.36 57.56 280.67 57.42 279.31 56.99 C 277.94 56.56 276.91 55.4 276.34 54.39 C 275.77 53.39 275.82 52.26 275.89 50.98 Z" fill="none" stroke="#1a1a1a" stroke-width="0.5"/>
<path d="M 278.03 49.81 C 278.1 48.68 277.93 47.44 278.82 46.03 C 279.72 44.63 281.74 42.93 283.4 41.39 C 285.06 39.86 286.86 38.02 288.77 36.82 C 290.68 35.61 293.09 34.54 294.87 34.16 C 296.65 33.79 298.18 33.99 299.45 34.56 C 300.72 35.14 302.05 36.21 302.5 37.61 C 302.95 39.02 302.8 41.33 302.17 42.98 C 301.54 44.64 300.32 46.03 298.72 47.56 C 297.12 49.08 294.72 50.86 292.55 52.14 C 290.39 53.41 287.63 54.68 285.72 55.19 C 283.81 55.69 282.3 55.57 281.08 55.19 C 279.86 54.8 278.94 53.76 278.43 52.86 C 277.92 51.97 277.96 50.95 278.03 49.81 Z" fill="none" stroke="#1a1a1a" stroke-width="0.5"/>
<path d="M 280.06 48.7 C 280.12 47.69 279.97 46.6 280.77 45.35 C 281.56 44.11 283.36 42.6 284.83 41.24 C 286.3 39.87 287.89 38.25 289.59 37.18 C 291.29 36.11 293.42 35.16 295 34.82 C 296.58 34.49 297.93 34.67 299.06 35.18 C 300.19 35.69 301.36 36.64 301.76 37.88 C 302.17 39.13 302.03 41.18 301.47 42.65 C 300.91 44.12 299.83 45.35 298.41 46.7 C 296.99 48.06 294.86 49.64 292.94 50.76 C 291.02 51.89 288.58 53.02 286.88 53.47 C 285.19 53.92 283.85 53.81 282.77 53.47 C 281.69 53.12 280.87 52.2 280.41 51.41 C 279.96 50.62 280 49.71 280.06 48.7 Z" fill="none" stroke="#1a1a1a" stroke-width="0.5"/>
<path d="M 281.98 47.65 C 282.04 46.77 281.91 45.8 282.61 44.71 C 283.3 43.61 284.88 42.28 286.17 41.09 C 287.47 39.89 288.87 38.46 290.36 37.52 C 291.85 36.58 293.73 35.74 295.12 35.45 C 296.51 35.16 297.7 35.31 298.69 35.76 C 299.68 36.21 300.71 37.04 301.07 38.14 C 301.42 39.23 301.3 41.03 300.81 42.33 C 300.32 43.62 299.37 44.71 298.12 45.9 C 296.87 47.09 295 48.47 293.31 49.46 C 291.62 50.46 289.48 51.45 287.98 51.84 C 286.49 52.24 285.31 52.14 284.36 51.84 C 283.42 51.54 282.69 50.73 282.3 50.03 C 281.9 49.33 281.93 48.54 281.98 47.65 Z" fill="none" stroke="#1a1a1a" stroke-width="0.5"/>
<path d="M 283.79 46.67 C 283.84 45.89 283.72 45.05 284.33 44.1 C 284.94 43.15 286.31 41.99 287.44 40.95 C 288.57 39.9 289.79 38.66 291.09 37.84 C 292.39 37.02 294.03 36.29 295.23 36.04 C 296.44 35.78 297.48 35.92 298.34 36.31 C 299.21 36.7 300.11 37.42 300.42 38.38 C 300.72 39.33 300.62 40.9 300.19 42.03 C 299.76 43.15 298.94 44.1 297.85 45.14 C 296.76 46.17 295.13 47.38 293.66 48.24 C 292.19 49.11 290.32 49.97 289.02 50.32 C 287.72 50.66 286.69 50.58 285.86 50.32 C 285.04 50.05 284.41 49.35 284.06 48.74 C 283.72 48.13 283.75 47.44 283.79 46.67 Z" fill="#0a0a0a"/>
<ellipse cx="296" cy="38.5" rx="1.8" ry="1.3" fill="#fff"/>
<ellipse cx="288" cy="47.5" rx="2.2" ry="1" fill="#fff"/>
<path d="M 278.1 77.9 C 279.07 75.78 280.68 72.3 282.8 69.8 C 284.92 67.3 287.92 64.63 290.8 62.9 C 293.68 61.17 296.83 59.78 300.1 59.4 C 303.37 59.02 307.9 59.43 310.4 60.6 C 312.9 61.77 314.23 63.9 315.1 66.4 C 315.97 68.9 315.8 72.53 315.6 75.6 C 315.4 78.67 315.15 82.3 313.9 84.8 C 312.65 87.3 310.4 89.35 308.1 90.6 C 305.8 91.85 302.98 92.5 300.1 92.3 C 297.22 92.1 293.88 90.45 290.8 89.4 C 287.72 88.35 283.9 87.15 281.6 86 C 279.3 84.85 277.58 83.85 277 82.5 C 276.42 81.15 277.13 80.02 278.1 77.9 Z" fill="none" stroke="#1a1a1a" stroke-width="0.5"/>
<path d="M 280.24 77.64 C 281.12 75.71 282.59 72.54 284.52 70.27 C 286.44 67.99 289.18 65.56 291.8 63.98 C 294.43 62.4 297.3 61.14 300.27 60.8 C 303.24 60.45 307.37 60.83 309.65 61.89 C 311.93 62.95 313.14 64.89 313.93 67.17 C 314.72 69.45 314.57 72.75 314.38 75.55 C 314.2 78.34 313.97 81.65 312.84 83.92 C 311.7 86.2 309.65 88.07 307.55 89.2 C 305.46 90.34 302.9 90.94 300.27 90.75 C 297.64 90.57 294.61 89.07 291.8 88.11 C 288.99 87.16 285.52 86.06 283.42 85.02 C 281.33 83.97 279.77 83.06 279.24 81.83 C 278.7 80.6 279.36 79.57 280.24 77.64 Z" fill="none" stroke="#1a1a1a" stroke-width="0.5"/>
<path d="M 282.29 77.39 C 283.09 75.65 284.42 72.77 286.17 70.71 C 287.91 68.65 290.39 66.45 292.77 65.02 C 295.14 63.59 297.74 62.45 300.43 62.14 C 303.13 61.82 306.86 62.16 308.93 63.13 C 310.99 64.09 312.09 65.85 312.8 67.91 C 313.52 69.97 313.38 72.97 313.21 75.49 C 313.05 78.02 312.84 81.02 311.81 83.08 C 310.78 85.14 308.93 86.83 307.03 87.86 C 305.13 88.89 302.81 89.43 300.43 89.26 C 298.06 89.1 295.31 87.74 292.77 86.87 C 290.22 86.01 287.08 85.02 285.18 84.07 C 283.28 83.12 281.87 82.3 281.39 81.18 C 280.91 80.07 281.5 79.14 282.29 77.39 Z" fill="none" stroke="#1a1a1a" stroke-width="0.5"/>
<path d="M 284.27 77.15 C 284.98 75.58 286.18 73 287.75 71.14 C 289.32 69.29 291.55 67.31 293.69 66.02 C 295.83 64.74 298.17 63.71 300.59 63.42 C 303.01 63.14 306.38 63.45 308.23 64.32 C 310.09 65.18 311.08 66.76 311.72 68.62 C 312.36 70.47 312.24 73.17 312.09 75.45 C 311.94 77.72 311.76 80.42 310.83 82.27 C 309.9 84.13 308.23 85.65 306.53 86.58 C 304.82 87.5 302.73 87.98 300.59 87.84 C 298.45 87.69 295.98 86.46 293.69 85.68 C 291.4 84.91 288.57 84.02 286.86 83.16 C 285.16 82.31 283.88 81.57 283.45 80.56 C 283.02 79.56 283.55 78.72 284.27 77.15 Z" fill="none" stroke="#1a1a1a" stroke-width="0.5"/>
<path d="M 286.15 76.92 C 286.79 75.52 287.86 73.21 289.27 71.55 C 290.67 69.89 292.66 68.13 294.57 66.98 C 296.48 65.83 298.57 64.91 300.74 64.66 C 302.91 64.4 305.91 64.68 307.57 65.45 C 309.23 66.22 310.11 67.64 310.69 69.3 C 311.26 70.95 311.15 73.36 311.02 75.4 C 310.89 77.43 310.72 79.84 309.89 81.5 C 309.06 83.16 307.57 84.52 306.05 85.34 C 304.52 86.17 302.65 86.6 300.74 86.47 C 298.83 86.34 296.62 85.25 294.57 84.55 C 292.53 83.85 290 83.06 288.47 82.29 C 286.95 81.53 285.81 80.87 285.42 79.97 C 285.03 79.08 285.51 78.33 286.15 76.92 Z" fill="none" stroke="#1a1a1a" stroke-width="0.5"/>
<path d="M 287.94 76.71 C 288.51 75.46 289.46 73.41 290.71 71.94 C 291.95 70.47 293.72 68.9 295.41 67.88 C 297.11 66.86 298.96 66.05 300.88 65.83 C 302.8 65.6 305.47 65.84 306.94 66.53 C 308.41 67.22 309.19 68.47 309.7 69.94 C 310.21 71.41 310.12 73.55 310 75.35 C 309.88 77.16 309.73 79.29 309 80.76 C 308.26 82.23 306.94 83.44 305.59 84.17 C 304.23 84.91 302.58 85.29 300.88 85.17 C 299.19 85.06 297.23 84.09 295.41 83.47 C 293.6 82.85 291.36 82.15 290 81.47 C 288.65 80.79 287.64 80.2 287.3 79.41 C 286.95 78.62 287.38 77.95 287.94 76.71 Z" fill="#0a0a0a"/>
<ellipse cx="302.5" cy="75.5" rx="1.8" ry="1.3" fill="#fff"/>
<path d="M 284.5 155.9 C 284.32 154.28 284.25 151.93 285.5 150.5 C 286.75 149.07 289.67 147.83 292 147.3 C 294.33 146.77 297.62 146.58 299.5 147.3 C 301.38 148.02 302.75 149.8 303.3 151.6 C 303.85 153.4 303.62 156.3 302.8 158.1 C 301.98 159.9 300.38 161.52 298.4 162.4 C 296.42 163.28 292.87 163.77 290.9 163.4 C 288.93 163.03 287.67 161.45 286.6 160.2 C 285.53 158.95 284.68 157.52 284.5 155.9 Z" fill="none" stroke="#333" stroke-width="0.5"/>
<path d="M 286.27 155.98 C 286.11 154.63 286.06 152.67 287.1 151.47 C 288.15 150.28 290.58 149.25 292.53 148.8 C 294.48 148.36 297.22 148.2 298.79 148.8 C 300.36 149.4 301.5 150.89 301.96 152.39 C 302.42 153.9 302.23 156.32 301.54 157.82 C 300.86 159.32 299.53 160.67 297.87 161.41 C 296.22 162.15 293.25 162.55 291.61 162.24 C 289.97 161.94 288.91 160.62 288.02 159.57 C 287.13 158.53 286.42 157.33 286.27 155.98 Z" fill="none" stroke="#333" stroke-width="0.5"/>
<path d="M 287.89 156.06 C 287.77 154.95 287.72 153.35 288.58 152.37 C 289.43 151.39 291.42 150.55 293.01 150.19 C 294.61 149.82 296.85 149.7 298.14 150.19 C 299.42 150.67 300.36 151.89 300.73 153.12 C 301.11 154.35 300.95 156.33 300.39 157.56 C 299.83 158.79 298.74 159.89 297.39 160.5 C 296.03 161.1 293.61 161.43 292.26 161.18 C 290.92 160.93 290.06 159.85 289.33 159 C 288.6 158.14 288.02 157.16 287.89 156.06 Z" fill="none" stroke="#333" stroke-width="0.5"/>
<path d="M 289.36 156.13 C 289.26 155.25 289.23 153.96 289.91 153.18 C 290.59 152.4 292.18 151.73 293.45 151.44 C 294.73 151.14 296.52 151.04 297.55 151.44 C 298.57 151.83 299.32 152.8 299.62 153.78 C 299.92 154.76 299.79 156.35 299.35 157.33 C 298.9 158.31 298.03 159.19 296.95 159.67 C 295.86 160.16 293.93 160.42 292.85 160.22 C 291.78 160.02 291.09 159.16 290.51 158.47 C 289.93 157.79 289.46 157.01 289.36 156.13 Z" fill="none" stroke="#333" stroke-width="0.5"/>
<path d="M 290.66 156.19 C 290.58 155.5 290.55 154.5 291.08 153.9 C 291.61 153.29 292.85 152.76 293.84 152.54 C 294.83 152.31 296.23 152.23 297.03 152.54 C 297.82 152.84 298.4 153.6 298.64 154.36 C 298.87 155.13 298.77 156.36 298.43 157.12 C 298.08 157.89 297.4 158.57 296.56 158.95 C 295.72 159.32 294.21 159.53 293.37 159.37 C 292.54 159.22 292 158.54 291.55 158.01 C 291.1 157.48 290.74 156.87 290.66 156.19 Z" fill="#0a0a0a"/>
<ellipse cx="295.2" cy="156.4" rx="1.4" ry="1.4" fill="#fff"/>
<path d="M 271.5 143 C 271.58 141.65 271.52 140.5 272.6 138.7 C 273.68 136.9 275.85 134.18 278 132.2 C 280.15 130.22 282.82 128.15 285.5 126.8 C 288.18 125.45 291.58 124.37 294.1 124.1 C 296.62 123.83 298.8 124.2 300.6 125.2 C 302.4 126.2 304.1 128.22 304.9 130.1 C 305.7 131.98 305.75 134.35 305.4 136.5 C 305.05 138.65 304.13 141.02 302.8 143 C 301.47 144.98 299.38 146.97 297.4 148.4 C 295.42 149.83 293.23 151.07 290.9 151.6 C 288.57 152.13 285.92 151.97 283.4 151.6 C 280.88 151.23 277.68 150.2 275.8 149.4 C 273.92 148.6 272.82 147.87 272.1 146.8 C 271.38 145.73 271.42 144.35 271.5 143 Z" fill="none" stroke="#1a1a1a" stroke-width="0.5"/>
<path d="M 273.02 142.71 C 273.1 141.48 273.04 140.44 274.02 138.8 C 275.01 137.16 276.98 134.69 278.94 132.88 C 280.9 131.07 283.32 129.19 285.77 127.96 C 288.21 126.73 291.31 125.75 293.6 125.5 C 295.89 125.26 297.88 125.6 299.52 126.51 C 301.16 127.42 302.7 129.25 303.43 130.97 C 304.16 132.68 304.21 134.84 303.89 136.8 C 303.57 138.75 302.74 140.91 301.52 142.71 C 300.31 144.52 298.41 146.33 296.6 147.63 C 294.8 148.94 292.81 150.06 290.69 150.54 C 288.56 151.03 286.15 150.88 283.86 150.54 C 281.56 150.21 278.65 149.27 276.94 148.54 C 275.22 147.81 274.22 147.15 273.57 146.17 C 272.91 145.2 272.94 143.94 273.02 142.71 Z" fill="none" stroke="#1a1a1a" stroke-width="0.5"/>
<path d="M 274.48 142.44 C 274.55 141.33 274.5 140.38 275.39 138.89 C 276.28 137.41 278.07 135.17 279.84 133.53 C 281.62 131.9 283.81 130.19 286.03 129.08 C 288.24 127.97 291.04 127.07 293.12 126.85 C 295.19 126.64 296.99 126.94 298.48 127.76 C 299.96 128.59 301.36 130.25 302.02 131.8 C 302.68 133.35 302.72 135.31 302.43 137.08 C 302.15 138.85 301.39 140.8 300.29 142.44 C 299.19 144.07 297.47 145.71 295.84 146.89 C 294.2 148.07 292.4 149.09 290.48 149.53 C 288.55 149.97 286.37 149.83 284.29 149.53 C 282.22 149.23 279.58 148.38 278.03 147.72 C 276.48 147.06 275.57 146.45 274.98 145.57 C 274.39 144.69 274.41 143.55 274.48 142.44 Z" fill="none" stroke="#1a1a1a" stroke-width="0.5"/>
<path d="M 275.89 142.17 C 275.95 141.17 275.9 140.32 276.7 138.98 C 277.51 137.65 279.11 135.63 280.71 134.16 C 282.3 132.69 284.28 131.16 286.27 130.15 C 288.27 129.15 290.79 128.35 292.66 128.15 C 294.52 127.95 296.14 128.22 297.48 128.97 C 298.81 129.71 300.08 131.21 300.67 132.6 C 301.26 134 301.3 135.76 301.04 137.35 C 300.78 138.95 300.1 140.7 299.11 142.17 C 298.12 143.65 296.58 145.12 295.1 146.18 C 293.63 147.24 292.01 148.16 290.28 148.56 C 288.55 148.95 286.58 148.83 284.72 148.56 C 282.85 148.28 280.47 147.52 279.08 146.92 C 277.68 146.33 276.86 145.79 276.33 144.99 C 275.8 144.2 275.82 143.18 275.89 142.17 Z" fill="none" stroke="#1a1a1a" stroke-width="0.5"/>
<path d="M 277.23 141.92 C 277.28 141.03 277.24 140.26 277.96 139.07 C 278.67 137.88 280.11 136.08 281.54 134.76 C 282.96 133.45 284.73 132.07 286.51 131.18 C 288.29 130.28 290.54 129.57 292.21 129.39 C 293.88 129.21 295.33 129.46 296.52 130.12 C 297.72 130.78 298.84 132.12 299.38 133.37 C 299.91 134.62 299.94 136.19 299.71 137.61 C 299.47 139.04 298.87 140.61 297.98 141.92 C 297.1 143.24 295.72 144.55 294.4 145.5 C 293.09 146.45 291.64 147.27 290.09 147.62 C 288.54 147.98 286.79 147.87 285.12 147.62 C 283.45 147.38 281.33 146.7 280.08 146.17 C 278.83 145.64 278.1 145.15 277.62 144.44 C 277.15 143.73 277.17 142.82 277.23 141.92 Z" fill="none" stroke="#1a1a1a" stroke-width="0.5"/>
<path d="M 278.5 141.68 C 278.55 140.89 278.51 140.21 279.15 139.15 C 279.79 138.09 281.06 136.5 282.32 135.33 C 283.59 134.16 285.16 132.95 286.74 132.15 C 288.31 131.36 290.31 130.72 291.79 130.57 C 293.27 130.41 294.56 130.63 295.62 131.21 C 296.67 131.8 297.67 132.99 298.15 134.1 C 298.62 135.2 298.65 136.59 298.44 137.86 C 298.23 139.12 297.69 140.52 296.91 141.68 C 296.13 142.85 294.9 144.01 293.73 144.86 C 292.57 145.7 291.28 146.43 289.91 146.74 C 288.54 147.05 286.98 146.96 285.5 146.74 C 284.02 146.52 282.14 145.92 281.03 145.45 C 279.92 144.98 279.28 144.54 278.85 143.92 C 278.43 143.29 278.45 142.48 278.5 141.68 Z" fill="none" stroke="#1a1a1a" stroke-width="0.5"/>
<path d="M 279.71 141.45 C 279.75 140.76 279.72 140.16 280.28 139.23 C 280.84 138.3 281.96 136.9 283.07 135.87 C 284.18 134.84 285.56 133.78 286.95 133.08 C 288.34 132.38 290.09 131.82 291.4 131.68 C 292.7 131.54 293.83 131.73 294.76 132.25 C 295.69 132.77 296.57 133.81 296.98 134.78 C 297.4 135.76 297.42 136.98 297.24 138.09 C 297.06 139.21 296.59 140.43 295.9 141.45 C 295.21 142.48 294.13 143.51 293.1 144.25 C 292.08 144.99 290.95 145.63 289.74 145.9 C 288.53 146.18 287.16 146.09 285.86 145.9 C 284.56 145.71 282.91 145.18 281.93 144.76 C 280.96 144.35 280.39 143.97 280.02 143.42 C 279.65 142.87 279.67 142.15 279.71 141.45 Z" fill="#0a0a0a"/>
<ellipse cx="288.5" cy="139.8" rx="1.3" ry="1.1" fill="#fff"/>
<path d="M266.2 29.2 L317.1 29.2 L317.1 46.5 L266.2 72.3 Z" fill="none" stroke="#b02a4c" stroke-width="1.1"/>
<path d="M317.1 48.8 L266.2 75.8 L266.2 94 L317.1 94 Z" fill="none" stroke="#3a5585" stroke-width="1.1"/>
<path d="M265.8 120.4 L316.7 120.4 L316.7 135 L265.8 163 Z" fill="none" stroke="#b02a4c" stroke-width="1.1"/>
<path d="M316.7 139.4 L265.8 167.5 L265.8 168.6 L316.7 168.6 Z" fill="none" stroke="#3a5585" stroke-width="1.1"/>
<line x1="317.1" y1="38.8" x2="345.5" y2="38.8" stroke="#b02a4c" stroke-width="1.1"/>
<path d="M350.5 38.8 L345 36.2 L345 41.4 Z" fill="#b02a4c"/>
<line x1="317.1" y1="66.2" x2="345.5" y2="66.2" stroke="#3a5585" stroke-width="1.1"/>
<path d="M350.5 66.2 L345 63.6 L345 68.8 Z" fill="#3a5585"/>
<line x1="316.7" y1="124.8" x2="345.5" y2="124.8" stroke="#b02a4c" stroke-width="1.1"/>
<path d="M350.5 124.8 L345 122.2 L345 127.4 Z" fill="#b02a4c"/>
<line x1="316.7" y1="154.2" x2="345.5" y2="154.2" stroke="#3a5585" stroke-width="1.1"/>
<path d="M350.5 154.2 L345 151.6 L345 156.8 Z" fill="#3a5585"/>
<text x="263.3" y="51.9" font-size="8.8" font-weight="bold" fill="#000" text-anchor="middle" transform="rotate(-90 263.3 51.9)">04H138</text>
<text x="263.2" y="136.5" font-size="8.8" font-weight="bold" fill="#000" text-anchor="middle" transform="rotate(-90 263.2 136.5)">12H183</text>
<clipPath id="hb0"><path d="M380.2 98.6 L388.9 92.8 L394.6 85.6 L399.0 75.5 L401.8 53.9 L402.6 39.4 L404.0 38.7 L405.5 33.7 L406.9 30.8 L408.3 31.5 L409.8 39.4 L411.2 61.0 L413.4 79.8 L417.7 90.0 L422.0 98.6 Z"/></clipPath>
<path d="M370.1 98.6 L374.4 90.0 L381.6 72.6 L384.5 66.8 L387.4 53.9 L388.9 51.7 L390.3 55.3 L392.5 47.4 L393.9 50.3 L395.4 43.0 L396.8 44.5 L399.0 39.4 L400.4 40.9 L401.8 55.0 L404.0 68.0 L406.2 82.7 L409.0 98.6 Z" fill="#d0506c"/>
<path d="M380.2 98.6 L388.9 92.8 L394.6 85.6 L399.0 75.5 L401.8 53.9 L402.6 39.4 L404.0 38.7 L405.5 33.7 L406.9 30.8 L408.3 31.5 L409.8 39.4 L411.2 61.0 L413.4 79.8 L417.7 90.0 L422.0 98.6 Z" fill="#7a90b8"/>
<path d="M370.1 98.6 L374.4 90.0 L381.6 72.6 L384.5 66.8 L387.4 53.9 L388.9 51.7 L390.3 55.3 L392.5 47.4 L393.9 50.3 L395.4 43.0 L396.8 44.5 L399.0 39.4 L400.4 40.9 L401.8 55.0 L404.0 68.0 L406.2 82.7 L409.0 98.6 Z" fill="#6a4f8a" clip-path="url(#hb0)"/>
<path d="M370.1 98.6 L374.4 90.0 L381.6 72.6 L384.5 66.8 L387.4 53.9 L388.9 51.7 L390.3 55.3 L392.5 47.4 L393.9 50.3 L395.4 43.0 L396.8 44.5 L399.0 39.4 L400.4 40.9 L401.8 55.0 L404.0 68.0 L406.2 82.7 L409.0 98.6 Z" fill="none" stroke="#5a1028" stroke-width="0.6"/>
<path d="M380.2 98.6 L388.9 92.8 L394.6 85.6 L399.0 75.5 L401.8 53.9 L402.6 39.4 L404.0 38.7 L405.5 33.7 L406.9 30.8 L408.3 31.5 L409.8 39.4 L411.2 61.0 L413.4 79.8 L417.7 90.0 L422.0 98.6 Z" fill="none" stroke="#1a2a4a" stroke-width="0.6"/>
<clipPath id="hb1"><path d="M377.9 184.5 L388.9 180.4 L394.4 162.2 L397.1 139.3 L399.8 131.1 L401.7 132.9 L403.5 151.2 L406.2 167.6 L409.9 174.0 L411.7 176.8 L415.4 184.5 Z"/></clipPath>
<path d="M373.3 184.5 L381.6 178.6 L384.3 173.0 L387.0 160.3 L388.9 143.9 L390.7 132.9 L392.2 116.5 L394.0 117.4 L395.3 131.0 L397.1 145.7 L399.8 169.5 L405.3 184.5 Z" fill="#d0506c"/>
<path d="M377.9 184.5 L388.9 180.4 L394.4 162.2 L397.1 139.3 L399.8 131.1 L401.7 132.9 L403.5 151.2 L406.2 167.6 L409.9 174.0 L411.7 176.8 L415.4 184.5 Z" fill="#7a90b8"/>
<path d="M373.3 184.5 L381.6 178.6 L384.3 173.0 L387.0 160.3 L388.9 143.9 L390.7 132.9 L392.2 116.5 L394.0 117.4 L395.3 131.0 L397.1 145.7 L399.8 169.5 L405.3 184.5 Z" fill="#6a4f8a" clip-path="url(#hb1)"/>
<path d="M373.3 184.5 L381.6 178.6 L384.3 173.0 L387.0 160.3 L388.9 143.9 L390.7 132.9 L392.2 116.5 L394.0 117.4 L395.3 131.0 L397.1 145.7 L399.8 169.5 L405.3 184.5 Z" fill="none" stroke="#5a1028" stroke-width="0.6"/>
<path d="M377.9 184.5 L388.9 180.4 L394.4 162.2 L397.1 139.3 L399.8 131.1 L401.7 132.9 L403.5 151.2 L406.2 167.6 L409.9 174.0 L411.7 176.8 L415.4 184.5 Z" fill="none" stroke="#1a2a4a" stroke-width="0.6"/>
<text x="368.5" y="37.7" font-size="6.1" font-weight="bold" fill="#b02a4c">MFI:</text>
<text x="368.5" y="45.6" font-size="6.1" font-weight="bold" fill="#b02a4c">0.23</text>
<text x="412.5" y="37.7" font-size="6.1" font-weight="bold" fill="#3a5585">MFI:</text>
<text x="412.5" y="45.6" font-size="6.1" font-weight="bold" fill="#3a5585">0.54</text>
<text x="367" y="123.5" font-size="6.1" font-weight="bold" fill="#b02a4c">MFI:</text>
<text x="367" y="131.4" font-size="6.1" font-weight="bold" fill="#b02a4c">0.22</text>
<text x="411.7" y="123.5" font-size="6.1" font-weight="bold" fill="#3a5585">MFI:</text>
<text x="411.7" y="131.4" font-size="6.1" font-weight="bold" fill="#3a5585">0.36</text>
<line x1="234" y1="243" x2="234" y2="280.7" stroke="#000" stroke-width="1.3"/>
<path d="M234 238.3 L231 245.3 L237 245.3 Z" fill="#000"/>
<text x="237" y="312.9" font-size="8.1" fill="#222" text-anchor="middle" transform="rotate(-90 237 312.9)">H3K27me3 (log)</text>
<line x1="234" y1="348.8" x2="234" y2="386" stroke="#000" stroke-width="1.3"/>
<line x1="255" y1="401.7" x2="273" y2="401.7" stroke="#000" stroke-width="1.3"/>
<text x="288" y="404.5" font-size="8" fill="#222" text-anchor="middle">H3 (log)</text>
<line x1="302.8" y1="401.7" x2="316" y2="401.7" stroke="#000" stroke-width="1.3"/>
<path d="M321 401.7 L314.5 398.7 L314.5 404.7 Z" fill="#000"/>
<rect x="250.3" y="227" width="76.3" height="76.2" fill="none" stroke="#000" stroke-width="1.2"/>
<line x1="248.3" y1="247.7" x2="250.3" y2="247.7" stroke="#000" stroke-width="0.8"/>
<text x="243.4" y="250.2" font-size="6.9" fill="#222" text-anchor="middle">4</text>
<line x1="248.3" y1="269.2" x2="250.3" y2="269.2" stroke="#000" stroke-width="0.8"/>
<text x="243.4" y="271.7" font-size="6.9" fill="#222" text-anchor="middle">3</text>
<line x1="248.3" y1="291.6" x2="250.3" y2="291.6" stroke="#000" stroke-width="0.8"/>
<text x="243.4" y="294.1" font-size="6.9" fill="#222" text-anchor="middle">2</text>
<line x1="249.3" y1="241.08" x2="250.3" y2="241.08" stroke="#000" stroke-width="0.5"/>
<line x1="249.3" y1="237.2" x2="250.3" y2="237.2" stroke="#000" stroke-width="0.5"/>
<line x1="249.3" y1="234.45" x2="250.3" y2="234.45" stroke="#000" stroke-width="0.5"/>
<line x1="249.3" y1="232.32" x2="250.3" y2="232.32" stroke="#000" stroke-width="0.5"/>
<line x1="249.3" y1="230.58" x2="250.3" y2="230.58" stroke="#000" stroke-width="0.5"/>
<line x1="249.3" y1="229.11" x2="250.3" y2="229.11" stroke="#000" stroke-width="0.5"/>
<line x1="249.3" y1="262.58" x2="250.3" y2="262.58" stroke="#000" stroke-width="0.5"/>
<line x1="249.3" y1="258.7" x2="250.3" y2="258.7" stroke="#000" stroke-width="0.5"/>
<line x1="249.3" y1="255.95" x2="250.3" y2="255.95" stroke="#000" stroke-width="0.5"/>
<line x1="249.3" y1="253.82" x2="250.3" y2="253.82" stroke="#000" stroke-width="0.5"/>
<line x1="249.3" y1="252.08" x2="250.3" y2="252.08" stroke="#000" stroke-width="0.5"/>
<line x1="249.3" y1="250.61" x2="250.3" y2="250.61" stroke="#000" stroke-width="0.5"/>
<line x1="249.3" y1="249.33" x2="250.3" y2="249.33" stroke="#000" stroke-width="0.5"/>
<line x1="249.3" y1="248.21" x2="250.3" y2="248.21" stroke="#000" stroke-width="0.5"/>
<line x1="249.3" y1="284.98" x2="250.3" y2="284.98" stroke="#000" stroke-width="0.5"/>
<line x1="249.3" y1="281.1" x2="250.3" y2="281.1" stroke="#000" stroke-width="0.5"/>
<line x1="249.3" y1="278.35" x2="250.3" y2="278.35" stroke="#000" stroke-width="0.5"/>
<line x1="249.3" y1="276.22" x2="250.3" y2="276.22" stroke="#000" stroke-width="0.5"/>
<line x1="249.3" y1="274.48" x2="250.3" y2="274.48" stroke="#000" stroke-width="0.5"/>
<line x1="249.3" y1="273.01" x2="250.3" y2="273.01" stroke="#000" stroke-width="0.5"/>
<line x1="249.3" y1="271.73" x2="250.3" y2="271.73" stroke="#000" stroke-width="0.5"/>
<line x1="249.3" y1="270.61" x2="250.3" y2="270.61" stroke="#000" stroke-width="0.5"/>
<line x1="250.9" y1="303.2" x2="250.9" y2="305.2" stroke="#000" stroke-width="0.8"/>
<line x1="281.6" y1="303.2" x2="281.6" y2="305.2" stroke="#000" stroke-width="0.8"/>
<line x1="312.8" y1="303.2" x2="312.8" y2="305.2" stroke="#000" stroke-width="0.8"/>
<rect x="250.3" y="310.7" width="76.3" height="76.2" fill="none" stroke="#000" stroke-width="1.2"/>
<line x1="248.3" y1="331.5" x2="250.3" y2="331.5" stroke="#000" stroke-width="0.8"/>
<text x="243.4" y="334" font-size="6.9" fill="#222" text-anchor="middle">4</text>
<line x1="248.3" y1="353.2" x2="250.3" y2="353.2" stroke="#000" stroke-width="0.8"/>
<text x="243.4" y="355.7" font-size="6.9" fill="#222" text-anchor="middle">3</text>
<line x1="248.3" y1="375.4" x2="250.3" y2="375.4" stroke="#000" stroke-width="0.8"/>
<text x="243.4" y="377.9" font-size="6.9" fill="#222" text-anchor="middle">2</text>
<line x1="249.3" y1="324.88" x2="250.3" y2="324.88" stroke="#000" stroke-width="0.5"/>
<line x1="249.3" y1="321" x2="250.3" y2="321" stroke="#000" stroke-width="0.5"/>
<line x1="249.3" y1="318.25" x2="250.3" y2="318.25" stroke="#000" stroke-width="0.5"/>
<line x1="249.3" y1="316.12" x2="250.3" y2="316.12" stroke="#000" stroke-width="0.5"/>
<line x1="249.3" y1="314.38" x2="250.3" y2="314.38" stroke="#000" stroke-width="0.5"/>
<line x1="249.3" y1="312.91" x2="250.3" y2="312.91" stroke="#000" stroke-width="0.5"/>
<line x1="249.3" y1="346.58" x2="250.3" y2="346.58" stroke="#000" stroke-width="0.5"/>
<line x1="249.3" y1="342.7" x2="250.3" y2="342.7" stroke="#000" stroke-width="0.5"/>
<line x1="249.3" y1="339.95" x2="250.3" y2="339.95" stroke="#000" stroke-width="0.5"/>
<line x1="249.3" y1="337.82" x2="250.3" y2="337.82" stroke="#000" stroke-width="0.5"/>
<line x1="249.3" y1="336.08" x2="250.3" y2="336.08" stroke="#000" stroke-width="0.5"/>
<line x1="249.3" y1="334.61" x2="250.3" y2="334.61" stroke="#000" stroke-width="0.5"/>
<line x1="249.3" y1="333.33" x2="250.3" y2="333.33" stroke="#000" stroke-width="0.5"/>
<line x1="249.3" y1="332.21" x2="250.3" y2="332.21" stroke="#000" stroke-width="0.5"/>
<line x1="249.3" y1="368.78" x2="250.3" y2="368.78" stroke="#000" stroke-width="0.5"/>
<line x1="249.3" y1="364.9" x2="250.3" y2="364.9" stroke="#000" stroke-width="0.5"/>
<line x1="249.3" y1="362.15" x2="250.3" y2="362.15" stroke="#000" stroke-width="0.5"/>
<line x1="249.3" y1="360.02" x2="250.3" y2="360.02" stroke="#000" stroke-width="0.5"/>
<line x1="249.3" y1="358.28" x2="250.3" y2="358.28" stroke="#000" stroke-width="0.5"/>
<line x1="249.3" y1="356.81" x2="250.3" y2="356.81" stroke="#000" stroke-width="0.5"/>
<line x1="249.3" y1="355.53" x2="250.3" y2="355.53" stroke="#000" stroke-width="0.5"/>
<line x1="249.3" y1="354.41" x2="250.3" y2="354.41" stroke="#000" stroke-width="0.5"/>
<line x1="250.9" y1="386.9" x2="250.9" y2="388.9" stroke="#000" stroke-width="0.8"/>
<line x1="281.6" y1="386.9" x2="281.6" y2="388.9" stroke="#000" stroke-width="0.8"/>
<line x1="312.8" y1="386.9" x2="312.8" y2="388.9" stroke="#000" stroke-width="0.8"/>
<text x="250.9" y="396" font-size="5.9" fill="#222" text-anchor="middle">2</text>
<text x="281.6" y="396" font-size="5.9" fill="#222" text-anchor="middle">3</text>
<text x="312.8" y="396" font-size="5.9" fill="#222" text-anchor="middle">4</text>
<text x="254.6" y="295.5" font-size="8.7" font-weight="bold" fill="#000">04H138</text>
<text x="255" y="380" font-size="8.7" font-weight="bold" fill="#000">12H183</text>
<path d="M 295.7 236.6 C 297.53 236.58 299.88 237.72 301.2 238.9 C 302.52 240.08 303.33 242.12 303.6 243.7 C 303.87 245.28 303.58 247.08 302.8 248.4 C 302.02 249.72 300.47 251.07 298.9 251.6 C 297.33 252.13 295.12 252.13 293.4 251.6 C 291.68 251.07 289.52 249.85 288.6 248.4 C 287.68 246.95 287.63 244.47 287.9 242.9 C 288.17 241.33 288.9 240.05 290.2 239 C 291.5 237.95 293.87 236.62 295.7 236.6 Z" fill="#111"/>
<ellipse cx="293.8" cy="243.5" rx="2.2" ry="3" fill="#555"/>
<path d="M 288.5 253 C 289.3 252.08 291.75 252.33 293 252.5 C 294.25 252.67 295.83 253.08 296 254 C 296.17 254.92 295 256.83 294 258 C 293 259.17 290.97 261 290 261 C 289.03 261 288.45 259.33 288.2 258 C 287.95 256.67 287.7 253.92 288.5 253 Z" fill="#888" stroke="#333" stroke-width="0.5"/>
<path d="M 289.4 257.1 C 290.7 256.18 293.07 254.68 295.7 253.9 C 298.33 253.12 302.58 252.4 305.2 252.4 C 307.82 252.4 310.1 252.98 311.4 253.9 C 312.7 254.82 313 256.45 313 257.9 C 313 259.35 312.7 260.9 311.4 262.6 C 310.1 264.3 307.42 266.67 305.2 268.1 C 302.98 269.53 300.07 270.55 298.1 271.2 C 296.13 271.85 294.72 272.12 293.4 272 C 292.08 271.88 291 271.8 290.2 270.5 C 289.4 269.2 288.98 266.05 288.6 264.2 C 288.22 262.35 287.77 260.58 287.9 259.4 C 288.03 258.22 288.1 258.02 289.4 257.1 Z" fill="#0c0c0c"/>
<path d="M 290 269 L 289.4 276.5 L 296 271.5 Z" fill="#999" stroke="#333" stroke-width="0.5"/>
<ellipse cx="303" cy="261" rx="3" ry="0.9" fill="#666" transform="rotate(-25 303 261)"/>
<path d="M 300.2 322.6 C 301.83 322.55 304.57 322.77 306.2 323.4 C 307.83 324.03 309.48 325.15 310 326.4 C 310.52 327.65 309.8 329.27 309.3 330.9 C 308.8 332.53 307.63 334.3 307 336.2 C 306.37 338.1 306.13 340.65 305.5 342.3 C 304.87 343.95 304.33 345.28 303.2 346.1 C 302.07 346.92 299.97 347.45 298.7 347.2 C 297.43 346.95 296.37 345.92 295.6 344.6 C 294.83 343.28 294.47 341.32 294.1 339.3 C 293.73 337.28 293.4 334.52 293.4 332.5 C 293.4 330.48 293.6 328.67 294.1 327.2 C 294.6 325.73 295.38 324.47 296.4 323.7 C 297.42 322.93 298.57 322.65 300.2 322.6 Z" fill="#0c0c0c"/>
<ellipse cx="299.5" cy="343" rx="3.2" ry="3" fill="#666"/>
<ellipse cx="299.8" cy="332" rx="0.8" ry="1.2" fill="#ccc"/>
<path d="M284.7 231.1 L315.3 231.1 L315.3 244.1 L284.7 254.7 Z" fill="none" stroke="#3a4f7a" stroke-width="1.1"/>
<path d="M315.1 252.4 L284.7 262.6 L284.7 277.5 L315.1 277.5 Z" fill="none" stroke="#3a4f7a" stroke-width="1.1"/>
<path d="M285 315.4 L315.3 315.4 L315.3 327.9 L285 338.5 Z" fill="none" stroke="#3a4f7a" stroke-width="1.1"/>
<path d="M315.3 335.1 L285 345.3 L285 360.1 L315.3 360.1 Z" fill="none" stroke="#3a4f7a" stroke-width="1.1"/>
<path d="M 315.3 235.4 L 459 235.4 L 459 242" fill="none" stroke="#4a6088" stroke-width="1.1"/>
<path d="M459 246.3 L456.4 241.3 L461.6 241.3 Z" fill="#4a6088"/>
<line x1="315.1" y1="263.2" x2="332.5" y2="263.2" stroke="#4a6088" stroke-width="1.1"/>
<path d="M337 263.2 L332 260.6 L332 265.8 Z" fill="#4a6088"/>
<path d="M 315.3 320.5 L 455.8 320.5 L 455.8 326" fill="none" stroke="#4a6088" stroke-width="1.1"/>
<path d="M455.8 330.5 L453.2 325.5 L458.4 325.5 Z" fill="#4a6088"/>
<line x1="315.3" y1="347" x2="333.5" y2="347" stroke="#4a6088" stroke-width="1.1"/>
<path d="M338 347 L333 344.4 L333 349.6 Z" fill="#4a6088"/>
<rect x="366.9" y="269" width="8.5" height="30" fill="#b9c4d9"/>
<path d="M335.2 299.0 335.6 299.0 336.0 299.0 336.4 299.0 336.8 299.0 337.2 299.0 337.6 299.0 338.0 299.0 338.4 299.0 338.8 299.0 339.2 299.0 339.6 299.0 340.0 299.0 340.4 299.0 340.8 299.0 341.2 299.0 341.6 299.0 342.0 299.0 342.4 298.9 342.8 298.8 343.2 298.7 343.6 298.5 344.0 298.1 344.4 297.4 344.8 296.5 345.2 295.3 345.6 293.6 346.0 291.5 346.4 289.2 346.8 286.6 347.2 284.1 347.6 281.9 348.0 280.2 348.4 279.3 348.8 279.3 349.2 280.2 349.6 281.8 350.0 284.0 350.4 286.4 350.8 288.7 351.2 290.8 351.6 292.4 352.0 293.3 352.4 293.5 352.8 293.0 353.2 291.8 353.6 290.0 354.0 287.9 354.4 285.7 354.8 283.6 355.2 281.9 355.6 280.9 356.0 280.7 356.4 281.4 356.8 282.7 357.2 284.7 357.6 287.0 358.0 289.4 358.4 291.7 358.8 293.6 359.2 295.3 359.6 296.5 360.0 297.4 360.4 298.1 360.8 298.5 361.2 298.7 361.6 298.8 362.0 298.9 362.4 299.0 362.8 299.0 363.2 299.0 363.6 299.0 364.0 299.0 364.4 299.0 364.8 299.0 365.2 299.0 365.6 299.0 366.0 299.0 366.4 299.0 366.8 299.0 367.2 299.0 367.6 299.0 368.0 299.0 368.4 299.0 368.8 299.0 369.2 299.0 369.6 299.0 370.0 299.0 370.4 299.0 370.8 299.0 371.2 298.9 371.6 298.8 372.0 298.7 372.4 298.4 372.8 298.0 373.2 297.3 373.6 296.3 374.0 294.8 374.4 292.9 374.8 290.6 375.2 287.8 375.6 284.7 376.0 281.5 376.4 278.6 376.8 276.2 377.2 274.6 377.6 274.1 378.0 274.6 378.4 276.2 378.8 278.6 379.2 281.5 379.6 284.7 380.0 287.8 380.4 290.6 380.8 292.9 381.2 294.8 381.6 296.3 382.0 297.3 382.4 298.0 382.8 298.4 383.2 298.7 383.6 298.8 384.0 298.9 384.4 299.0 384.8 299.0 385.2 299.0 385.6 299.0 386.0 299.0 386.4 298.9 386.8 298.8 387.2 298.7 387.6 298.5 388.0 298.1 388.4 297.4 388.8 296.5 389.2 295.3 389.6 293.6 390.0 291.7 390.4 289.4 390.8 287.0 391.2 284.7 391.6 282.7 392.0 281.4 392.4 280.7 392.8 280.9 393.2 282.0 393.6 283.7 394.0 285.8 394.4 288.2 394.8 290.6 395.2 292.7 395.6 294.5 396.0 295.9 396.4 297.0 396.8 297.8 397.2 298.3 397.6 298.6 398.0 298.8 398.4 298.9 398.8 298.9 399.2 299.0 399.6 299.0 400.0 299.0 400.4 299.0 400.8 299.0 401.2 299.0 401.6 299.0 402.0 299.0 402.4 299.0 402.8 299.0 403.2 299.0 403.6 299.0 404.0 299.0 404.4 299.0 404.8 299.0 405.2 299.0 405.6 299.0 406.0 299.0 406.4 299.0 406.8 299.0 407.2 299.0 407.6 299.0 408.0 299.0" fill="none" stroke="#3c2866" stroke-width="1.3" stroke-linejoin="round"/>
<path d="M335.2 298.6 335.6 298.2 336.0 297.8 336.4 297.1 336.8 296.1 337.2 294.9 337.6 293.5 338.0 291.9 338.4 290.4 338.8 289.0 339.2 287.9 339.6 287.4 340.0 287.4 340.4 287.9 340.8 289.0 341.2 290.4 341.6 291.9 342.0 293.5 342.4 294.9 342.8 296.1 343.2 297.1 343.6 297.8 344.0 298.2 344.4 298.6 344.8 298.8 345.2 298.9 345.6 298.9 346.0 299.0 346.4 299.0 346.8 299.0 347.2 299.0 347.6 299.0 348.0 299.0 348.4 299.0 348.8 299.0 349.2 299.0 349.6 299.0 350.0 299.0 350.4 299.0 350.8 299.0 351.2 299.0 351.6 299.0 352.0 299.0 352.4 299.0 352.8 299.0 353.2 299.0 353.6 299.0 354.0 299.0 354.4 299.0 354.8 299.0 355.2 299.0 355.6 299.0 356.0 299.0 356.4 299.0 356.8 299.0 357.2 299.0 357.6 299.0 358.0 299.0 358.4 299.0 358.8 299.0 359.2 299.0 359.6 299.0 360.0 299.0 360.4 299.0 360.8 299.0 361.2 299.0 361.6 299.0 362.0 299.0 362.4 299.0 362.8 299.0 363.2 299.0 363.6 299.0 364.0 299.0 364.4 299.0 364.8 299.0 365.2 299.0 365.6 299.0 366.0 299.0 366.4 299.0 366.8 299.0 367.2 299.0 367.6 299.0 368.0 299.0 368.4 299.0 368.8 299.0 369.2 299.0 369.6 299.0 370.0 299.0 370.4 299.0 370.8 299.0 371.2 299.0 371.6 299.0 372.0 299.0 372.4 299.0 372.8 299.0 373.2 299.0 373.6 299.0 374.0 299.0 374.4 299.0 374.8 299.0 375.2 299.0 375.6 299.0 376.0 299.0 376.4 299.0 376.8 299.0 377.2 299.0 377.6 299.0 378.0 299.0 378.4 299.0 378.8 299.0 379.2 299.0 379.6 299.0 380.0 299.0 380.4 299.0 380.8 299.0 381.2 299.0 381.6 299.0 382.0 299.0 382.4 299.0 382.8 299.0 383.2 299.0 383.6 299.0 384.0 299.0 384.4 299.0 384.8 299.0 385.2 299.0 385.6 299.0 386.0 299.0 386.4 299.0 386.8 299.0 387.2 299.0 387.6 299.0 388.0 299.0 388.4 299.0 388.8 299.0 389.2 299.0 389.6 299.0 390.0 299.0 390.4 299.0 390.8 299.0 391.2 299.0 391.6 299.0 392.0 299.0 392.4 298.9 392.8 298.9 393.2 298.7 393.6 298.5 394.0 298.1 394.4 297.5 394.8 296.6 395.2 295.3 395.6 293.5 396.0 291.3 396.4 288.8 396.8 285.9 397.2 282.9 397.6 280.2 398.0 278.0 398.4 276.5 398.8 276.0 399.2 276.5 399.6 278.0 400.0 280.2 400.4 282.9 400.8 285.9 401.2 288.8 401.6 291.3 402.0 293.5 402.4 295.3 402.8 296.6 403.2 297.5 403.6 298.1 404.0 298.5 404.4 298.7 404.8 298.9 405.2 298.9 405.6 299.0 406.0 299.0 406.4 299.0 406.8 299.0 407.2 299.0 407.6 299.0 408.0 299.0" fill="none" stroke="#2f5597" stroke-width="1.3" stroke-linejoin="round"/>
<path d="M335.2 299.0 335.6 299.0 336.0 299.0 336.4 299.0 336.8 299.0 337.2 299.0 337.6 299.0 338.0 299.0 338.4 299.0 338.8 299.0 339.2 299.0 339.6 299.0 340.0 299.0 340.4 299.0 340.8 299.0 341.2 299.0 341.6 299.0 342.0 299.0 342.4 299.0 342.8 299.0 343.2 299.0 343.6 299.0 344.0 299.0 344.4 299.0 344.8 299.0 345.2 299.0 345.6 299.0 346.0 299.0 346.4 299.0 346.8 299.0 347.2 299.0 347.6 299.0 348.0 299.0 348.4 299.0 348.8 299.0 349.2 299.0 349.6 299.0 350.0 299.0 350.4 299.0 350.8 299.0 351.2 299.0 351.6 299.0 352.0 299.0 352.4 299.0 352.8 299.0 353.2 299.0 353.6 299.0 354.0 299.0 354.4 299.0 354.8 299.0 355.2 299.0 355.6 299.0 356.0 299.0 356.4 299.0 356.8 298.9 357.2 298.9 357.6 298.8 358.0 298.6 358.4 298.3 358.8 297.8 359.2 297.0 359.6 295.9 360.0 294.5 360.4 292.6 360.8 290.4 361.2 287.9 361.6 285.3 362.0 282.9 362.4 280.9 362.8 279.6 363.2 279.2 363.6 279.6 364.0 280.9 364.4 282.8 364.8 285.0 365.2 287.4 365.6 289.5 366.0 291.2 366.4 292.2 366.8 292.6 367.2 292.3 367.6 291.5 368.0 290.2 368.4 288.8 368.8 287.5 369.2 286.4 369.6 285.8 370.0 285.9 370.4 286.5 370.8 287.7 371.2 289.2 371.6 291.0 372.0 292.7 372.4 294.3 372.8 295.7 373.2 296.7 373.6 297.6 374.0 298.1 374.4 298.5 374.8 298.7 375.2 298.8 375.6 298.9 376.0 299.0 376.4 299.0 376.8 299.0 377.2 299.0 377.6 299.0 378.0 298.9 378.4 298.8 378.8 298.6 379.2 298.3 379.6 297.9 380.0 297.1 380.4 296.0 380.8 294.5 381.2 292.5 381.6 290.0 382.0 287.0 382.4 283.8 382.8 280.5 383.2 277.4 383.6 274.9 384.0 273.3 384.4 272.7 384.8 273.3 385.2 274.9 385.6 277.4 386.0 280.5 386.4 283.8 386.8 287.0 387.2 290.0 387.6 292.5 388.0 294.5 388.4 296.0 388.8 297.1 389.2 297.9 389.6 298.3 390.0 298.6 390.4 298.8 390.8 298.9 391.2 299.0 391.6 299.0 392.0 299.0 392.4 299.0 392.8 299.0 393.2 299.0 393.6 299.0 394.0 299.0 394.4 299.0 394.8 299.0 395.2 299.0 395.6 299.0 396.0 299.0 396.4 299.0 396.8 299.0 397.2 299.0 397.6 299.0 398.0 299.0 398.4 299.0 398.8 299.0 399.2 299.0 399.6 299.0 400.0 299.0 400.4 299.0 400.8 299.0 401.2 299.0 401.6 299.0 402.0 299.0 402.4 299.0 402.8 299.0 403.2 299.0 403.6 299.0 404.0 299.0 404.4 299.0 404.8 299.0 405.2 299.0 405.6 299.0 406.0 299.0 406.4 299.0 406.8 299.0 407.2 299.0 407.6 299.0 408.0 299.0" fill="none" stroke="#6cbd48" stroke-width="1.3" stroke-linejoin="round"/>
<path d="M335.2 299.0 335.6 299.0 336.0 299.0 336.4 299.0 336.8 299.0 337.2 299.0 337.6 299.0 338.0 299.0 338.4 299.0 338.8 299.0 339.2 299.0 339.6 299.0 340.0 299.0 340.4 299.0 340.8 299.0 341.2 299.0 341.6 299.0 342.0 299.0 342.4 299.0 342.8 299.0 343.2 299.0 343.6 299.0 344.0 299.0 344.4 299.0 344.8 299.0 345.2 299.0 345.6 299.0 346.0 299.0 346.4 299.0 346.8 299.0 347.2 299.0 347.6 299.0 348.0 299.0 348.4 299.0 348.8 299.0 349.2 299.0 349.6 299.0 350.0 299.0 350.4 299.0 350.8 299.0 351.2 299.0 351.6 299.0 352.0 299.0 352.4 299.0 352.8 299.0 353.2 299.0 353.6 299.0 354.0 299.0 354.4 299.0 354.8 299.0 355.2 299.0 355.6 299.0 356.0 299.0 356.4 299.0 356.8 299.0 357.2 299.0 357.6 299.0 358.0 299.0 358.4 299.0 358.8 299.0 359.2 299.0 359.6 299.0 360.0 299.0 360.4 299.0 360.8 299.0 361.2 299.0 361.6 299.0 362.0 299.0 362.4 299.0 362.8 299.0 363.2 299.0 363.6 299.0 364.0 299.0 364.4 299.0 364.8 299.0 365.2 299.0 365.6 299.0 366.0 298.9 366.4 298.9 366.8 298.8 367.2 298.6 367.6 298.4 368.0 298.0 368.4 297.5 368.8 296.9 369.2 296.1 369.6 295.3 370.0 294.5 370.4 293.8 370.8 293.3 371.2 293.1 371.6 293.2 372.0 293.6 372.4 294.2 372.8 294.9 373.2 295.7 373.6 296.5 374.0 297.2 374.4 297.8 374.8 298.2 375.2 298.5 375.6 298.7 376.0 298.8 376.4 298.9 376.8 299.0 377.2 299.0 377.6 299.0 378.0 299.0 378.4 299.0 378.8 299.0 379.2 299.0 379.6 299.0 380.0 299.0 380.4 299.0 380.8 299.0 381.2 299.0 381.6 299.0 382.0 299.0 382.4 299.0 382.8 299.0 383.2 299.0 383.6 299.0 384.0 299.0 384.4 299.0 384.8 299.0 385.2 299.0 385.6 299.0 386.0 299.0 386.4 299.0 386.8 299.0 387.2 299.0 387.6 299.0 388.0 299.0 388.4 299.0 388.8 299.0 389.2 299.0 389.6 299.0 390.0 299.0 390.4 299.0 390.8 299.0 391.2 299.0 391.6 299.0 392.0 299.0 392.4 299.0 392.8 299.0 393.2 299.0 393.6 299.0 394.0 299.0 394.4 299.0 394.8 299.0 395.2 299.0 395.6 299.0 396.0 299.0 396.4 299.0 396.8 299.0 397.2 299.0 397.6 299.0 398.0 299.0 398.4 299.0 398.8 299.0 399.2 299.0 399.6 299.0 400.0 299.0 400.4 299.0 400.8 299.0 401.2 299.0 401.6 299.0 402.0 299.0 402.4 299.0 402.8 299.0 403.2 299.0 403.6 299.0 404.0 299.0 404.4 299.0 404.8 299.0 405.2 299.0 405.6 299.0 406.0 299.0 406.4 299.0 406.8 299.0 407.2 299.0 407.6 299.0 408.0 299.0" fill="none" stroke="#c0203e" stroke-width="1.3" stroke-linejoin="round"/>
<line x1="335.2" y1="299" x2="408" y2="299" stroke="#b02040" stroke-width="1.5"/>
<text x="342" y="261.7" font-size="6.6" fill="#606a80" text-anchor="middle" stroke="#606a80" stroke-width="0.22">C</text>
<text x="349.4" y="261.7" font-size="6.6" fill="#5c566c" text-anchor="middle" stroke="#5c566c" stroke-width="0.22">G</text>
<text x="356.7" y="261.7" font-size="6.6" fill="#5c566c" text-anchor="middle" stroke="#5c566c" stroke-width="0.22">G</text>
<text x="363.2" y="261.7" font-size="6.6" fill="#86a870" text-anchor="middle" stroke="#86a870" stroke-width="0.22">A</text>
<text x="379.3" y="261.7" font-size="6.6" fill="#5c566c" text-anchor="middle" stroke="#5c566c" stroke-width="0.22">G</text>
<text x="385.9" y="261.7" font-size="6.6" fill="#86a870" text-anchor="middle" stroke="#86a870" stroke-width="0.22">A</text>
<text x="392.5" y="261.7" font-size="6.6" fill="#5c566c" text-anchor="middle" stroke="#5c566c" stroke-width="0.22">G</text>
<text x="399.8" y="261.7" font-size="6.6" fill="#606a80" text-anchor="middle" stroke="#606a80" stroke-width="0.22">C</text>
<text x="370.8" y="257.6" font-size="5.4" fill="#86a870" text-anchor="middle">A</text>
<text x="370.8" y="265.6" font-size="5.4" fill="#9a4a40" text-anchor="middle">T</text>
<line x1="369.3" y1="259.3" x2="372.3" y2="259.3" stroke="#999" stroke-width="0.5"/>
<text x="405.3" y="256.8" font-size="6.2" fill="#5e5e6e">WT</text>
<text x="408.3" y="263.3" font-size="4.5" fill="#5e5e6e" text-anchor="middle">•</text>
<path d="M419.5 299.0 419.9 299.0 420.3 299.0 420.7 299.0 421.1 299.0 421.5 299.0 421.9 299.0 422.3 299.0 422.7 299.0 423.1 299.0 423.5 299.0 423.9 299.0 424.3 299.0 424.7 299.0 425.1 299.0 425.5 299.0 425.9 299.0 426.3 298.9 426.7 298.8 427.1 298.6 427.5 298.4 427.9 297.9 428.3 297.2 428.7 296.2 429.1 294.9 429.5 293.3 429.9 291.3 430.3 289.1 430.7 286.9 431.1 284.9 431.5 283.3 431.9 282.3 432.3 282.1 432.7 282.7 433.1 284.0 433.5 285.8 433.9 288.0 434.3 290.2 434.7 292.2 435.1 294.0 435.5 295.3 435.9 296.2 436.3 296.5 436.7 296.4 437.1 295.8 437.5 294.7 437.9 293.2 438.3 291.2 438.7 289.0 439.1 286.6 439.5 284.4 439.9 282.6 440.3 281.4 440.7 281.0 441.1 281.4 441.5 282.6 441.9 284.4 442.3 286.6 442.7 289.0 443.1 291.3 443.5 293.3 443.9 295.0 444.3 296.3 444.7 297.3 445.1 297.9 445.5 298.4 445.9 298.7 446.3 298.8 446.7 298.9 447.1 299.0 447.5 299.0 447.9 299.0 448.3 299.0 448.7 299.0 449.1 299.0 449.5 299.0 449.9 299.0 450.3 299.0 450.7 299.0 451.1 299.0 451.5 299.0 451.9 299.0 452.3 299.0 452.7 299.0 453.1 299.0 453.5 299.0 453.9 299.0 454.3 299.0 454.7 299.0 455.1 299.0 455.5 299.0 455.9 299.0 456.3 299.0 456.7 298.9 457.1 298.8 457.5 298.7 457.9 298.4 458.3 298.0 458.7 297.3 459.1 296.3 459.5 294.9 459.9 293.2 460.3 291.0 460.7 288.4 461.1 285.7 461.5 283.0 461.9 280.7 462.3 279.0 462.7 278.0 463.1 278.0 463.5 279.0 463.9 280.7 464.3 283.0 464.7 285.7 465.1 288.4 465.5 291.0 465.9 293.2 466.3 294.9 466.7 296.3 467.1 297.3 467.5 298.0 467.9 298.4 468.3 298.7 468.7 298.8 469.1 298.9 469.5 299.0 469.9 299.0 470.3 299.0 470.7 299.0 471.1 299.0 471.5 299.0 471.9 299.0 472.3 299.0 472.7 298.9 473.1 298.8 473.5 298.7 473.9 298.4 474.3 298.0 474.7 297.4 475.1 296.5 475.5 295.3 475.9 293.7 476.3 291.8 476.7 289.7 477.1 287.4 477.5 285.3 477.9 283.6 478.3 282.5 478.7 282.1 479.1 282.5 479.5 283.6 479.9 285.3 480.3 287.4 480.7 289.7 481.1 291.8 481.5 293.7 481.9 295.3 482.3 296.5 482.7 297.4 483.1 298.0 483.5 298.4 483.9 298.7 484.3 298.8 484.7 298.9 485.1 299.0 485.5 299.0 485.9 299.0 486.3 299.0 486.7 299.0 487.1 299.0 487.5 299.0 487.9 299.0 488.3 299.0 488.7 299.0 489.1 299.0 489.5 299.0 489.9 299.0 490.3 299.0 490.7 299.0 491.1 299.0" fill="none" stroke="#3c2866" stroke-width="1.3" stroke-linejoin="round"/>
<path d="M419.5 298.8 419.9 298.6 420.3 298.3 420.7 297.9 421.1 297.3 421.5 296.5 421.9 295.5 422.3 294.3 422.7 293.0 423.1 291.7 423.5 290.6 423.9 289.9 424.3 289.5 424.7 289.6 425.1 290.2 425.5 291.2 425.9 292.3 426.3 293.6 426.7 294.9 427.1 296.0 427.5 296.9 427.9 297.6 428.3 298.1 428.7 298.5 429.1 298.7 429.5 298.8 429.9 298.9 430.3 299.0 430.7 299.0 431.1 299.0 431.5 299.0 431.9 299.0 432.3 299.0 432.7 299.0 433.1 299.0 433.5 299.0 433.9 299.0 434.3 299.0 434.7 299.0 435.1 299.0 435.5 299.0 435.9 299.0 436.3 299.0 436.7 299.0 437.1 299.0 437.5 299.0 437.9 299.0 438.3 299.0 438.7 299.0 439.1 299.0 439.5 299.0 439.9 299.0 440.3 299.0 440.7 299.0 441.1 299.0 441.5 299.0 441.9 299.0 442.3 299.0 442.7 299.0 443.1 299.0 443.5 299.0 443.9 299.0 444.3 299.0 444.7 299.0 445.1 299.0 445.5 299.0 445.9 299.0 446.3 299.0 446.7 299.0 447.1 299.0 447.5 299.0 447.9 299.0 448.3 299.0 448.7 299.0 449.1 299.0 449.5 299.0 449.9 299.0 450.3 299.0 450.7 299.0 451.1 299.0 451.5 299.0 451.9 299.0 452.3 299.0 452.7 299.0 453.1 299.0 453.5 299.0 453.9 299.0 454.3 299.0 454.7 299.0 455.1 299.0 455.5 299.0 455.9 299.0 456.3 299.0 456.7 299.0 457.1 299.0 457.5 299.0 457.9 299.0 458.3 299.0 458.7 299.0 459.1 299.0 459.5 299.0 459.9 299.0 460.3 299.0 460.7 299.0 461.1 299.0 461.5 299.0 461.9 299.0 462.3 299.0 462.7 299.0 463.1 299.0 463.5 299.0 463.9 299.0 464.3 299.0 464.7 299.0 465.1 299.0 465.5 299.0 465.9 299.0 466.3 299.0 466.7 299.0 467.1 299.0 467.5 299.0 467.9 299.0 468.3 299.0 468.7 299.0 469.1 299.0 469.5 299.0 469.9 299.0 470.3 299.0 470.7 299.0 471.1 299.0 471.5 299.0 471.9 299.0 472.3 299.0 472.7 299.0 473.1 299.0 473.5 299.0 473.9 299.0 474.3 299.0 474.7 299.0 475.1 299.0 475.5 299.0 475.9 299.0 476.3 299.0 476.7 299.0 477.1 299.0 477.5 299.0 477.9 299.0 478.3 299.0 478.7 299.0 479.1 298.9 479.5 298.8 479.9 298.6 480.3 298.4 480.7 297.9 481.1 297.2 481.5 296.2 481.9 294.9 482.3 293.3 482.7 291.3 483.1 289.1 483.5 286.9 483.9 284.9 484.3 283.3 484.7 282.3 485.1 282.1 485.5 282.7 485.9 284.0 486.3 285.8 486.7 288.0 487.1 290.2 487.5 292.3 487.9 294.1 488.3 295.6 488.7 296.8 489.1 297.6 489.5 298.2 489.9 298.5 490.3 298.7 490.7 298.9 491.1 298.9" fill="none" stroke="#2f5597" stroke-width="1.3" stroke-linejoin="round"/>
<path d="M419.5 299.0 419.9 299.0 420.3 299.0 420.7 299.0 421.1 299.0 421.5 299.0 421.9 299.0 422.3 299.0 422.7 299.0 423.1 299.0 423.5 299.0 423.9 299.0 424.3 299.0 424.7 299.0 425.1 299.0 425.5 299.0 425.9 299.0 426.3 299.0 426.7 299.0 427.1 299.0 427.5 299.0 427.9 299.0 428.3 299.0 428.7 299.0 429.1 299.0 429.5 299.0 429.9 299.0 430.3 299.0 430.7 299.0 431.1 299.0 431.5 299.0 431.9 299.0 432.3 299.0 432.7 299.0 433.1 299.0 433.5 299.0 433.9 299.0 434.3 299.0 434.7 299.0 435.1 299.0 435.5 299.0 435.9 299.0 436.3 299.0 436.7 299.0 437.1 299.0 437.5 299.0 437.9 299.0 438.3 299.0 438.7 299.0 439.1 299.0 439.5 299.0 439.9 299.0 440.3 299.0 440.7 299.0 441.1 299.0 441.5 298.9 441.9 298.9 442.3 298.8 442.7 298.6 443.1 298.3 443.5 297.7 443.9 296.9 444.3 295.8 444.7 294.2 445.1 292.2 445.5 289.8 445.9 287.1 446.3 284.2 446.7 281.5 447.1 279.2 447.5 277.6 447.9 276.8 448.3 277.1 448.7 278.3 449.1 280.2 449.5 282.7 449.9 285.4 450.3 288.0 450.7 290.2 451.1 291.8 451.5 292.8 451.9 292.9 452.3 292.1 452.7 290.7 453.1 288.6 453.5 286.1 453.9 283.4 454.3 280.8 454.7 278.7 455.1 277.3 455.5 276.8 455.9 277.3 456.3 278.7 456.7 280.9 457.1 283.5 457.5 286.4 457.9 289.2 458.3 291.7 458.7 293.8 459.1 295.4 459.5 296.7 459.9 297.6 460.3 298.1 460.7 298.5 461.1 298.7 461.5 298.9 461.9 298.9 462.3 299.0 462.7 299.0 463.1 299.0 463.5 299.0 463.9 299.0 464.3 299.0 464.7 298.9 465.1 298.9 465.5 298.7 465.9 298.5 466.3 298.1 466.7 297.5 467.1 296.6 467.5 295.3 467.9 293.5 468.3 291.3 468.7 288.5 469.1 285.3 469.5 282.0 469.9 278.8 470.3 276.0 470.7 273.9 471.1 272.7 471.5 272.7 471.9 273.9 472.3 276.0 472.7 278.8 473.1 282.0 473.5 285.3 473.9 288.5 474.3 291.3 474.7 293.5 475.1 295.3 475.5 296.6 475.9 297.5 476.3 298.1 476.7 298.5 477.1 298.7 477.5 298.9 477.9 298.9 478.3 299.0 478.7 299.0 479.1 299.0 479.5 299.0 479.9 299.0 480.3 299.0 480.7 299.0 481.1 299.0 481.5 299.0 481.9 299.0 482.3 299.0 482.7 299.0 483.1 299.0 483.5 299.0 483.9 299.0 484.3 299.0 484.7 299.0 485.1 299.0 485.5 299.0 485.9 299.0 486.3 299.0 486.7 299.0 487.1 299.0 487.5 299.0 487.9 299.0 488.3 299.0 488.7 299.0 489.1 299.0 489.5 299.0 489.9 299.0 490.3 299.0 490.7 299.0 491.1 299.0" fill="none" stroke="#6cbd48" stroke-width="1.3" stroke-linejoin="round"/>
<line x1="419.5" y1="299" x2="491.4" y2="299" stroke="#b02040" stroke-width="1.5"/>
<text x="427.6" y="261.5" font-size="6.6" fill="#606a80" text-anchor="middle" stroke="#606a80" stroke-width="0.22">C</text>
<text x="434.9" y="261.5" font-size="6.6" fill="#5c566c" text-anchor="middle" stroke="#5c566c" stroke-width="0.22">G</text>
<text x="442.2" y="261.5" font-size="6.6" fill="#5c566c" text-anchor="middle" stroke="#5c566c" stroke-width="0.22">G</text>
<text x="449.5" y="261.5" font-size="6.6" fill="#86a870" text-anchor="middle" stroke="#86a870" stroke-width="0.22">A</text>
<text x="456.8" y="261.5" font-size="6.6" fill="#86a870" text-anchor="middle" stroke="#86a870" stroke-width="0.22">A</text>
<text x="464.1" y="261.5" font-size="6.6" fill="#5c566c" text-anchor="middle" stroke="#5c566c" stroke-width="0.22">G</text>
<text x="471.4" y="261.5" font-size="6.6" fill="#86a870" text-anchor="middle" stroke="#86a870" stroke-width="0.22">A</text>
<text x="478.7" y="261.5" font-size="6.6" fill="#5c566c" text-anchor="middle" stroke="#5c566c" stroke-width="0.22">G</text>
<text x="486" y="261.5" font-size="6.6" fill="#606a80" text-anchor="middle" stroke="#606a80" stroke-width="0.22">C</text>
<text x="491" y="260.5" font-size="6.2" fill="#5e5e6e">WT</text>
<rect x="366.7" y="345.2" width="6.9" height="28.5" fill="#b9c4d9"/>
<path d="M336.0 373.7 336.4 373.7 336.8 373.7 337.2 373.7 337.6 373.7 338.0 373.7 338.4 373.7 338.8 373.7 339.2 373.7 339.6 373.7 340.0 373.7 340.4 373.7 340.8 373.7 341.2 373.7 341.6 373.7 342.0 373.6 342.4 373.6 342.8 373.5 343.2 373.3 343.6 372.9 344.0 372.4 344.4 371.6 344.8 370.6 345.2 369.1 345.6 367.3 346.0 365.2 346.4 363.0 346.8 360.7 347.2 358.8 347.6 357.3 348.0 356.5 348.4 356.5 348.8 357.3 349.2 358.8 349.6 360.7 350.0 363.0 350.4 365.2 350.8 367.3 351.2 369.1 351.6 370.6 352.0 371.6 352.4 372.4 352.8 372.9 353.2 373.3 353.6 373.5 354.0 373.6 354.4 373.6 354.8 373.7 355.2 373.7 355.6 373.7 356.0 373.7 356.4 373.7 356.8 373.7 357.2 373.7 357.6 373.7 358.0 373.7 358.4 373.7 358.8 373.7 359.2 373.7 359.6 373.7 360.0 373.7 360.4 373.7 360.8 373.7 361.2 373.7 361.6 373.7 362.0 373.7 362.4 373.7 362.8 373.7 363.2 373.7 363.6 373.7 364.0 373.7 364.4 373.7 364.8 373.7 365.2 373.7 365.6 373.7 366.0 373.7 366.4 373.7 366.8 373.7 367.2 373.7 367.6 373.7 368.0 373.7 368.4 373.7 368.8 373.7 369.2 373.7 369.6 373.7 370.0 373.7 370.4 373.7 370.8 373.7 371.2 373.7 371.6 373.7 372.0 373.7 372.4 373.7 372.8 373.7 373.2 373.7 373.6 373.7 374.0 373.7 374.4 373.7 374.8 373.7 375.2 373.7 375.6 373.7 376.0 373.7 376.4 373.7 376.8 373.7 377.2 373.7 377.6 373.7 378.0 373.7 378.4 373.7 378.8 373.7 379.2 373.7 379.6 373.7 380.0 373.7 380.4 373.7 380.8 373.7 381.2 373.7 381.6 373.7 382.0 373.7 382.4 373.7 382.8 373.7 383.2 373.7 383.6 373.7 384.0 373.7 384.4 373.7 384.8 373.7 385.2 373.7 385.6 373.7 386.0 373.7 386.4 373.6 386.8 373.5 387.2 373.3 387.6 373.0 388.0 372.6 388.4 371.9 388.8 370.9 389.2 369.5 389.6 367.8 390.0 365.8 390.4 363.5 390.8 361.3 391.2 359.2 391.6 357.6 392.0 356.6 392.4 356.4 392.8 357.0 393.2 358.3 393.6 360.2 394.0 362.4 394.4 364.7 394.8 366.8 395.2 368.7 395.6 370.2 396.0 371.4 396.4 372.3 396.8 372.8 397.2 373.2 397.6 373.4 398.0 373.6 398.4 373.6 398.8 373.7 399.2 373.7 399.6 373.7 400.0 373.7 400.4 373.7 400.8 373.7 401.2 373.7 401.6 373.7 402.0 373.7 402.4 373.7 402.8 373.7 403.2 373.7 403.6 373.7 404.0 373.7 404.4 373.7 404.8 373.7 405.2 373.7 405.6 373.7 406.0 373.7 406.4 373.7 406.8 373.7" fill="none" stroke="#3c2866" stroke-width="1.3" stroke-linejoin="round"/>
<path d="M336.0 373.6 336.4 373.4 336.8 373.2 337.2 372.9 337.6 372.3 338.0 371.6 338.4 370.7 338.8 369.5 339.2 368.1 339.6 366.7 340.0 365.4 340.4 364.3 340.8 363.6 341.2 363.3 341.6 363.6 342.0 364.3 342.4 365.4 342.8 366.7 343.2 368.1 343.6 369.5 344.0 370.7 344.4 371.6 344.8 372.3 345.2 372.9 345.6 373.2 346.0 373.4 346.4 373.6 346.8 373.6 347.2 373.7 347.6 373.7 348.0 373.7 348.4 373.7 348.8 373.7 349.2 373.7 349.6 373.7 350.0 373.6 350.4 373.5 350.8 373.4 351.2 373.1 351.6 372.6 352.0 372.0 352.4 371.0 352.8 369.7 353.2 368.0 353.6 365.9 354.0 363.6 354.4 361.3 354.8 359.0 355.2 357.2 355.6 356.0 356.0 355.6 356.4 356.0 356.8 357.2 357.2 359.0 357.6 361.3 358.0 363.6 358.4 365.9 358.8 368.0 359.2 369.7 359.6 371.0 360.0 372.0 360.4 372.6 360.8 373.1 361.2 373.4 361.6 373.5 362.0 373.6 362.4 373.7 362.8 373.7 363.2 373.7 363.6 373.7 364.0 373.7 364.4 373.7 364.8 373.7 365.2 373.7 365.6 373.7 366.0 373.7 366.4 373.7 366.8 373.7 367.2 373.7 367.6 373.7 368.0 373.7 368.4 373.7 368.8 373.7 369.2 373.7 369.6 373.7 370.0 373.7 370.4 373.7 370.8 373.7 371.2 373.7 371.6 373.7 372.0 373.7 372.4 373.7 372.8 373.7 373.2 373.7 373.6 373.7 374.0 373.7 374.4 373.7 374.8 373.7 375.2 373.7 375.6 373.7 376.0 373.7 376.4 373.7 376.8 373.7 377.2 373.7 377.6 373.7 378.0 373.7 378.4 373.7 378.8 373.7 379.2 373.7 379.6 373.7 380.0 373.7 380.4 373.7 380.8 373.7 381.2 373.7 381.6 373.7 382.0 373.7 382.4 373.7 382.8 373.7 383.2 373.7 383.6 373.7 384.0 373.7 384.4 373.7 384.8 373.7 385.2 373.7 385.6 373.7 386.0 373.7 386.4 373.7 386.8 373.7 387.2 373.7 387.6 373.7 388.0 373.7 388.4 373.7 388.8 373.7 389.2 373.7 389.6 373.7 390.0 373.7 390.4 373.7 390.8 373.7 391.2 373.7 391.6 373.7 392.0 373.7 392.4 373.7 392.8 373.7 393.2 373.7 393.6 373.6 394.0 373.6 394.4 373.5 394.8 373.3 395.2 373.0 395.6 372.5 396.0 371.7 396.4 370.6 396.8 369.2 397.2 367.3 397.6 365.0 398.0 362.5 398.4 359.9 398.8 357.5 399.2 355.6 399.6 354.3 400.0 353.8 400.4 354.3 400.8 355.6 401.2 357.5 401.6 359.9 402.0 362.5 402.4 365.0 402.8 367.3 403.2 369.2 403.6 370.6 404.0 371.7 404.4 372.5 404.8 373.0 405.2 373.3 405.6 373.5 406.0 373.6 406.4 373.6 406.8 373.7" fill="none" stroke="#2f5597" stroke-width="1.3" stroke-linejoin="round"/>
<path d="M336.0 373.7 336.4 373.7 336.8 373.7 337.2 373.7 337.6 373.7 338.0 373.7 338.4 373.7 338.8 373.7 339.2 373.7 339.6 373.7 340.0 373.7 340.4 373.7 340.8 373.7 341.2 373.7 341.6 373.7 342.0 373.7 342.4 373.7 342.8 373.7 343.2 373.7 343.6 373.7 344.0 373.7 344.4 373.7 344.8 373.7 345.2 373.7 345.6 373.7 346.0 373.7 346.4 373.7 346.8 373.7 347.2 373.7 347.6 373.7 348.0 373.7 348.4 373.7 348.8 373.7 349.2 373.7 349.6 373.7 350.0 373.7 350.4 373.7 350.8 373.7 351.2 373.7 351.6 373.7 352.0 373.7 352.4 373.7 352.8 373.7 353.2 373.7 353.6 373.7 354.0 373.7 354.4 373.7 354.8 373.7 355.2 373.7 355.6 373.7 356.0 373.7 356.4 373.7 356.8 373.6 357.2 373.6 357.6 373.4 358.0 373.2 358.4 372.9 358.8 372.4 359.2 371.6 359.6 370.5 360.0 369.0 360.4 367.2 360.8 365.2 361.2 363.0 361.6 360.9 362.0 359.2 362.4 357.9 362.8 357.3 363.2 357.5 363.6 358.4 364.0 360.0 364.4 361.9 364.8 363.9 365.2 365.9 365.6 367.6 366.0 368.8 366.4 369.5 366.8 369.5 367.2 369.1 367.6 368.1 368.0 366.7 368.4 365.2 368.8 363.6 369.2 362.2 369.6 361.2 370.0 360.7 370.4 360.8 370.8 361.5 371.2 362.6 371.6 364.0 372.0 365.4 372.4 366.5 372.8 367.2 373.2 367.3 373.6 366.7 374.0 365.5 374.4 363.7 374.8 361.4 375.2 359.1 375.6 356.9 376.0 355.1 376.4 354.0 376.8 353.8 377.2 354.5 377.6 356.0 378.0 358.1 378.4 360.6 378.8 363.1 379.2 365.5 379.6 367.6 380.0 369.2 380.4 370.2 380.8 370.7 381.2 370.7 381.6 370.0 382.0 368.7 382.4 366.9 382.8 364.6 383.2 361.8 383.6 358.9 384.0 356.0 384.4 353.4 384.8 351.5 385.2 350.5 385.6 350.5 386.0 351.5 386.4 353.4 386.8 356.0 387.2 358.9 387.6 361.9 388.0 364.7 388.4 367.1 388.8 369.1 389.2 370.6 389.6 371.7 390.0 372.5 390.4 373.0 390.8 373.3 391.2 373.5 391.6 373.6 392.0 373.6 392.4 373.7 392.8 373.7 393.2 373.7 393.6 373.7 394.0 373.7 394.4 373.7 394.8 373.7 395.2 373.7 395.6 373.7 396.0 373.7 396.4 373.7 396.8 373.7 397.2 373.7 397.6 373.7 398.0 373.7 398.4 373.7 398.8 373.7 399.2 373.7 399.6 373.7 400.0 373.7 400.4 373.7 400.8 373.7 401.2 373.7 401.6 373.7 402.0 373.7 402.4 373.7 402.8 373.7 403.2 373.7 403.6 373.7 404.0 373.7 404.4 373.7 404.8 373.7 405.2 373.7 405.6 373.7 406.0 373.7 406.4 373.7 406.8 373.7" fill="none" stroke="#6cbd48" stroke-width="1.3" stroke-linejoin="round"/>
<path d="M336.0 373.7 336.4 373.7 336.8 373.7 337.2 373.7 337.6 373.7 338.0 373.7 338.4 373.7 338.8 373.7 339.2 373.7 339.6 373.7 340.0 373.7 340.4 373.7 340.8 373.7 341.2 373.7 341.6 373.7 342.0 373.7 342.4 373.7 342.8 373.7 343.2 373.7 343.6 373.7 344.0 373.7 344.4 373.7 344.8 373.7 345.2 373.7 345.6 373.7 346.0 373.7 346.4 373.7 346.8 373.7 347.2 373.7 347.6 373.7 348.0 373.7 348.4 373.7 348.8 373.7 349.2 373.7 349.6 373.7 350.0 373.7 350.4 373.7 350.8 373.7 351.2 373.7 351.6 373.7 352.0 373.7 352.4 373.7 352.8 373.7 353.2 373.7 353.6 373.7 354.0 373.7 354.4 373.7 354.8 373.7 355.2 373.7 355.6 373.7 356.0 373.7 356.4 373.7 356.8 373.7 357.2 373.7 357.6 373.7 358.0 373.7 358.4 373.7 358.8 373.7 359.2 373.7 359.6 373.7 360.0 373.7 360.4 373.7 360.8 373.7 361.2 373.7 361.6 373.7 362.0 373.7 362.4 373.7 362.8 373.7 363.2 373.7 363.6 373.7 364.0 373.7 364.4 373.7 364.8 373.7 365.2 373.7 365.6 373.6 366.0 373.6 366.4 373.4 366.8 373.2 367.2 372.9 367.6 372.5 368.0 371.9 368.4 371.1 368.8 370.2 369.2 369.1 369.6 368.1 370.0 367.1 370.4 366.4 370.8 366.0 371.2 366.0 371.6 366.4 372.0 367.1 372.4 368.1 372.8 369.1 373.2 370.2 373.6 371.1 374.0 371.9 374.4 372.5 374.8 372.9 375.2 373.2 375.6 373.4 376.0 373.6 376.4 373.6 376.8 373.7 377.2 373.7 377.6 373.7 378.0 373.7 378.4 373.7 378.8 373.7 379.2 373.7 379.6 373.7 380.0 373.7 380.4 373.7 380.8 373.7 381.2 373.7 381.6 373.7 382.0 373.7 382.4 373.7 382.8 373.7 383.2 373.7 383.6 373.7 384.0 373.7 384.4 373.7 384.8 373.7 385.2 373.7 385.6 373.7 386.0 373.7 386.4 373.7 386.8 373.7 387.2 373.7 387.6 373.7 388.0 373.7 388.4 373.7 388.8 373.7 389.2 373.7 389.6 373.7 390.0 373.7 390.4 373.7 390.8 373.7 391.2 373.7 391.6 373.7 392.0 373.7 392.4 373.7 392.8 373.7 393.2 373.7 393.6 373.7 394.0 373.7 394.4 373.7 394.8 373.7 395.2 373.7 395.6 373.7 396.0 373.7 396.4 373.7 396.8 373.7 397.2 373.7 397.6 373.7 398.0 373.7 398.4 373.7 398.8 373.7 399.2 373.7 399.6 373.7 400.0 373.7 400.4 373.7 400.8 373.7 401.2 373.7 401.6 373.7 402.0 373.7 402.4 373.7 402.8 373.7 403.2 373.7 403.6 373.7 404.0 373.7 404.4 373.7 404.8 373.7 405.2 373.7 405.6 373.7 406.0 373.7 406.4 373.7 406.8 373.7" fill="none" stroke="#c0203e" stroke-width="1.3" stroke-linejoin="round"/>
<line x1="336" y1="373.7" x2="407" y2="373.7" stroke="#b02040" stroke-width="1.5"/>
<text x="342" y="338.4" font-size="6.6" fill="#606a80" text-anchor="middle" stroke="#606a80" stroke-width="0.22">C</text>
<text x="349.3" y="338.4" font-size="6.6" fill="#5c566c" text-anchor="middle" stroke="#5c566c" stroke-width="0.22">G</text>
<text x="356.6" y="338.4" font-size="6.6" fill="#606a80" text-anchor="middle" stroke="#606a80" stroke-width="0.22">C</text>
<text x="363.9" y="338.4" font-size="6.6" fill="#86a870" text-anchor="middle" stroke="#86a870" stroke-width="0.22">A</text>
<text x="378.5" y="338.4" font-size="6.6" fill="#86a870" text-anchor="middle" stroke="#86a870" stroke-width="0.22">A</text>
<text x="385.8" y="338.4" font-size="6.6" fill="#86a870" text-anchor="middle" stroke="#86a870" stroke-width="0.22">A</text>
<text x="393.1" y="338.4" font-size="6.6" fill="#5c566c" text-anchor="middle" stroke="#5c566c" stroke-width="0.22">G</text>
<text x="400.4" y="338.4" font-size="6.6" fill="#606a80" text-anchor="middle" stroke="#606a80" stroke-width="0.22">C</text>
<text x="371.2" y="334.4" font-size="5.4" fill="#86a870" text-anchor="middle">A</text>
<text x="371.2" y="342.4" font-size="5.4" fill="#9a4a40" text-anchor="middle">T</text>
<line x1="369.7" y1="336.1" x2="372.7" y2="336.1" stroke="#999" stroke-width="0.5"/>
<text x="405" y="333.5" font-size="6.2" fill="#5e5e6e">WT</text>
<text x="408" y="340" font-size="4.5" fill="#5e5e6e" text-anchor="middle">•</text>
<path d="M417.8 373.7 418.2 373.7 418.6 373.7 419.0 373.7 419.4 373.7 419.8 373.7 420.2 373.7 420.6 373.7 421.0 373.7 421.4 373.7 421.8 373.7 422.2 373.7 422.6 373.7 423.0 373.7 423.4 373.7 423.8 373.7 424.2 373.7 424.6 373.6 425.0 373.6 425.4 373.5 425.8 373.3 426.2 372.9 426.6 372.4 427.0 371.6 427.4 370.6 427.8 369.1 428.2 367.3 428.6 365.2 429.0 363.0 429.4 360.7 429.8 358.8 430.2 357.3 430.6 356.5 431.0 356.5 431.4 357.3 431.8 358.8 432.2 360.7 432.6 363.0 433.0 365.2 433.4 367.3 433.8 369.1 434.2 370.6 434.6 371.6 435.0 372.4 435.4 372.9 435.8 373.3 436.2 373.5 436.6 373.6 437.0 373.6 437.4 373.7 437.8 373.7 438.2 373.7 438.6 373.7 439.0 373.7 439.4 373.7 439.8 373.7 440.2 373.7 440.6 373.7 441.0 373.7 441.4 373.7 441.8 373.7 442.2 373.7 442.6 373.7 443.0 373.7 443.4 373.7 443.8 373.7 444.2 373.7 444.6 373.7 445.0 373.7 445.4 373.7 445.8 373.7 446.2 373.7 446.6 373.7 447.0 373.7 447.4 373.7 447.8 373.7 448.2 373.7 448.6 373.7 449.0 373.7 449.4 373.7 449.8 373.7 450.2 373.7 450.6 373.7 451.0 373.7 451.4 373.7 451.8 373.7 452.2 373.7 452.6 373.7 453.0 373.7 453.4 373.7 453.8 373.7 454.2 373.7 454.6 373.7 455.0 373.7 455.4 373.7 455.8 373.7 456.2 373.7 456.6 373.7 457.0 373.7 457.4 373.7 457.8 373.7 458.2 373.7 458.6 373.7 459.0 373.7 459.4 373.7 459.8 373.7 460.2 373.7 460.6 373.7 461.0 373.7 461.4 373.7 461.8 373.7 462.2 373.7 462.6 373.7 463.0 373.7 463.4 373.7 463.8 373.7 464.2 373.7 464.6 373.7 465.0 373.7 465.4 373.7 465.8 373.7 466.2 373.7 466.6 373.7 467.0 373.7 467.4 373.7 467.8 373.7 468.2 373.7 468.6 373.7 469.0 373.7 469.4 373.7 469.8 373.7 470.2 373.7 470.6 373.6 471.0 373.5 471.4 373.3 471.8 373.0 472.2 372.6 472.6 371.8 473.0 370.8 473.4 369.4 473.8 367.6 474.2 365.5 474.6 363.1 475.0 360.6 475.4 358.3 475.8 356.4 476.2 355.1 476.6 354.7 477.0 355.1 477.4 356.4 477.8 358.3 478.2 360.6 478.6 363.1 479.0 365.5 479.4 367.6 479.8 369.4 480.2 370.8 480.6 371.8 481.0 372.6 481.4 373.0 481.8 373.3 482.2 373.5 482.6 373.6 483.0 373.7 483.4 373.7 483.8 373.7 484.2 373.7 484.6 373.7 485.0 373.7 485.4 373.7 485.8 373.7 486.2 373.7 486.6 373.7 487.0 373.7 487.4 373.7 487.8 373.7 488.2 373.7 488.6 373.7 489.0 373.7 489.4 373.7 489.8 373.7 490.2 373.7" fill="none" stroke="#3c2866" stroke-width="1.3" stroke-linejoin="round"/>
<path d="M417.8 373.6 418.2 373.6 418.6 373.5 419.0 373.3 419.4 373.0 419.8 372.6 420.2 372.0 420.6 371.2 421.0 370.2 421.4 369.0 421.8 367.7 422.2 366.4 422.6 365.3 423.0 364.6 423.4 364.2 423.8 364.3 424.2 364.9 424.6 365.9 425.0 367.0 425.4 368.3 425.8 369.6 426.2 370.7 426.6 371.6 427.0 372.3 427.4 372.8 427.8 373.2 428.2 373.4 428.6 373.5 429.0 373.6 429.4 373.7 429.8 373.7 430.2 373.7 430.6 373.7 431.0 373.7 431.4 373.6 431.8 373.6 432.2 373.5 432.6 373.3 433.0 373.0 433.4 372.5 433.8 371.7 434.2 370.7 434.6 369.3 435.0 367.5 435.4 365.4 435.8 363.0 436.2 360.7 436.6 358.5 437.0 356.9 437.4 355.8 437.8 355.6 438.2 356.3 438.6 357.6 439.0 359.6 439.4 361.8 439.8 364.2 440.2 366.5 440.6 368.4 441.0 370.0 441.4 371.3 441.8 372.2 442.2 372.8 442.6 373.2 443.0 373.4 443.4 373.5 443.8 373.6 444.2 373.7 444.6 373.7 445.0 373.7 445.4 373.7 445.8 373.7 446.2 373.7 446.6 373.7 447.0 373.7 447.4 373.7 447.8 373.7 448.2 373.7 448.6 373.7 449.0 373.7 449.4 373.7 449.8 373.7 450.2 373.7 450.6 373.7 451.0 373.7 451.4 373.7 451.8 373.7 452.2 373.7 452.6 373.7 453.0 373.7 453.4 373.7 453.8 373.7 454.2 373.7 454.6 373.7 455.0 373.7 455.4 373.7 455.8 373.7 456.2 373.7 456.6 373.7 457.0 373.7 457.4 373.7 457.8 373.7 458.2 373.7 458.6 373.7 459.0 373.7 459.4 373.7 459.8 373.7 460.2 373.7 460.6 373.7 461.0 373.7 461.4 373.7 461.8 373.7 462.2 373.7 462.6 373.7 463.0 373.7 463.4 373.7 463.8 373.7 464.2 373.7 464.6 373.7 465.0 373.7 465.4 373.7 465.8 373.7 466.2 373.7 466.6 373.7 467.0 373.7 467.4 373.7 467.8 373.7 468.2 373.7 468.6 373.7 469.0 373.7 469.4 373.7 469.8 373.7 470.2 373.7 470.6 373.7 471.0 373.7 471.4 373.7 471.8 373.7 472.2 373.7 472.6 373.7 473.0 373.7 473.4 373.7 473.8 373.7 474.2 373.7 474.6 373.7 475.0 373.7 475.4 373.7 475.8 373.7 476.2 373.7 476.6 373.7 477.0 373.7 477.4 373.6 477.8 373.5 478.2 373.4 478.6 373.1 479.0 372.7 479.4 372.0 479.8 371.1 480.2 369.8 480.6 368.1 481.0 366.0 481.4 363.7 481.8 361.2 482.2 358.8 482.6 356.8 483.0 355.4 483.4 354.7 483.8 354.9 484.2 355.9 484.6 357.6 485.0 359.7 485.4 361.9 485.8 363.9 486.2 365.6 486.6 366.7 487.0 367.2 487.4 367.1 487.8 366.6 488.2 365.8 488.6 365.0 489.0 364.3 489.4 363.9 489.8 364.0 490.2 364.5" fill="none" stroke="#2f5597" stroke-width="1.3" stroke-linejoin="round"/>
<path d="M417.8 373.7 418.2 373.7 418.6 373.7 419.0 373.7 419.4 373.7 419.8 373.7 420.2 373.7 420.6 373.7 421.0 373.7 421.4 373.7 421.8 373.7 422.2 373.7 422.6 373.7 423.0 373.7 423.4 373.7 423.8 373.7 424.2 373.7 424.6 373.7 425.0 373.7 425.4 373.7 425.8 373.7 426.2 373.7 426.6 373.7 427.0 373.7 427.4 373.7 427.8 373.7 428.2 373.7 428.6 373.7 429.0 373.7 429.4 373.7 429.8 373.7 430.2 373.7 430.6 373.7 431.0 373.7 431.4 373.7 431.8 373.7 432.2 373.7 432.6 373.7 433.0 373.7 433.4 373.7 433.8 373.7 434.2 373.7 434.6 373.7 435.0 373.7 435.4 373.7 435.8 373.7 436.2 373.7 436.6 373.7 437.0 373.7 437.4 373.7 437.8 373.7 438.2 373.7 438.6 373.7 439.0 373.7 439.4 373.7 439.8 373.7 440.2 373.6 440.6 373.5 441.0 373.4 441.4 373.1 441.8 372.7 442.2 372.0 442.6 371.1 443.0 369.8 443.4 368.1 443.8 366.0 444.2 363.7 444.6 361.2 445.0 358.8 445.4 356.8 445.8 355.4 446.2 354.7 446.6 354.9 447.0 355.9 447.4 357.6 447.8 359.7 448.2 362.0 448.6 364.1 449.0 365.7 449.4 366.8 449.8 367.1 450.2 366.6 450.6 365.4 451.0 363.7 451.4 361.4 451.8 359.1 452.2 356.9 452.6 355.1 453.0 354.0 453.4 353.8 453.8 354.5 454.2 356.0 454.6 358.0 455.0 360.5 455.4 362.9 455.8 365.2 456.2 367.1 456.6 368.3 457.0 369.0 457.4 368.9 457.8 368.1 458.2 366.6 458.6 364.7 459.0 362.3 459.4 359.8 459.8 357.5 460.2 355.5 460.6 354.2 461.0 353.8 461.4 354.2 461.8 355.5 462.2 357.5 462.6 359.8 463.0 362.3 463.4 364.7 463.8 366.6 464.2 368.0 464.6 368.8 465.0 368.8 465.4 368.1 465.8 366.7 466.2 364.6 466.6 362.1 467.0 359.3 467.4 356.6 467.8 354.1 468.2 352.3 468.6 351.3 469.0 351.3 469.4 352.3 469.8 354.2 470.2 356.6 470.6 359.4 471.0 362.3 471.4 365.0 471.8 367.4 472.2 369.3 472.6 370.8 473.0 371.8 473.4 372.6 473.8 373.0 474.2 373.3 474.6 373.5 475.0 373.6 475.4 373.7 475.8 373.7 476.2 373.7 476.6 373.7 477.0 373.7 477.4 373.7 477.8 373.7 478.2 373.7 478.6 373.7 479.0 373.7 479.4 373.7 479.8 373.7 480.2 373.7 480.6 373.7 481.0 373.7 481.4 373.7 481.8 373.7 482.2 373.7 482.6 373.7 483.0 373.7 483.4 373.7 483.8 373.7 484.2 373.7 484.6 373.7 485.0 373.7 485.4 373.7 485.8 373.7 486.2 373.7 486.6 373.7 487.0 373.7 487.4 373.7 487.8 373.7 488.2 373.7 488.6 373.7 489.0 373.7 489.4 373.7 489.8 373.7 490.2 373.7" fill="none" stroke="#6cbd48" stroke-width="1.3" stroke-linejoin="round"/>
<line x1="417.8" y1="373.7" x2="490.4" y2="373.7" stroke="#b02040" stroke-width="1.5"/>
<text x="423.5" y="338.7" font-size="6.6" fill="#606a80" text-anchor="middle" stroke="#606a80" stroke-width="0.22">C</text>
<text x="430.85" y="338.7" font-size="6.6" fill="#5c566c" text-anchor="middle" stroke="#5c566c" stroke-width="0.22">G</text>
<text x="438.2" y="338.7" font-size="6.6" fill="#606a80" text-anchor="middle" stroke="#606a80" stroke-width="0.22">C</text>
<text x="445.55" y="338.7" font-size="6.6" fill="#86a870" text-anchor="middle" stroke="#86a870" stroke-width="0.22">A</text>
<text x="452.9" y="338.7" font-size="6.6" fill="#86a870" text-anchor="middle" stroke="#86a870" stroke-width="0.22">A</text>
<text x="460.25" y="338.7" font-size="6.6" fill="#86a870" text-anchor="middle" stroke="#86a870" stroke-width="0.22">A</text>
<text x="467.6" y="338.7" font-size="6.6" fill="#86a870" text-anchor="middle" stroke="#86a870" stroke-width="0.22">A</text>
<text x="474.95" y="338.7" font-size="6.6" fill="#5c566c" text-anchor="middle" stroke="#5c566c" stroke-width="0.22">G</text>
<text x="482.3" y="338.7" font-size="6.6" fill="#606a80" text-anchor="middle" stroke="#606a80" stroke-width="0.22">C</text>
<text x="487.5" y="337.8" font-size="6.2" fill="#5e5e6e">WT</text>
<text x="370.6" y="309.6" font-size="8.7" font-weight="bold" fill="#000" text-anchor="middle">H3K27me3 low</text>
<text x="458.6" y="309.6" font-size="8.7" font-weight="bold" fill="#000" text-anchor="middle">H3K27me3 high</text>
<text x="370.2" y="384.6" font-size="8.7" font-weight="bold" fill="#000" text-anchor="middle">H3K27me3 low</text>
<text x="454.6" y="385.2" font-size="8.7" font-weight="bold" fill="#000" text-anchor="middle">H3K27me3 high</text>
<text x="511.2" y="277.8" font-size="8.6" font-weight="bold" fill="#000" text-anchor="middle" transform="rotate(-90 511.2 277.8)">HIST1H3H</text>
<text x="511.2" y="352.4" font-size="8.6" font-weight="bold" fill="#000" text-anchor="middle" transform="rotate(-90 511.2 352.4)">HIST1H3F</text>
<text x="113.2" y="326" font-size="9.6" font-weight="bold" fill="#000" text-anchor="middle">04H138</text>
<line x1="34.9" y1="329.2" x2="191.8" y2="329.2" stroke="#000" stroke-width="1.3"/>
<text x="67.9" y="343.9" font-size="8.7" font-weight="bold" fill="#000" text-anchor="middle">H3K27me3 low</text>
<text x="160.7" y="343.9" font-size="8.7" font-weight="bold" fill="#000" text-anchor="middle">H3K27me3 high</text>
<text x="20.8" y="382.7" font-size="8.6" font-weight="bold" fill="#000" text-anchor="middle" transform="rotate(-90 20.8 382.7)">TET2</text>
<text x="20.8" y="440.4" font-size="8.6" font-weight="bold" fill="#000" text-anchor="middle" transform="rotate(-90 20.8 440.4)">BCOR</text>
<text x="20.8" y="505" font-size="8.6" font-weight="bold" fill="#000" text-anchor="middle" transform="rotate(-90 20.8 505)">USP7</text>
<text x="20.8" y="561" font-size="8.6" font-weight="bold" fill="#000" text-anchor="middle" transform="rotate(-90 20.8 561)">RUNX1</text>
<text x="20.8" y="623.7" font-size="8.6" font-weight="bold" fill="#000" text-anchor="middle" transform="rotate(-90 20.8 623.7)">CBL</text>
<rect x="65.5" y="370.2" width="7.2" height="29" fill="#b9c4d9"/>
<path d="M30.0 399.2 30.4 399.2 30.8 399.2 31.2 399.2 31.6 399.2 32.0 399.2 32.4 399.1 32.8 399.1 33.2 398.9 33.6 398.7 34.0 398.4 34.4 398.0 34.8 397.4 35.2 396.7 35.6 395.8 36.0 394.9 36.4 394.0 36.8 393.1 37.2 392.6 37.6 392.3 38.0 392.4 38.4 392.8 38.8 393.5 39.2 394.4 39.6 395.4 40.0 396.3 40.4 397.1 40.8 397.7 41.2 398.3 41.6 398.6 42.0 398.9 42.4 399.0 42.8 399.1 43.2 399.1 43.6 399.2 44.0 399.2 44.4 399.2 44.8 399.2 45.2 399.2 45.6 399.2 46.0 399.2 46.4 399.2 46.8 399.2 47.2 399.2 47.6 399.2 48.0 399.2 48.4 399.2 48.8 399.2 49.2 399.2 49.6 399.2 50.0 399.2 50.4 399.2 50.8 399.2 51.2 399.2 51.6 399.2 52.0 399.2 52.4 399.2 52.8 399.2 53.2 399.2 53.6 399.2 54.0 399.2 54.4 399.2 54.8 399.2 55.2 399.2 55.6 399.2 56.0 399.2 56.4 399.1 56.8 399.0 57.2 398.9 57.6 398.7 58.0 398.3 58.4 397.8 58.8 397.1 59.2 396.2 59.6 395.0 60.0 393.8 60.4 392.5 60.8 391.3 61.2 390.3 61.6 389.7 62.0 389.6 62.4 390.0 62.8 390.8 63.2 391.8 63.6 393.1 64.0 394.4 64.4 395.5 64.8 396.5 65.2 397.2 65.6 397.6 66.0 397.6 66.4 397.3 66.8 396.6 67.2 395.6 67.6 394.1 68.0 392.4 68.4 390.5 68.8 388.5 69.2 386.7 69.6 385.3 70.0 384.4 70.4 384.2 70.8 384.8 71.2 385.9 71.6 387.6 72.0 389.5 72.4 391.5 72.8 393.3 73.2 395.0 73.6 396.3 74.0 397.3 74.4 398.0 74.8 398.5 75.2 398.8 75.6 399.0 76.0 399.1 76.4 399.1 76.8 399.2 77.2 399.2 77.6 399.2 78.0 399.2 78.4 399.2 78.8 399.2 79.2 399.2 79.6 399.2 80.0 399.1 80.4 399.1 80.8 399.0 81.2 398.8 81.6 398.5 82.0 398.0 82.4 397.4 82.8 396.4 83.2 395.3 83.6 393.9 84.0 392.4 84.4 390.9 84.8 389.6 85.2 388.6 85.6 388.1 86.0 388.1 86.4 388.6 86.8 389.6 87.2 390.9 87.6 392.4 88.0 393.9 88.4 395.3 88.8 396.4 89.2 397.4 89.6 398.0 90.0 398.5 90.4 398.8 90.8 399.0 91.2 399.1 91.6 399.1 92.0 399.2 92.4 399.2 92.8 399.2 93.2 399.2 93.6 399.2 94.0 399.2 94.4 399.2 94.8 399.2 95.2 399.2 95.6 399.2 96.0 399.2 96.4 399.2 96.8 399.2 97.2 399.2 97.6 399.2 98.0 399.2 98.4 399.2 98.8 399.2 99.2 399.2 99.6 399.2 100.0 399.2 100.4 399.2 100.8 399.2 101.2 399.2 101.6 399.2 102.0 399.2 102.4 399.2 102.8 399.2 103.2 399.2 103.6 399.2 104.0 399.2 104.4 399.2 104.8 399.2 105.2 399.2 105.6 399.2 106.0 399.2 106.4 399.2 106.8 399.2 107.2 399.2 107.6 399.2 108.0 399.2 108.4 399.2" fill="none" stroke="#3c2866" stroke-width="1.3" stroke-linejoin="round"/>
<path d="M30.0 399.2 30.4 399.2 30.8 399.2 31.2 399.2 31.6 399.2 32.0 399.2 32.4 399.2 32.8 399.2 33.2 399.2 33.6 399.2 34.0 399.2 34.4 399.2 34.8 399.2 35.2 399.2 35.6 399.2 36.0 399.2 36.4 399.2 36.8 399.2 37.2 399.2 37.6 399.2 38.0 399.2 38.4 399.2 38.8 399.2 39.2 399.2 39.6 399.2 40.0 399.2 40.4 399.2 40.8 399.2 41.2 399.2 41.6 399.2 42.0 399.2 42.4 399.2 42.8 399.2 43.2 399.2 43.6 399.2 44.0 399.2 44.4 399.2 44.8 399.2 45.2 399.2 45.6 399.2 46.0 399.2 46.4 399.2 46.8 399.2 47.2 399.2 47.6 399.2 48.0 399.2 48.4 399.2 48.8 399.2 49.2 399.2 49.6 399.2 50.0 399.2 50.4 399.2 50.8 399.2 51.2 399.2 51.6 399.2 52.0 399.2 52.4 399.2 52.8 399.2 53.2 399.2 53.6 399.2 54.0 399.2 54.4 399.2 54.8 399.2 55.2 399.2 55.6 399.2 56.0 399.2 56.4 399.2 56.8 399.2 57.2 399.2 57.6 399.2 58.0 399.2 58.4 399.2 58.8 399.2 59.2 399.2 59.6 399.2 60.0 399.2 60.4 399.2 60.8 399.2 61.2 399.2 61.6 399.2 62.0 399.2 62.4 399.2 62.8 399.2 63.2 399.2 63.6 399.1 64.0 399.0 64.4 398.9 64.8 398.7 65.2 398.3 65.6 397.7 66.0 396.9 66.4 395.9 66.8 394.6 67.2 393.2 67.6 391.7 68.0 390.3 68.4 389.1 68.8 388.3 69.2 388.0 69.6 388.3 70.0 389.1 70.4 390.3 70.8 391.7 71.2 393.2 71.6 394.6 72.0 395.9 72.4 396.9 72.8 397.7 73.2 398.3 73.6 398.7 74.0 398.9 74.4 399.0 74.8 399.1 75.2 399.2 75.6 399.2 76.0 399.2 76.4 399.2 76.8 399.2 77.2 399.2 77.6 399.2 78.0 399.2 78.4 399.2 78.8 399.2 79.2 399.2 79.6 399.2 80.0 399.2 80.4 399.2 80.8 399.2 81.2 399.2 81.6 399.2 82.0 399.2 82.4 399.2 82.8 399.2 83.2 399.2 83.6 399.2 84.0 399.2 84.4 399.2 84.8 399.2 85.2 399.2 85.6 399.2 86.0 399.2 86.4 399.2 86.8 399.2 87.2 399.2 87.6 399.1 88.0 399.0 88.4 398.8 88.8 398.6 89.2 398.1 89.6 397.4 90.0 396.5 90.4 395.2 90.8 393.7 91.2 391.8 91.6 389.8 92.0 387.8 92.4 386.0 92.8 384.7 93.2 384.0 93.6 384.0 94.0 384.7 94.4 386.0 94.8 387.8 95.2 389.8 95.6 391.8 96.0 393.7 96.4 395.2 96.8 396.5 97.2 397.4 97.6 398.1 98.0 398.6 98.4 398.8 98.8 399.0 99.2 399.1 99.6 399.2 100.0 399.2 100.4 399.2 100.8 399.2 101.2 399.2 101.6 399.2 102.0 399.2 102.4 399.2 102.8 399.1 103.2 399.0 103.6 398.9 104.0 398.7 104.4 398.3 104.8 397.8 105.2 397.2 105.6 396.4 106.0 395.4 106.4 394.4 106.8 393.5 107.2 392.7 107.6 392.2 108.0 392.0 108.4 392.2" fill="none" stroke="#2f5597" stroke-width="1.3" stroke-linejoin="round"/>
<path d="M30.0 395.0 30.4 393.9 30.8 392.9 31.2 392.0 31.6 391.4 32.0 391.2 32.4 391.4 32.8 392.0 33.2 392.9 33.6 393.9 34.0 395.0 34.4 396.0 34.8 396.9 35.2 397.7 35.6 398.2 36.0 398.6 36.4 398.8 36.8 399.0 37.2 399.1 37.6 399.1 38.0 399.2 38.4 399.2 38.8 399.2 39.2 399.2 39.6 399.2 40.0 399.2 40.4 399.1 40.8 399.0 41.2 398.9 41.6 398.6 42.0 398.2 42.4 397.6 42.8 396.6 43.2 395.2 43.6 393.2 44.0 390.7 44.4 387.7 44.8 384.2 45.2 380.5 45.6 376.8 46.0 373.5 46.4 371.0 46.8 369.5 47.2 369.1 47.6 370.1 48.0 372.1 48.4 375.0 48.8 378.5 49.2 382.1 49.6 385.4 50.0 388.3 50.4 390.4 50.8 391.7 51.2 392.1 51.6 391.7 52.0 390.6 52.4 389.1 52.8 387.3 53.2 385.5 53.6 384.1 54.0 383.3 54.4 383.1 54.8 383.7 55.2 384.9 55.6 386.7 56.0 388.7 56.4 390.9 56.8 392.9 57.2 394.6 57.6 396.0 58.0 397.1 58.4 397.9 58.8 398.4 59.2 398.8 59.6 399.0 60.0 399.1 60.4 399.1 60.8 399.2 61.2 399.2 61.6 399.2 62.0 399.2 62.4 399.2 62.8 399.2 63.2 399.2 63.6 399.2 64.0 399.2 64.4 399.2 64.8 399.2 65.2 399.2 65.6 399.2 66.0 399.2 66.4 399.2 66.8 399.2 67.2 399.2 67.6 399.2 68.0 399.2 68.4 399.2 68.8 399.2 69.2 399.2 69.6 399.2 70.0 399.2 70.4 399.2 70.8 399.2 71.2 399.2 71.6 399.2 72.0 399.1 72.4 399.1 72.8 399.0 73.2 398.8 73.6 398.4 74.0 397.9 74.4 397.1 74.8 396.0 75.2 394.6 75.6 392.9 76.0 390.9 76.4 388.7 76.8 386.7 77.2 384.9 77.6 383.7 78.0 383.1 78.4 383.3 78.8 384.2 79.2 385.8 79.6 387.7 80.0 389.8 80.4 391.9 80.8 393.8 81.2 395.4 81.6 396.6 82.0 397.5 82.4 398.2 82.8 398.6 83.2 398.9 83.6 399.0 84.0 399.1 84.4 399.2 84.8 399.2 85.2 399.2 85.6 399.2 86.0 399.2 86.4 399.2 86.8 399.2 87.2 399.2 87.6 399.2 88.0 399.2 88.4 399.2 88.8 399.2 89.2 399.2 89.6 399.2 90.0 399.2 90.4 399.2 90.8 399.2 91.2 399.2 91.6 399.2 92.0 399.2 92.4 399.2 92.8 399.2 93.2 399.2 93.6 399.2 94.0 399.2 94.4 399.2 94.8 399.2 95.2 399.2 95.6 399.1 96.0 399.1 96.4 398.9 96.8 398.7 97.2 398.3 97.6 397.7 98.0 396.9 98.4 395.8 98.8 394.4 99.2 392.7 99.6 390.8 100.0 388.9 100.4 387.1 100.8 385.7 101.2 384.9 101.6 384.7 102.0 385.2 102.4 386.4 102.8 388.0 103.2 389.8 103.6 391.8 104.0 393.6 104.4 395.1 104.8 396.4 105.2 397.4 105.6 398.1 106.0 398.5 106.4 398.8 106.8 399.0 107.2 399.1 107.6 399.1 108.0 399.2 108.4 399.2" fill="none" stroke="#6cbd48" stroke-width="1.3" stroke-linejoin="round"/>
<line x1="30" y1="399.2" x2="108.5" y2="399.2" stroke="#2a2a5a" stroke-width="1.5"/>
<text x="38" y="362.7" font-size="6.6" fill="#5c566c" text-anchor="middle" stroke="#5c566c" stroke-width="0.22">G</text>
<text x="47.1" y="362.7" font-size="6.6" fill="#86a870" text-anchor="middle" stroke="#86a870" stroke-width="0.22">A</text>
<text x="55.1" y="362.7" font-size="6.6" fill="#86a870" text-anchor="middle" stroke="#86a870" stroke-width="0.22">A</text>
<text x="62.4" y="362.7" font-size="6.6" fill="#5c566c" text-anchor="middle" stroke="#5c566c" stroke-width="0.22">G</text>
<text x="78.1" y="362.7" font-size="6.6" fill="#86a870" text-anchor="middle" stroke="#86a870" stroke-width="0.22">A</text>
<text x="87" y="362.7" font-size="6.6" fill="#5c566c" text-anchor="middle" stroke="#5c566c" stroke-width="0.22">G</text>
<text x="92.6" y="362.7" font-size="6.6" fill="#606a80" text-anchor="middle" stroke="#606a80" stroke-width="0.22">C</text>
<text x="102" y="362.7" font-size="6.6" fill="#86a870" text-anchor="middle" stroke="#86a870" stroke-width="0.22">A</text>
<text x="69.2" y="358.5" font-size="6.6" fill="#5c566c" text-anchor="middle" stroke="#5c566c" stroke-width="0.2">G</text>
<text x="69.2" y="366.9" font-size="6.6" fill="#606a80" text-anchor="middle" stroke="#606a80" stroke-width="0.2">C</text>
<text x="105.5" y="357.7" font-size="6.2" fill="#5e5e6e">WT</text>
<text x="108.5" y="364.2" font-size="4.5" fill="#5e5e6e" text-anchor="middle">•</text>
<rect x="155" y="370.2" width="7.4" height="29" fill="#b9c4d9"/>
<path d="M119.6 399.2 120.0 399.2 120.4 399.2 120.8 399.2 121.2 399.1 121.6 399.1 122.0 399.0 122.4 398.8 122.8 398.5 123.2 398.1 123.6 397.5 124.0 396.8 124.4 395.9 124.8 394.9 125.2 394.0 125.6 393.1 126.0 392.4 126.4 392.0 126.8 392.0 127.2 392.4 127.6 393.1 128.0 394.0 128.4 394.9 128.8 395.9 129.2 396.8 129.6 397.5 130.0 398.1 130.4 398.5 130.8 398.8 131.2 399.0 131.6 399.1 132.0 399.1 132.4 399.2 132.8 399.2 133.2 399.2 133.6 399.2 134.0 399.2 134.4 399.2 134.8 399.2 135.2 399.2 135.6 399.2 136.0 399.2 136.4 399.2 136.8 399.2 137.2 399.2 137.6 399.2 138.0 399.2 138.4 399.2 138.8 399.2 139.2 399.2 139.6 399.2 140.0 399.2 140.4 399.2 140.8 399.2 141.2 399.2 141.6 399.2 142.0 399.2 142.4 399.2 142.8 399.2 143.2 399.2 143.6 399.2 144.0 399.2 144.4 399.2 144.8 399.2 145.2 399.2 145.6 399.1 146.0 399.1 146.4 399.0 146.8 398.8 147.2 398.5 147.6 398.1 148.0 397.5 148.4 396.7 148.8 395.7 149.2 394.5 149.6 393.2 150.0 391.9 150.4 390.8 150.8 390.1 151.2 389.7 151.6 389.8 152.0 390.4 152.4 391.3 152.8 392.5 153.2 393.8 153.6 395.0 154.0 396.1 154.4 396.9 154.8 397.4 155.2 397.5 155.6 397.4 156.0 396.8 156.4 395.9 156.8 394.6 157.2 393.0 157.6 391.1 158.0 389.1 158.4 387.3 158.8 385.8 159.2 384.8 159.6 384.4 160.0 384.8 160.4 385.8 160.8 387.3 161.2 389.1 161.6 391.1 162.0 393.0 162.4 394.7 162.8 396.0 163.2 397.1 163.6 397.9 164.0 398.4 164.4 398.7 164.8 398.9 165.2 399.1 165.6 399.1 166.0 399.2 166.4 399.2 166.8 399.2 167.2 399.2 167.6 399.2 168.0 399.2 168.4 399.2 168.8 399.2 169.2 399.2 169.6 399.2 170.0 399.1 170.4 399.1 170.8 399.0 171.2 398.8 171.6 398.4 172.0 397.9 172.4 397.2 172.8 396.3 173.2 395.1 173.6 393.6 174.0 392.1 174.4 390.5 174.8 389.1 175.2 388.0 175.6 387.5 176.0 387.5 176.4 388.0 176.8 389.1 177.2 390.5 177.6 392.1 178.0 393.6 178.4 395.1 178.8 396.3 179.2 397.2 179.6 397.9 180.0 398.4 180.4 398.8 180.8 399.0 181.2 399.1 181.6 399.1 182.0 399.2 182.4 399.2 182.8 399.2 183.2 399.2 183.6 399.2 184.0 399.2 184.4 399.2 184.8 399.2 185.2 399.2 185.6 399.2 186.0 399.2 186.4 399.2 186.8 399.2 187.2 399.2 187.6 399.2 188.0 399.2 188.4 399.2 188.8 399.2 189.2 399.2 189.6 399.2 190.0 399.2 190.4 399.2 190.8 399.2 191.2 399.2 191.6 399.2 192.0 399.2 192.4 399.2 192.8 399.2 193.2 399.2 193.6 399.2 194.0 399.2 194.4 399.2 194.8 399.2 195.2 399.2 195.6 399.2 196.0 399.2 196.4 399.2 196.8 399.2" fill="none" stroke="#3c2866" stroke-width="1.3" stroke-linejoin="round"/>
<path d="M119.6 399.2 120.0 399.2 120.4 399.2 120.8 399.2 121.2 399.2 121.6 399.2 122.0 399.2 122.4 399.2 122.8 399.2 123.2 399.2 123.6 399.2 124.0 399.2 124.4 399.2 124.8 399.2 125.2 399.2 125.6 399.2 126.0 399.2 126.4 399.2 126.8 399.2 127.2 399.2 127.6 399.2 128.0 399.2 128.4 399.2 128.8 399.2 129.2 399.2 129.6 399.2 130.0 399.2 130.4 399.2 130.8 399.2 131.2 399.2 131.6 399.2 132.0 399.2 132.4 399.2 132.8 399.2 133.2 399.2 133.6 399.2 134.0 399.2 134.4 399.2 134.8 399.2 135.2 399.2 135.6 399.2 136.0 399.2 136.4 399.2 136.8 399.2 137.2 399.2 137.6 399.2 138.0 399.2 138.4 399.2 138.8 399.2 139.2 399.2 139.6 399.2 140.0 399.2 140.4 399.2 140.8 399.2 141.2 399.2 141.6 399.2 142.0 399.2 142.4 399.2 142.8 399.2 143.2 399.2 143.6 399.2 144.0 399.2 144.4 399.2 144.8 399.2 145.2 399.2 145.6 399.2 146.0 399.2 146.4 399.2 146.8 399.2 147.2 399.2 147.6 399.2 148.0 399.2 148.4 399.2 148.8 399.2 149.2 399.2 149.6 399.2 150.0 399.2 150.4 399.2 150.8 399.2 151.2 399.2 151.6 399.2 152.0 399.2 152.4 399.2 152.8 399.2 153.2 399.1 153.6 399.0 154.0 398.9 154.4 398.7 154.8 398.3 155.2 397.7 155.6 396.9 156.0 395.9 156.4 394.6 156.8 393.2 157.2 391.7 157.6 390.3 158.0 389.1 158.4 388.3 158.8 388.0 159.2 388.3 159.6 389.1 160.0 390.3 160.4 391.7 160.8 393.2 161.2 394.6 161.6 395.9 162.0 396.9 162.4 397.7 162.8 398.3 163.2 398.7 163.6 398.9 164.0 399.0 164.4 399.1 164.8 399.2 165.2 399.2 165.6 399.2 166.0 399.2 166.4 399.2 166.8 399.2 167.2 399.2 167.6 399.2 168.0 399.2 168.4 399.2 168.8 399.2 169.2 399.2 169.6 399.2 170.0 399.2 170.4 399.2 170.8 399.2 171.2 399.2 171.6 399.2 172.0 399.2 172.4 399.2 172.8 399.2 173.2 399.2 173.6 399.2 174.0 399.2 174.4 399.2 174.8 399.2 175.2 399.2 175.6 399.2 176.0 399.2 176.4 399.2 176.8 399.2 177.2 399.1 177.6 399.1 178.0 398.9 178.4 398.7 178.8 398.3 179.2 397.8 179.6 397.0 180.0 395.9 180.4 394.5 180.8 392.8 181.2 391.0 181.6 389.1 182.0 387.4 182.4 386.0 182.8 385.2 183.2 385.0 183.6 385.5 184.0 386.6 184.4 388.2 184.8 390.0 185.2 391.9 185.6 393.7 186.0 395.2 186.4 396.5 186.8 397.4 187.2 398.1 187.6 398.5 188.0 398.8 188.4 399.0 188.8 399.1 189.2 399.1 189.6 399.2 190.0 399.2 190.4 399.2 190.8 399.2 191.2 399.1 191.6 399.1 192.0 398.9 192.4 398.7 192.8 398.4 193.2 398.0 193.6 397.4 194.0 396.6 194.4 395.7 194.8 394.7 195.2 393.7 195.6 392.9 196.0 392.3 196.4 392.0 196.8 392.1" fill="none" stroke="#2f5597" stroke-width="1.3" stroke-linejoin="round"/>
<path d="M119.6 393.6 120.0 392.6 120.4 391.9 120.8 391.5 121.2 391.5 121.6 391.9 122.0 392.6 122.4 393.6 122.8 394.6 123.2 395.7 123.6 396.6 124.0 397.4 124.4 398.0 124.8 398.4 125.2 398.7 125.6 398.9 126.0 399.1 126.4 399.1 126.8 399.2 127.2 399.2 127.6 399.2 128.0 399.2 128.4 399.2 128.8 399.1 129.2 399.1 129.6 399.0 130.0 398.8 130.4 398.5 130.8 398.0 131.2 397.2 131.6 396.1 132.0 394.4 132.4 392.2 132.8 389.5 133.2 386.2 133.6 382.5 134.0 378.6 134.4 374.8 134.8 371.6 135.2 369.1 135.6 367.9 136.0 367.9 136.4 369.1 136.8 371.5 137.2 374.8 137.6 378.5 138.0 382.2 138.4 385.8 138.8 388.8 139.2 391.0 139.6 392.5 140.0 393.1 140.4 392.9 140.8 392.0 141.2 390.5 141.6 388.6 142.0 386.7 142.4 384.9 142.8 383.5 143.2 382.8 143.6 382.8 144.0 383.6 144.4 385.0 144.8 386.9 145.2 389.0 145.6 391.2 146.0 393.2 146.4 394.9 146.8 396.2 147.2 397.3 147.6 398.0 148.0 398.5 148.4 398.8 148.8 399.0 149.2 399.1 149.6 399.1 150.0 399.2 150.4 399.2 150.8 399.2 151.2 399.2 151.6 399.2 152.0 399.2 152.4 399.2 152.8 399.2 153.2 399.2 153.6 399.2 154.0 399.2 154.4 399.2 154.8 399.2 155.2 399.2 155.6 399.2 156.0 399.2 156.4 399.2 156.8 399.2 157.2 399.2 157.6 399.2 158.0 399.2 158.4 399.2 158.8 399.2 159.2 399.2 159.6 399.2 160.0 399.2 160.4 399.2 160.8 399.2 161.2 399.2 161.6 399.2 162.0 399.1 162.4 399.1 162.8 399.0 163.2 398.8 163.6 398.5 164.0 398.0 164.4 397.2 164.8 396.2 165.2 394.9 165.6 393.2 166.0 391.3 166.4 389.3 166.8 387.3 167.2 385.7 167.6 384.5 168.0 383.9 168.4 384.1 168.8 385.0 169.2 386.4 169.6 388.3 170.0 390.3 170.4 392.3 170.8 394.1 171.2 395.6 171.6 396.8 172.0 397.6 172.4 398.2 172.8 398.6 173.2 398.9 173.6 399.0 174.0 399.1 174.4 399.2 174.8 399.2 175.2 399.2 175.6 399.2 176.0 399.2 176.4 399.2 176.8 399.2 177.2 399.2 177.6 399.2 178.0 399.2 178.4 399.2 178.8 399.2 179.2 399.2 179.6 399.2 180.0 399.2 180.4 399.2 180.8 399.2 181.2 399.2 181.6 399.2 182.0 399.2 182.4 399.2 182.8 399.2 183.2 399.2 183.6 399.2 184.0 399.2 184.4 399.2 184.8 399.2 185.2 399.1 185.6 399.1 186.0 398.9 186.4 398.7 186.8 398.4 187.2 397.9 187.6 397.1 188.0 396.0 188.4 394.7 188.8 393.0 189.2 391.1 189.6 389.1 190.0 387.3 190.4 385.8 190.8 384.8 191.2 384.4 191.6 384.8 192.0 385.8 192.4 387.3 192.8 389.1 193.2 391.1 193.6 393.0 194.0 394.7 194.4 396.0 194.8 397.1 195.2 397.9 195.6 398.4 196.0 398.7 196.4 398.9 196.8 399.1" fill="none" stroke="#6cbd48" stroke-width="1.3" stroke-linejoin="round"/>
<line x1="119.6" y1="399.2" x2="197" y2="399.2" stroke="#2a2a5a" stroke-width="1.5"/>
<text x="126.6" y="362.7" font-size="6.6" fill="#5c566c" text-anchor="middle" stroke="#5c566c" stroke-width="0.22">G</text>
<text x="134.6" y="362.7" font-size="6.6" fill="#86a870" text-anchor="middle" stroke="#86a870" stroke-width="0.22">A</text>
<text x="142.7" y="362.7" font-size="6.6" fill="#86a870" text-anchor="middle" stroke="#86a870" stroke-width="0.22">A</text>
<text x="150.3" y="362.7" font-size="6.6" fill="#5c566c" text-anchor="middle" stroke="#5c566c" stroke-width="0.22">G</text>
<text x="167.4" y="362.7" font-size="6.6" fill="#86a870" text-anchor="middle" stroke="#86a870" stroke-width="0.22">A</text>
<text x="175.8" y="362.7" font-size="6.6" fill="#5c566c" text-anchor="middle" stroke="#5c566c" stroke-width="0.22">G</text>
<text x="183.1" y="362.7" font-size="6.6" fill="#606a80" text-anchor="middle" stroke="#606a80" stroke-width="0.22">C</text>
<text x="191.2" y="362.7" font-size="6.6" fill="#86a870" text-anchor="middle" stroke="#86a870" stroke-width="0.22">A</text>
<text x="158.9" y="358.5" font-size="6.6" fill="#5c566c" text-anchor="middle" stroke="#5c566c" stroke-width="0.2">G</text>
<text x="158.9" y="366.9" font-size="6.6" fill="#606a80" text-anchor="middle" stroke="#606a80" stroke-width="0.2">C</text>
<text x="194.7" y="357.7" font-size="6.2" fill="#5e5e6e">WT</text>
<text x="197.7" y="364.2" font-size="4.5" fill="#5e5e6e" text-anchor="middle">•</text>
<rect x="57.3" y="431.2" width="7.4" height="30.7" fill="#b9c4d9"/>
<path d="M30.0 461.9 30.4 461.9 30.8 461.9 31.2 461.9 31.6 461.9 32.0 461.9 32.4 461.9 32.8 461.9 33.2 461.9 33.6 461.9 34.0 461.9 34.4 461.9 34.8 461.9 35.2 461.9 35.6 461.9 36.0 461.9 36.4 461.9 36.8 461.9 37.2 461.9 37.6 461.9 38.0 461.9 38.4 461.9 38.8 461.9 39.2 461.9 39.6 461.9 40.0 461.9 40.4 461.9 40.8 461.9 41.2 461.9 41.6 461.9 42.0 461.9 42.4 461.9 42.8 461.9 43.2 461.9 43.6 461.9 44.0 461.9 44.4 461.9 44.8 461.9 45.2 461.9 45.6 461.9 46.0 461.9 46.4 461.9 46.8 461.9 47.2 461.9 47.6 461.9 48.0 461.9 48.4 461.9 48.8 461.9 49.2 461.9 49.6 461.9 50.0 461.9 50.4 461.9 50.8 461.9 51.2 461.9 51.6 461.9 52.0 461.9 52.4 461.9 52.8 461.9 53.2 461.9 53.6 461.9 54.0 461.9 54.4 461.9 54.8 461.9 55.2 461.9 55.6 461.8 56.0 461.7 56.4 461.6 56.8 461.4 57.2 461.2 57.6 460.8 58.0 460.3 58.4 459.8 58.8 459.2 59.2 458.6 59.6 458.1 60.0 457.7 60.4 457.5 60.8 457.6 61.2 457.8 61.6 458.3 62.0 458.9 62.4 459.5 62.8 460.1 63.2 460.6 63.6 461.0 64.0 461.3 64.4 461.5 64.8 461.7 65.2 461.8 65.6 461.8 66.0 461.9 66.4 461.9 66.8 461.9 67.2 461.9 67.6 461.9 68.0 461.9 68.4 461.9 68.8 461.9 69.2 461.9 69.6 461.9 70.0 461.9 70.4 461.9 70.8 461.9 71.2 461.9 71.6 461.9 72.0 461.9 72.4 461.9 72.8 461.9 73.2 461.9 73.6 461.9 74.0 461.9 74.4 461.9 74.8 461.9 75.2 461.9 75.6 461.9 76.0 461.9 76.4 461.9 76.8 461.9 77.2 461.9 77.6 461.9 78.0 461.9 78.4 461.9 78.8 461.9 79.2 461.9 79.6 461.9 80.0 461.8 80.4 461.8 80.8 461.7 81.2 461.5 81.6 461.2 82.0 460.8 82.4 460.3 82.8 459.6 83.2 458.7 83.6 457.7 84.0 456.6 84.4 455.6 84.8 454.9 85.2 454.4 85.6 454.3 86.0 454.6 86.4 455.2 86.8 456.1 87.2 457.1 87.6 458.2 88.0 459.1 88.4 459.9 88.8 460.6 89.2 461.1 89.6 461.4 90.0 461.6 90.4 461.7 90.8 461.8 91.2 461.9 91.6 461.9 92.0 461.9 92.4 461.9 92.8 461.9 93.2 461.9 93.6 461.9 94.0 461.9 94.4 461.9 94.8 461.9 95.2 461.9 95.6 461.9 96.0 461.9 96.4 461.8 96.8 461.7 97.2 461.6 97.6 461.4 98.0 461.0 98.4 460.4 98.8 459.6 99.2 458.6 99.6 457.3 100.0 455.7 100.4 454.1 100.8 452.5 101.2 451.1 101.6 450.2 102.0 449.7 102.4 449.9 102.8 450.6 103.2 451.8 103.6 453.3 104.0 454.9 104.4 456.5 104.8 457.9 105.2 459.1 105.6 460.1 106.0 460.7 106.4 461.2 106.8 461.5 107.2 461.7 107.6 461.8 108.0 461.8 108.4 461.9" fill="none" stroke="#3c2866" stroke-width="1.3" stroke-linejoin="round"/>
<path d="M30.0 461.9 30.4 461.9 30.8 461.9 31.2 461.9 31.6 461.9 32.0 461.9 32.4 461.9 32.8 461.9 33.2 461.9 33.6 461.9 34.0 461.9 34.4 461.9 34.8 461.9 35.2 461.9 35.6 461.9 36.0 461.9 36.4 461.9 36.8 461.9 37.2 461.9 37.6 461.9 38.0 461.9 38.4 461.9 38.8 461.9 39.2 461.9 39.6 461.9 40.0 461.9 40.4 461.9 40.8 461.9 41.2 461.9 41.6 461.9 42.0 461.9 42.4 461.9 42.8 461.9 43.2 461.9 43.6 461.9 44.0 461.9 44.4 461.9 44.8 461.9 45.2 461.9 45.6 461.9 46.0 461.8 46.4 461.7 46.8 461.6 47.2 461.4 47.6 461.0 48.0 460.4 48.4 459.5 48.8 458.4 49.2 456.9 49.6 455.0 50.0 453.0 50.4 450.8 50.8 448.8 51.2 447.2 51.6 446.1 52.0 445.7 52.4 446.1 52.8 447.2 53.2 448.8 53.6 450.8 54.0 453.0 54.4 455.0 54.8 456.9 55.2 458.4 55.6 459.5 56.0 460.4 56.4 461.0 56.8 461.4 57.2 461.6 57.6 461.7 58.0 461.8 58.4 461.9 58.8 461.9 59.2 461.9 59.6 461.9 60.0 461.9 60.4 461.9 60.8 461.9 61.2 461.9 61.6 461.9 62.0 461.9 62.4 461.9 62.8 461.9 63.2 461.9 63.6 461.9 64.0 461.9 64.4 461.9 64.8 461.9 65.2 461.9 65.6 461.9 66.0 461.9 66.4 461.9 66.8 461.9 67.2 461.9 67.6 461.9 68.0 461.9 68.4 461.9 68.8 461.9 69.2 461.9 69.6 461.9 70.0 461.9 70.4 461.9 70.8 461.9 71.2 461.9 71.6 461.9 72.0 461.9 72.4 461.9 72.8 461.9 73.2 461.9 73.6 461.9 74.0 461.9 74.4 461.9 74.8 461.9 75.2 461.9 75.6 461.9 76.0 461.9 76.4 461.9 76.8 461.9 77.2 461.9 77.6 461.9 78.0 461.9 78.4 461.9 78.8 461.9 79.2 461.9 79.6 461.9 80.0 461.9 80.4 461.9 80.8 461.9 81.2 461.9 81.6 461.9 82.0 461.9 82.4 461.9 82.8 461.9 83.2 461.9 83.6 461.9 84.0 461.9 84.4 461.9 84.8 461.9 85.2 461.9 85.6 461.9 86.0 461.9 86.4 461.9 86.8 461.9 87.2 461.9 87.6 461.9 88.0 461.9 88.4 461.9 88.8 461.9 89.2 461.9 89.6 461.9 90.0 461.9 90.4 461.9 90.8 461.9 91.2 461.9 91.6 461.9 92.0 461.9 92.4 461.9 92.8 461.9 93.2 461.9 93.6 461.9 94.0 461.9 94.4 461.9 94.8 461.9 95.2 461.9 95.6 461.9 96.0 461.9 96.4 461.9 96.8 461.9 97.2 461.9 97.6 461.9 98.0 461.9 98.4 461.9 98.8 461.9 99.2 461.9 99.6 461.9 100.0 461.9 100.4 461.9 100.8 461.9 101.2 461.9 101.6 461.9 102.0 461.9 102.4 461.9 102.8 461.9 103.2 461.9 103.6 461.9 104.0 461.9 104.4 461.9 104.8 461.9 105.2 461.9 105.6 461.9 106.0 461.9 106.4 461.9 106.8 461.9 107.2 461.9 107.6 461.9 108.0 461.9 108.4 461.9" fill="none" stroke="#2f5597" stroke-width="1.3" stroke-linejoin="round"/>
<path d="M30.0 461.9 30.4 461.8 30.8 461.7 31.2 461.5 31.6 461.3 32.0 460.8 32.4 460.1 32.8 459.1 33.2 457.7 33.6 455.8 34.0 453.6 34.4 451.1 34.8 448.5 35.2 446.0 35.6 443.8 36.0 442.3 36.4 441.6 36.8 441.9 37.2 443.0 37.6 444.8 38.0 447.2 38.4 449.7 38.8 452.3 39.2 454.5 39.6 456.3 40.0 457.5 40.4 458.2 40.8 458.2 41.2 457.6 41.6 456.6 42.0 455.1 42.4 453.3 42.8 451.4 43.2 449.7 43.6 448.3 44.0 447.5 44.4 447.3 44.8 447.8 45.2 449.0 45.6 450.6 46.0 452.5 46.4 454.4 46.8 456.2 47.2 457.8 47.6 459.1 48.0 460.1 48.4 460.7 48.8 461.2 49.2 461.5 49.6 461.7 50.0 461.8 50.4 461.8 50.8 461.9 51.2 461.9 51.6 461.9 52.0 461.9 52.4 461.9 52.8 461.9 53.2 461.9 53.6 461.9 54.0 461.9 54.4 461.9 54.8 461.9 55.2 461.9 55.6 461.9 56.0 461.9 56.4 461.9 56.8 461.9 57.2 461.9 57.6 461.9 58.0 461.9 58.4 461.9 58.8 461.9 59.2 461.9 59.6 461.9 60.0 461.9 60.4 461.9 60.8 461.9 61.2 461.9 61.6 461.9 62.0 461.9 62.4 461.9 62.8 461.8 63.2 461.7 63.6 461.5 64.0 461.3 64.4 460.8 64.8 460.1 65.2 459.1 65.6 457.7 66.0 456.0 66.4 453.9 66.8 451.6 67.2 449.2 67.6 446.9 68.0 445.0 68.4 443.8 68.8 443.4 69.2 443.8 69.6 445.0 70.0 446.9 70.4 449.1 70.8 451.5 71.2 453.7 71.6 455.7 72.0 457.1 72.4 458.0 72.8 458.3 73.2 458.0 73.6 457.1 74.0 455.6 74.4 453.6 74.8 451.3 75.2 448.7 75.6 446.3 76.0 444.2 76.4 442.7 76.8 442.0 77.2 442.3 77.6 443.4 78.0 445.2 78.4 447.5 78.8 450.1 79.2 452.6 79.6 454.9 80.0 456.9 80.4 458.5 80.8 459.7 81.2 460.5 81.6 461.1 82.0 461.4 82.4 461.6 82.8 461.8 83.2 461.8 83.6 461.9 84.0 461.9 84.4 461.9 84.8 461.9 85.2 461.9 85.6 461.9 86.0 461.9 86.4 461.9 86.8 461.9 87.2 461.8 87.6 461.8 88.0 461.7 88.4 461.5 88.8 461.1 89.2 460.6 89.6 459.7 90.0 458.5 90.4 456.8 90.8 454.5 91.2 451.6 91.6 448.1 92.0 444.2 92.4 440.2 92.8 436.3 93.2 432.9 93.6 430.4 94.0 429.1 94.4 429.1 94.8 430.4 95.2 432.9 95.6 436.3 96.0 440.2 96.4 444.2 96.8 448.1 97.2 451.6 97.6 454.5 98.0 456.8 98.4 458.5 98.8 459.7 99.2 460.6 99.6 461.1 100.0 461.5 100.4 461.7 100.8 461.8 101.2 461.8 101.6 461.9 102.0 461.9 102.4 461.9 102.8 461.8 103.2 461.8 103.6 461.7 104.0 461.5 104.4 461.2 104.8 460.8 105.2 460.1 105.6 459.3 106.0 458.2 106.4 457.0 106.8 455.6 107.2 454.3 107.6 453.2 108.0 452.4 108.4 452.0" fill="none" stroke="#6cbd48" stroke-width="1.3" stroke-linejoin="round"/>
<path d="M30.0 449.5 30.4 450.5 30.8 451.9 31.2 453.6 31.6 455.3 32.0 457.0 32.4 458.4 32.8 459.5 33.2 460.3 33.6 460.9 34.0 461.3 34.4 461.6 34.8 461.7 35.2 461.8 35.6 461.9 36.0 461.9 36.4 461.9 36.8 461.9 37.2 461.9 37.6 461.9 38.0 461.9 38.4 461.9 38.8 461.9 39.2 461.9 39.6 461.9 40.0 461.9 40.4 461.9 40.8 461.9 41.2 461.9 41.6 461.9 42.0 461.9 42.4 461.9 42.8 461.9 43.2 461.9 43.6 461.9 44.0 461.9 44.4 461.9 44.8 461.9 45.2 461.9 45.6 461.9 46.0 461.9 46.4 461.9 46.8 461.9 47.2 461.9 47.6 461.9 48.0 461.9 48.4 461.9 48.8 461.9 49.2 461.9 49.6 461.9 50.0 461.9 50.4 461.9 50.8 461.9 51.2 461.9 51.6 461.9 52.0 461.9 52.4 461.9 52.8 461.9 53.2 461.9 53.6 461.9 54.0 461.9 54.4 461.9 54.8 461.9 55.2 461.9 55.6 461.9 56.0 461.8 56.4 461.7 56.8 461.6 57.2 461.3 57.6 461.0 58.0 460.4 58.4 459.7 58.8 458.9 59.2 457.9 59.6 456.9 60.0 455.9 60.4 455.0 60.8 454.5 61.2 454.3 61.6 454.5 62.0 455.0 62.4 455.9 62.8 456.9 63.2 457.9 63.6 458.9 64.0 459.7 64.4 460.4 64.8 461.0 65.2 461.3 65.6 461.6 66.0 461.7 66.4 461.8 66.8 461.9 67.2 461.9 67.6 461.9 68.0 461.9 68.4 461.9 68.8 461.9 69.2 461.9 69.6 461.9 70.0 461.9 70.4 461.9 70.8 461.9 71.2 461.9 71.6 461.9 72.0 461.9 72.4 461.9 72.8 461.9 73.2 461.9 73.6 461.9 74.0 461.9 74.4 461.9 74.8 461.9 75.2 461.9 75.6 461.9 76.0 461.9 76.4 461.9 76.8 461.9 77.2 461.9 77.6 461.9 78.0 461.9 78.4 461.9 78.8 461.9 79.2 461.9 79.6 461.9 80.0 461.9 80.4 461.9 80.8 461.9 81.2 461.9 81.6 461.9 82.0 461.9 82.4 461.9 82.8 461.9 83.2 461.9 83.6 461.9 84.0 461.9 84.4 461.9 84.8 461.9 85.2 461.9 85.6 461.9 86.0 461.9 86.4 461.9 86.8 461.9 87.2 461.9 87.6 461.9 88.0 461.9 88.4 461.9 88.8 461.9 89.2 461.9 89.6 461.9 90.0 461.9 90.4 461.9 90.8 461.9 91.2 461.9 91.6 461.9 92.0 461.9 92.4 461.9 92.8 461.9 93.2 461.9 93.6 461.9 94.0 461.9 94.4 461.9 94.8 461.9 95.2 461.9 95.6 461.9 96.0 461.9 96.4 461.9 96.8 461.9 97.2 461.9 97.6 461.9 98.0 461.9 98.4 461.9 98.8 461.9 99.2 461.9 99.6 461.9 100.0 461.9 100.4 461.9 100.8 461.9 101.2 461.9 101.6 461.9 102.0 461.9 102.4 461.9 102.8 461.9 103.2 461.9 103.6 461.9 104.0 461.9 104.4 461.9 104.8 461.9 105.2 461.9 105.6 461.9 106.0 461.9 106.4 461.9 106.8 461.9 107.2 461.9 107.6 461.9 108.0 461.9 108.4 461.9" fill="none" stroke="#c0203e" stroke-width="1.3" stroke-linejoin="round"/>
<line x1="30" y1="461.9" x2="108.5" y2="461.9" stroke="#b02040" stroke-width="1.5"/>
<text x="36.5" y="424.1" font-size="6.6" fill="#86a870" text-anchor="middle" stroke="#86a870" stroke-width="0.22">A</text>
<text x="43" y="424.1" font-size="6.6" fill="#86a870" text-anchor="middle" stroke="#86a870" stroke-width="0.22">A</text>
<text x="52.7" y="424.1" font-size="6.6" fill="#606a80" text-anchor="middle" stroke="#606a80" stroke-width="0.22">C</text>
<text x="68.8" y="424.1" font-size="6.6" fill="#86a870" text-anchor="middle" stroke="#86a870" stroke-width="0.22">A</text>
<text x="75.6" y="424.1" font-size="6.6" fill="#86a870" text-anchor="middle" stroke="#86a870" stroke-width="0.22">A</text>
<text x="85.5" y="424.1" font-size="6.6" fill="#5c566c" text-anchor="middle" stroke="#5c566c" stroke-width="0.22">G</text>
<text x="93.5" y="424.1" font-size="6.6" fill="#86a870" text-anchor="middle" stroke="#86a870" stroke-width="0.22">A</text>
<text x="101.6" y="424.1" font-size="6.6" fill="#5c566c" text-anchor="middle" stroke="#5c566c" stroke-width="0.22">G</text>
<text x="60.5" y="419.5" font-size="6.6" fill="#5c566c" text-anchor="middle" stroke="#5c566c" stroke-width="0.2">G</text>
<text x="60.5" y="427.6" font-size="6.6" fill="#9a4a40" text-anchor="middle" stroke="#9a4a40" stroke-width="0.2">T</text>
<text x="105" y="419.7" font-size="6.2" fill="#5e5e6e">WT</text>
<text x="108" y="426.2" font-size="4.5" fill="#5e5e6e" text-anchor="middle">•</text>
<rect x="146.2" y="431.2" width="7.4" height="30.7" fill="#b9c4d9"/>
<path d="M118.5 461.9 118.9 461.9 119.3 461.9 119.7 461.9 120.1 461.9 120.5 461.9 120.9 461.9 121.3 461.9 121.7 461.9 122.1 461.9 122.5 461.9 122.9 461.9 123.3 461.9 123.7 461.9 124.1 461.9 124.5 461.9 124.9 461.9 125.3 461.9 125.7 461.9 126.1 461.9 126.5 461.9 126.9 461.9 127.3 461.9 127.7 461.9 128.1 461.9 128.5 461.9 128.9 461.9 129.3 461.9 129.7 461.9 130.1 461.9 130.5 461.9 130.9 461.9 131.3 461.9 131.7 461.9 132.1 461.9 132.5 461.9 132.9 461.9 133.3 461.9 133.7 461.9 134.1 461.9 134.5 461.9 134.9 461.9 135.3 461.9 135.7 461.9 136.1 461.9 136.5 461.9 136.9 461.9 137.3 461.9 137.7 461.9 138.1 461.9 138.5 461.9 138.9 461.9 139.3 461.9 139.7 461.9 140.1 461.9 140.5 461.9 140.9 461.9 141.3 461.9 141.7 461.9 142.1 461.9 142.5 461.9 142.9 461.9 143.3 461.9 143.7 461.9 144.1 461.9 144.5 461.8 144.9 461.8 145.3 461.7 145.7 461.5 146.1 461.3 146.5 460.9 146.9 460.5 147.3 459.9 147.7 459.3 148.1 458.7 148.5 458.2 148.9 457.8 149.3 457.5 149.7 457.5 150.1 457.8 150.5 458.2 150.9 458.7 151.3 459.3 151.7 459.9 152.1 460.5 152.5 460.9 152.9 461.3 153.3 461.5 153.7 461.7 154.1 461.8 154.5 461.8 154.9 461.9 155.3 461.9 155.7 461.9 156.1 461.9 156.5 461.9 156.9 461.9 157.3 461.9 157.7 461.9 158.1 461.9 158.5 461.9 158.9 461.9 159.3 461.9 159.7 461.9 160.1 461.9 160.5 461.9 160.9 461.9 161.3 461.9 161.7 461.9 162.1 461.9 162.5 461.9 162.9 461.9 163.3 461.9 163.7 461.9 164.1 461.9 164.5 461.9 164.9 461.9 165.3 461.9 165.7 461.9 166.1 461.9 166.5 461.9 166.9 461.9 167.3 461.9 167.7 461.9 168.1 461.9 168.5 461.8 168.9 461.8 169.3 461.7 169.7 461.5 170.1 461.2 170.5 460.8 170.9 460.3 171.3 459.6 171.7 458.8 172.1 457.8 172.5 456.9 172.9 456.0 173.3 455.4 173.7 455.0 174.1 455.0 174.5 455.4 174.9 456.0 175.3 456.9 175.7 457.8 176.1 458.8 176.5 459.6 176.9 460.3 177.3 460.8 177.7 461.2 178.1 461.5 178.5 461.7 178.9 461.8 179.3 461.8 179.7 461.9 180.1 461.9 180.5 461.9 180.9 461.9 181.3 461.9 181.7 461.9 182.1 461.9 182.5 461.9 182.9 461.9 183.3 461.9 183.7 461.9 184.1 461.9 184.5 461.9 184.9 461.9 185.3 461.8 185.7 461.8 186.1 461.6 186.5 461.4 186.9 461.1 187.3 460.6 187.7 459.8 188.1 458.8 188.5 457.5 188.9 455.9 189.3 454.2 189.7 452.4 190.1 450.8 190.5 449.5 190.9 448.7 191.3 448.5 191.7 449.0 192.1 450.1 192.5 451.5 192.9 453.3 193.3 455.1 193.7 456.7 194.1 458.2 194.5 459.4 194.9 460.2 195.3 460.9 195.7 461.3 196.1 461.6 196.5 461.7 196.9 461.8" fill="none" stroke="#3c2866" stroke-width="1.3" stroke-linejoin="round"/>
<path d="M118.5 461.9 118.9 461.9 119.3 461.9 119.7 461.9 120.1 461.9 120.5 461.9 120.9 461.9 121.3 461.9 121.7 461.9 122.1 461.9 122.5 461.9 122.9 461.9 123.3 461.9 123.7 461.9 124.1 461.9 124.5 461.9 124.9 461.9 125.3 461.9 125.7 461.9 126.1 461.9 126.5 461.9 126.9 461.9 127.3 461.9 127.7 461.9 128.1 461.9 128.5 461.9 128.9 461.9 129.3 461.9 129.7 461.9 130.1 461.9 130.5 461.9 130.9 461.9 131.3 461.9 131.7 461.9 132.1 461.9 132.5 461.9 132.9 461.9 133.3 461.9 133.7 461.9 134.1 461.9 134.5 461.9 134.9 461.9 135.3 461.8 135.7 461.7 136.1 461.5 136.5 461.2 136.9 460.8 137.3 460.1 137.7 459.1 138.1 457.8 138.5 456.2 138.9 454.3 139.3 452.2 139.7 450.2 140.1 448.4 140.5 447.0 140.9 446.3 141.3 446.3 141.7 447.0 142.1 448.4 142.5 450.2 142.9 452.2 143.3 454.3 143.7 456.2 144.1 457.8 144.5 459.1 144.9 460.1 145.3 460.8 145.7 461.2 146.1 461.5 146.5 461.7 146.9 461.8 147.3 461.9 147.7 461.9 148.1 461.9 148.5 461.9 148.9 461.9 149.3 461.9 149.7 461.9 150.1 461.9 150.5 461.9 150.9 461.9 151.3 461.9 151.7 461.9 152.1 461.9 152.5 461.9 152.9 461.9 153.3 461.9 153.7 461.9 154.1 461.9 154.5 461.9 154.9 461.9 155.3 461.9 155.7 461.9 156.1 461.9 156.5 461.9 156.9 461.9 157.3 461.9 157.7 461.9 158.1 461.9 158.5 461.9 158.9 461.9 159.3 461.9 159.7 461.9 160.1 461.9 160.5 461.9 160.9 461.9 161.3 461.9 161.7 461.9 162.1 461.9 162.5 461.9 162.9 461.9 163.3 461.9 163.7 461.9 164.1 461.9 164.5 461.9 164.9 461.9 165.3 461.9 165.7 461.9 166.1 461.9 166.5 461.9 166.9 461.9 167.3 461.9 167.7 461.9 168.1 461.9 168.5 461.9 168.9 461.9 169.3 461.9 169.7 461.9 170.1 461.9 170.5 461.9 170.9 461.9 171.3 461.9 171.7 461.9 172.1 461.9 172.5 461.9 172.9 461.9 173.3 461.9 173.7 461.9 174.1 461.9 174.5 461.9 174.9 461.9 175.3 461.9 175.7 461.9 176.1 461.9 176.5 461.9 176.9 461.9 177.3 461.9 177.7 461.9 178.1 461.9 178.5 461.9 178.9 461.9 179.3 461.9 179.7 461.9 180.1 461.9 180.5 461.9 180.9 461.9 181.3 461.9 181.7 461.9 182.1 461.9 182.5 461.9 182.9 461.9 183.3 461.9 183.7 461.9 184.1 461.9 184.5 461.9 184.9 461.9 185.3 461.9 185.7 461.9 186.1 461.9 186.5 461.9 186.9 461.9 187.3 461.9 187.7 461.9 188.1 461.9 188.5 461.9 188.9 461.9 189.3 461.9 189.7 461.9 190.1 461.9 190.5 461.9 190.9 461.9 191.3 461.9 191.7 461.9 192.1 461.9 192.5 461.9 192.9 461.9 193.3 461.9 193.7 461.9 194.1 461.9 194.5 461.9 194.9 461.9 195.3 461.9 195.7 461.9 196.1 461.9 196.5 461.9 196.9 461.9" fill="none" stroke="#2f5597" stroke-width="1.3" stroke-linejoin="round"/>
<path d="M118.5 461.8 118.9 461.8 119.3 461.7 119.7 461.5 120.1 461.2 120.5 460.7 120.9 460.0 121.3 459.0 121.7 457.6 122.1 455.7 122.5 453.6 122.9 451.2 123.3 448.7 123.7 446.3 124.1 444.4 124.5 443.1 124.9 442.7 125.3 443.1 125.7 444.4 126.1 446.3 126.5 448.6 126.9 451.1 127.3 453.4 127.7 455.5 128.1 457.0 128.5 458.1 128.9 458.5 129.3 458.4 129.7 457.8 130.1 456.7 130.5 455.1 130.9 453.3 131.3 451.5 131.7 449.7 132.1 448.3 132.5 447.5 132.9 447.3 133.3 447.8 133.7 449.0 134.1 450.6 134.5 452.5 134.9 454.4 135.3 456.2 135.7 457.8 136.1 459.1 136.5 460.1 136.9 460.7 137.3 461.2 137.7 461.5 138.1 461.7 138.5 461.8 138.9 461.8 139.3 461.9 139.7 461.9 140.1 461.9 140.5 461.9 140.9 461.9 141.3 461.9 141.7 461.9 142.1 461.9 142.5 461.9 142.9 461.9 143.3 461.9 143.7 461.9 144.1 461.9 144.5 461.9 144.9 461.9 145.3 461.9 145.7 461.9 146.1 461.9 146.5 461.9 146.9 461.9 147.3 461.9 147.7 461.9 148.1 461.9 148.5 461.9 148.9 461.9 149.3 461.9 149.7 461.9 150.1 461.9 150.5 461.9 150.9 461.9 151.3 461.9 151.7 461.8 152.1 461.7 152.5 461.6 152.9 461.3 153.3 460.8 153.7 460.2 154.1 459.2 154.5 457.9 154.9 456.2 155.3 454.2 155.7 451.9 156.1 449.5 156.5 447.3 156.9 445.5 157.3 444.3 157.7 443.9 158.1 444.3 158.5 445.5 158.9 447.3 159.3 449.5 159.7 451.8 160.1 454.0 160.5 455.9 160.9 457.3 161.3 458.2 161.7 458.5 162.1 458.2 162.5 457.3 162.9 455.9 163.3 454.0 163.7 451.7 164.1 449.2 164.5 446.9 164.9 444.8 165.3 443.4 165.7 442.7 166.1 442.9 166.5 444.0 166.9 445.8 167.3 448.0 167.7 450.5 168.1 453.0 168.5 455.2 168.9 457.1 169.3 458.7 169.7 459.8 170.1 460.6 170.5 461.1 170.9 461.5 171.3 461.7 171.7 461.8 172.1 461.8 172.5 461.9 172.9 461.9 173.3 461.9 173.7 461.9 174.1 461.9 174.5 461.9 174.9 461.9 175.3 461.9 175.7 461.9 176.1 461.8 176.5 461.8 176.9 461.7 177.3 461.5 177.7 461.2 178.1 460.6 178.5 459.8 178.9 458.6 179.3 456.9 179.7 454.7 180.1 451.8 180.5 448.5 180.9 444.7 181.3 440.7 181.7 436.8 182.1 433.5 182.5 431.1 182.9 429.8 183.3 429.8 183.7 431.1 184.1 433.5 184.5 436.8 184.9 440.7 185.3 444.7 185.7 448.5 186.1 451.8 186.5 454.7 186.9 456.9 187.3 458.6 187.7 459.8 188.1 460.6 188.5 461.2 188.9 461.5 189.3 461.7 189.7 461.8 190.1 461.8 190.5 461.9 190.9 461.9 191.3 461.8 191.7 461.8 192.1 461.7 192.5 461.5 192.9 461.2 193.3 460.8 193.7 460.1 194.1 459.3 194.5 458.2 194.9 457.0 195.3 455.6 195.7 454.3 196.1 453.2 196.5 452.4 196.9 452.0" fill="none" stroke="#6cbd48" stroke-width="1.3" stroke-linejoin="round"/>
<path d="M118.5 450.5 118.9 451.4 119.3 452.7 119.7 454.3 120.1 455.9 120.5 457.4 120.9 458.7 121.3 459.7 121.7 460.5 122.1 461.0 122.5 461.4 122.9 461.6 123.3 461.7 123.7 461.8 124.1 461.9 124.5 461.9 124.9 461.9 125.3 461.9 125.7 461.9 126.1 461.9 126.5 461.9 126.9 461.9 127.3 461.9 127.7 461.9 128.1 461.9 128.5 461.9 128.9 461.9 129.3 461.9 129.7 461.9 130.1 461.9 130.5 461.9 130.9 461.9 131.3 461.9 131.7 461.9 132.1 461.9 132.5 461.9 132.9 461.9 133.3 461.9 133.7 461.9 134.1 461.9 134.5 461.9 134.9 461.9 135.3 461.9 135.7 461.9 136.1 461.9 136.5 461.9 136.9 461.9 137.3 461.9 137.7 461.9 138.1 461.9 138.5 461.9 138.9 461.9 139.3 461.9 139.7 461.9 140.1 461.9 140.5 461.9 140.9 461.9 141.3 461.9 141.7 461.9 142.1 461.9 142.5 461.9 142.9 461.9 143.3 461.9 143.7 461.9 144.1 461.8 144.5 461.7 144.9 461.6 145.3 461.4 145.7 461.0 146.1 460.5 146.5 459.8 146.9 458.8 147.3 457.6 147.7 456.2 148.1 454.8 148.5 453.4 148.9 452.3 149.3 451.6 149.7 451.3 150.1 451.6 150.5 452.3 150.9 453.4 151.3 454.8 151.7 456.2 152.1 457.6 152.5 458.8 152.9 459.8 153.3 460.5 153.7 461.0 154.1 461.4 154.5 461.6 154.9 461.7 155.3 461.8 155.7 461.9 156.1 461.9 156.5 461.9 156.9 461.9 157.3 461.9 157.7 461.9 158.1 461.9 158.5 461.9 158.9 461.9 159.3 461.9 159.7 461.9 160.1 461.9 160.5 461.9 160.9 461.9 161.3 461.9 161.7 461.9 162.1 461.9 162.5 461.9 162.9 461.9 163.3 461.9 163.7 461.9 164.1 461.9 164.5 461.9 164.9 461.9 165.3 461.9 165.7 461.9 166.1 461.9 166.5 461.9 166.9 461.9 167.3 461.9 167.7 461.9 168.1 461.9 168.5 461.9 168.9 461.9 169.3 461.9 169.7 461.9 170.1 461.9 170.5 461.9 170.9 461.9 171.3 461.9 171.7 461.9 172.1 461.9 172.5 461.9 172.9 461.9 173.3 461.9 173.7 461.9 174.1 461.9 174.5 461.9 174.9 461.9 175.3 461.9 175.7 461.9 176.1 461.9 176.5 461.9 176.9 461.9 177.3 461.9 177.7 461.9 178.1 461.9 178.5 461.9 178.9 461.9 179.3 461.9 179.7 461.9 180.1 461.9 180.5 461.9 180.9 461.9 181.3 461.9 181.7 461.9 182.1 461.9 182.5 461.9 182.9 461.9 183.3 461.9 183.7 461.9 184.1 461.9 184.5 461.9 184.9 461.9 185.3 461.9 185.7 461.9 186.1 461.9 186.5 461.9 186.9 461.9 187.3 461.9 187.7 461.9 188.1 461.9 188.5 461.9 188.9 461.9 189.3 461.9 189.7 461.9 190.1 461.9 190.5 461.9 190.9 461.9 191.3 461.9 191.7 461.9 192.1 461.9 192.5 461.9 192.9 461.9 193.3 461.9 193.7 461.9 194.1 461.9 194.5 461.9 194.9 461.9 195.3 461.9 195.7 461.9 196.1 461.9 196.5 461.9 196.9 461.9" fill="none" stroke="#c0203e" stroke-width="1.3" stroke-linejoin="round"/>
<line x1="118.5" y1="461.9" x2="197" y2="461.9" stroke="#b02040" stroke-width="1.5"/>
<text x="126.6" y="424.1" font-size="6.6" fill="#86a870" text-anchor="middle" stroke="#86a870" stroke-width="0.22">A</text>
<text x="132.8" y="424.1" font-size="6.6" fill="#86a870" text-anchor="middle" stroke="#86a870" stroke-width="0.22">A</text>
<text x="141.1" y="424.1" font-size="6.6" fill="#606a80" text-anchor="middle" stroke="#606a80" stroke-width="0.22">C</text>
<text x="157.7" y="424.1" font-size="6.6" fill="#86a870" text-anchor="middle" stroke="#86a870" stroke-width="0.22">A</text>
<text x="165.1" y="424.1" font-size="6.6" fill="#86a870" text-anchor="middle" stroke="#86a870" stroke-width="0.22">A</text>
<text x="173.9" y="424.1" font-size="6.6" fill="#5c566c" text-anchor="middle" stroke="#5c566c" stroke-width="0.22">G</text>
<text x="182.7" y="424.1" font-size="6.6" fill="#86a870" text-anchor="middle" stroke="#86a870" stroke-width="0.22">A</text>
<text x="190.5" y="424.1" font-size="6.6" fill="#5c566c" text-anchor="middle" stroke="#5c566c" stroke-width="0.22">G</text>
<text x="149.7" y="419.5" font-size="6.6" fill="#5c566c" text-anchor="middle" stroke="#5c566c" stroke-width="0.2">G</text>
<text x="149.7" y="427.6" font-size="6.6" fill="#9a4a40" text-anchor="middle" stroke="#9a4a40" stroke-width="0.2">T</text>
<text x="193.5" y="419.7" font-size="6.2" fill="#5e5e6e">WT</text>
<text x="196.5" y="426.2" font-size="4.5" fill="#5e5e6e" text-anchor="middle">•</text>
<rect x="63.5" y="495.9" width="8.5" height="27.7" fill="#b9c4d9"/>
<path d="M29.6 523.6 30.0 523.6 30.4 523.6 30.8 523.6 31.2 523.6 31.6 523.6 32.0 523.6 32.4 523.6 32.8 523.6 33.2 523.6 33.6 523.6 34.0 523.6 34.4 523.6 34.8 523.6 35.2 523.6 35.6 523.6 36.0 523.6 36.4 523.6 36.8 523.6 37.2 523.6 37.6 523.6 38.0 523.6 38.4 523.6 38.8 523.6 39.2 523.6 39.6 523.6 40.0 523.6 40.4 523.6 40.8 523.6 41.2 523.6 41.6 523.6 42.0 523.6 42.4 523.6 42.8 523.6 43.2 523.6 43.6 523.6 44.0 523.6 44.4 523.6 44.8 523.6 45.2 523.6 45.6 523.6 46.0 523.6 46.4 523.6 46.8 523.6 47.2 523.6 47.6 523.6 48.0 523.6 48.4 523.6 48.8 523.6 49.2 523.6 49.6 523.6 50.0 523.6 50.4 523.6 50.8 523.6 51.2 523.6 51.6 523.6 52.0 523.6 52.4 523.6 52.8 523.6 53.2 523.6 53.6 523.6 54.0 523.6 54.4 523.6 54.8 523.6 55.2 523.6 55.6 523.6 56.0 523.6 56.4 523.6 56.8 523.6 57.2 523.6 57.6 523.6 58.0 523.6 58.4 523.6 58.8 523.6 59.2 523.6 59.6 523.6 60.0 523.6 60.4 523.6 60.8 523.6 61.2 523.6 61.6 523.6 62.0 523.6 62.4 523.6 62.8 523.5 63.2 523.5 63.6 523.4 64.0 523.2 64.4 522.9 64.8 522.6 65.2 522.1 65.6 521.4 66.0 520.7 66.4 519.9 66.8 519.2 67.2 518.6 67.6 518.1 68.0 518.0 68.4 518.1 68.8 518.6 69.2 519.2 69.6 519.9 70.0 520.7 70.4 521.4 70.8 522.1 71.2 522.6 71.6 522.9 72.0 523.2 72.4 523.4 72.8 523.5 73.2 523.5 73.6 523.6 74.0 523.6 74.4 523.6 74.8 523.6 75.2 523.6 75.6 523.6 76.0 523.6 76.4 523.6 76.8 523.6 77.2 523.6 77.6 523.6 78.0 523.6 78.4 523.6 78.8 523.5 79.2 523.4 79.6 523.3 80.0 523.0 80.4 522.6 80.8 521.9 81.2 520.9 81.6 519.4 82.0 517.4 82.4 514.8 82.8 511.7 83.2 508.1 83.6 504.3 84.0 500.5 84.4 497.1 84.8 494.5 85.2 493.0 85.6 492.6 86.0 493.6 86.4 495.7 86.8 498.8 87.2 502.4 87.6 506.2 88.0 509.9 88.4 513.3 88.8 516.2 89.2 518.4 89.6 520.2 90.0 521.4 90.4 522.3 90.8 522.8 91.2 523.2 91.6 523.4 92.0 523.5 92.4 523.5 92.8 523.6 93.2 523.6 93.6 523.6 94.0 523.6 94.4 523.6 94.8 523.6 95.2 523.6 95.6 523.5 96.0 523.4 96.4 523.2 96.8 522.9 97.2 522.4 97.6 521.7 98.0 520.6 98.4 519.0 98.8 516.9 99.2 514.3 99.6 511.2 100.0 507.7 100.4 504.2 100.8 500.8 101.2 497.9 101.6 495.9 102.0 495.0 102.4 495.3 102.8 496.8 103.2 499.3 103.6 502.4 104.0 506.0 104.4 509.5 104.8 512.8 105.2 515.7 105.6 518.0 106.0 519.9 106.4 521.2 106.8 522.1 107.2 522.7 107.6 523.1 108.0 523.3 108.4 523.5" fill="none" stroke="#3c2866" stroke-width="1.3" stroke-linejoin="round"/>
<path d="M29.6 523.6 30.0 523.6 30.4 523.6 30.8 523.6 31.2 523.6 31.6 523.6 32.0 523.6 32.4 523.6 32.8 523.6 33.2 523.6 33.6 523.6 34.0 523.6 34.4 523.6 34.8 523.6 35.2 523.6 35.6 523.6 36.0 523.6 36.4 523.6 36.8 523.6 37.2 523.6 37.6 523.6 38.0 523.6 38.4 523.6 38.8 523.6 39.2 523.6 39.6 523.6 40.0 523.6 40.4 523.6 40.8 523.6 41.2 523.6 41.6 523.6 42.0 523.6 42.4 523.6 42.8 523.6 43.2 523.6 43.6 523.6 44.0 523.6 44.4 523.6 44.8 523.6 45.2 523.6 45.6 523.6 46.0 523.6 46.4 523.6 46.8 523.5 47.2 523.4 47.6 523.3 48.0 523.0 48.4 522.6 48.8 521.9 49.2 521.0 49.6 519.7 50.0 518.1 50.4 516.2 50.8 514.1 51.2 512.0 51.6 510.1 52.0 508.5 52.4 507.6 52.8 507.4 53.2 508.0 53.6 509.2 54.0 511.0 54.4 513.1 54.8 515.2 55.2 517.2 55.6 519.0 56.0 520.4 56.4 521.5 56.8 522.3 57.2 522.8 57.6 523.1 58.0 523.4 58.4 523.5 58.8 523.5 59.2 523.6 59.6 523.6 60.0 523.6 60.4 523.6 60.8 523.6 61.2 523.6 61.6 523.6 62.0 523.5 62.4 523.4 62.8 523.3 63.2 523.0 63.6 522.7 64.0 522.1 64.4 521.4 64.8 520.4 65.2 519.3 65.6 518.0 66.0 516.8 66.4 515.7 66.8 514.8 67.2 514.4 67.6 514.4 68.0 514.8 68.4 515.7 68.8 516.8 69.2 518.0 69.6 519.3 70.0 520.4 70.4 521.4 70.8 522.1 71.2 522.7 71.6 523.0 72.0 523.3 72.4 523.4 72.8 523.5 73.2 523.6 73.6 523.6 74.0 523.6 74.4 523.6 74.8 523.6 75.2 523.6 75.6 523.6 76.0 523.6 76.4 523.6 76.8 523.6 77.2 523.6 77.6 523.6 78.0 523.6 78.4 523.6 78.8 523.6 79.2 523.6 79.6 523.6 80.0 523.6 80.4 523.6 80.8 523.6 81.2 523.6 81.6 523.6 82.0 523.6 82.4 523.6 82.8 523.6 83.2 523.6 83.6 523.6 84.0 523.6 84.4 523.6 84.8 523.6 85.2 523.6 85.6 523.6 86.0 523.6 86.4 523.6 86.8 523.6 87.2 523.6 87.6 523.6 88.0 523.6 88.4 523.6 88.8 523.6 89.2 523.6 89.6 523.6 90.0 523.6 90.4 523.6 90.8 523.6 91.2 523.6 91.6 523.6 92.0 523.6 92.4 523.6 92.8 523.6 93.2 523.6 93.6 523.6 94.0 523.6 94.4 523.6 94.8 523.6 95.2 523.6 95.6 523.6 96.0 523.6 96.4 523.6 96.8 523.6 97.2 523.6 97.6 523.6 98.0 523.6 98.4 523.6 98.8 523.6 99.2 523.6 99.6 523.6 100.0 523.6 100.4 523.6 100.8 523.6 101.2 523.6 101.6 523.6 102.0 523.6 102.4 523.6 102.8 523.6 103.2 523.6 103.6 523.6 104.0 523.6 104.4 523.6 104.8 523.6 105.2 523.6 105.6 523.6 106.0 523.6 106.4 523.6 106.8 523.6 107.2 523.6 107.6 523.6 108.0 523.6 108.4 523.6" fill="none" stroke="#2f5597" stroke-width="1.3" stroke-linejoin="round"/>
<path d="M29.6 513.9 30.0 512.1 30.4 510.6 30.8 509.6 31.2 509.3 31.6 509.6 32.0 510.6 32.4 512.1 32.8 513.9 33.2 515.8 33.6 517.6 34.0 519.2 34.4 520.6 34.8 521.6 35.2 522.3 35.6 522.8 36.0 523.2 36.4 523.4 36.8 523.5 37.2 523.5 37.6 523.6 38.0 523.6 38.4 523.6 38.8 523.6 39.2 523.6 39.6 523.5 40.0 523.5 40.4 523.3 40.8 523.1 41.2 522.7 41.6 522.2 42.0 521.3 42.4 520.2 42.8 518.7 43.2 516.8 43.6 514.7 44.0 512.4 44.4 510.3 44.8 508.4 45.2 507.1 45.6 506.5 46.0 506.7 46.4 507.7 46.8 509.3 47.2 511.3 47.6 513.6 48.0 515.8 48.4 517.8 48.8 519.5 49.2 520.8 49.6 521.8 50.0 522.5 50.4 522.9 50.8 523.2 51.2 523.4 51.6 523.5 52.0 523.6 52.4 523.6 52.8 523.6 53.2 523.6 53.6 523.6 54.0 523.5 54.4 523.5 54.8 523.3 55.2 523.1 55.6 522.8 56.0 522.3 56.4 521.5 56.8 520.4 57.2 519.1 57.6 517.4 58.0 515.5 58.4 513.5 58.8 511.7 59.2 510.2 59.6 509.2 60.0 508.8 60.4 509.2 60.8 510.2 61.2 511.7 61.6 513.5 62.0 515.5 62.4 517.4 62.8 519.1 63.2 520.4 63.6 521.5 64.0 522.3 64.4 522.8 64.8 523.1 65.2 523.3 65.6 523.5 66.0 523.5 66.4 523.6 66.8 523.6 67.2 523.6 67.6 523.6 68.0 523.6 68.4 523.6 68.8 523.6 69.2 523.6 69.6 523.6 70.0 523.6 70.4 523.6 70.8 523.6 71.2 523.6 71.6 523.6 72.0 523.6 72.4 523.6 72.8 523.6 73.2 523.6 73.6 523.6 74.0 523.6 74.4 523.6 74.8 523.6 75.2 523.6 75.6 523.6 76.0 523.6 76.4 523.6 76.8 523.6 77.2 523.6 77.6 523.6 78.0 523.6 78.4 523.6 78.8 523.6 79.2 523.6 79.6 523.6 80.0 523.6 80.4 523.6 80.8 523.6 81.2 523.6 81.6 523.6 82.0 523.6 82.4 523.6 82.8 523.6 83.2 523.6 83.6 523.6 84.0 523.6 84.4 523.6 84.8 523.6 85.2 523.6 85.6 523.6 86.0 523.6 86.4 523.6 86.8 523.6 87.2 523.6 87.6 523.6 88.0 523.6 88.4 523.6 88.8 523.6 89.2 523.6 89.6 523.6 90.0 523.6 90.4 523.6 90.8 523.6 91.2 523.6 91.6 523.6 92.0 523.6 92.4 523.6 92.8 523.6 93.2 523.6 93.6 523.6 94.0 523.6 94.4 523.6 94.8 523.6 95.2 523.6 95.6 523.6 96.0 523.6 96.4 523.6 96.8 523.6 97.2 523.6 97.6 523.6 98.0 523.6 98.4 523.6 98.8 523.6 99.2 523.6 99.6 523.6 100.0 523.6 100.4 523.6 100.8 523.6 101.2 523.6 101.6 523.6 102.0 523.6 102.4 523.6 102.8 523.6 103.2 523.6 103.6 523.6 104.0 523.6 104.4 523.6 104.8 523.6 105.2 523.6 105.6 523.6 106.0 523.6 106.4 523.6 106.8 523.6 107.2 523.6 107.6 523.6 108.0 523.6 108.4 523.6" fill="none" stroke="#6cbd48" stroke-width="1.3" stroke-linejoin="round"/>
<path d="M29.6 523.6 30.0 523.6 30.4 523.6 30.8 523.6 31.2 523.6 31.6 523.6 32.0 523.5 32.4 523.4 32.8 523.3 33.2 523.1 33.6 522.7 34.0 522.1 34.4 521.2 34.8 520.0 35.2 518.4 35.6 516.5 36.0 514.3 36.4 512.0 36.8 509.7 37.2 507.8 37.6 506.4 38.0 505.8 38.4 506.0 38.8 507.0 39.2 508.7 39.6 510.8 40.0 513.1 40.4 515.4 40.8 517.5 41.2 519.3 41.6 520.7 42.0 521.7 42.4 522.4 42.8 522.9 43.2 523.2 43.6 523.4 44.0 523.5 44.4 523.5 44.8 523.6 45.2 523.6 45.6 523.6 46.0 523.6 46.4 523.6 46.8 523.6 47.2 523.6 47.6 523.6 48.0 523.6 48.4 523.6 48.8 523.6 49.2 523.6 49.6 523.6 50.0 523.6 50.4 523.6 50.8 523.6 51.2 523.6 51.6 523.6 52.0 523.6 52.4 523.6 52.8 523.6 53.2 523.6 53.6 523.6 54.0 523.6 54.4 523.6 54.8 523.6 55.2 523.6 55.6 523.6 56.0 523.6 56.4 523.6 56.8 523.6 57.2 523.6 57.6 523.6 58.0 523.6 58.4 523.6 58.8 523.6 59.2 523.6 59.6 523.6 60.0 523.6 60.4 523.6 60.8 523.6 61.2 523.6 61.6 523.6 62.0 523.6 62.4 523.6 62.8 523.6 63.2 523.6 63.6 523.6 64.0 523.6 64.4 523.6 64.8 523.6 65.2 523.6 65.6 523.6 66.0 523.6 66.4 523.6 66.8 523.6 67.2 523.6 67.6 523.6 68.0 523.6 68.4 523.6 68.8 523.6 69.2 523.6 69.6 523.5 70.0 523.5 70.4 523.4 70.8 523.2 71.2 522.8 71.6 522.3 72.0 521.6 72.4 520.5 72.8 519.1 73.2 517.3 73.6 515.2 74.0 513.0 74.4 510.8 74.8 508.8 75.2 507.4 75.6 506.6 76.0 506.6 76.4 507.4 76.8 508.8 77.2 510.8 77.6 513.0 78.0 515.2 78.4 517.3 78.8 519.1 79.2 520.5 79.6 521.6 80.0 522.3 80.4 522.8 80.8 523.2 81.2 523.4 81.6 523.5 82.0 523.5 82.4 523.6 82.8 523.6 83.2 523.6 83.6 523.6 84.0 523.6 84.4 523.6 84.8 523.6 85.2 523.6 85.6 523.6 86.0 523.6 86.4 523.6 86.8 523.6 87.2 523.6 87.6 523.5 88.0 523.5 88.4 523.4 88.8 523.2 89.2 522.8 89.6 522.3 90.0 521.6 90.4 520.6 90.8 519.3 91.2 517.7 91.6 516.0 92.0 514.2 92.4 512.6 92.8 511.4 93.2 510.6 93.6 510.4 94.0 510.9 94.4 511.9 94.8 513.4 95.2 515.1 95.6 516.9 96.0 518.5 96.4 520.0 96.8 521.1 97.2 522.0 97.6 522.6 98.0 523.0 98.4 523.3 98.8 523.4 99.2 523.5 99.6 523.6 100.0 523.6 100.4 523.6 100.8 523.6 101.2 523.6 101.6 523.6 102.0 523.6 102.4 523.5 102.8 523.5 103.2 523.3 103.6 523.1 104.0 522.8 104.4 522.3 104.8 521.5 105.2 520.5 105.6 519.1 106.0 517.5 106.4 515.8 106.8 513.9 107.2 512.3 107.6 511.0 108.0 510.2 108.4 510.0" fill="none" stroke="#c0203e" stroke-width="1.3" stroke-linejoin="round"/>
<line x1="29.6" y1="523.6" x2="108.5" y2="523.6" stroke="#b02040" stroke-width="1.5"/>
<text x="37" y="488.4" font-size="6.6" fill="#8a3a4c" text-anchor="middle" stroke="#8a3a4c" stroke-width="0.22">T</text>
<text x="43.9" y="488.4" font-size="6.6" fill="#86a870" text-anchor="middle" stroke="#86a870" stroke-width="0.22">A</text>
<text x="52" y="488.4" font-size="6.6" fill="#606a80" text-anchor="middle" stroke="#606a80" stroke-width="0.22">C</text>
<text x="59.6" y="488.4" font-size="6.6" fill="#86a870" text-anchor="middle" stroke="#86a870" stroke-width="0.22">A</text>
<text x="76.2" y="488.4" font-size="6.6" fill="#8a3a4c" text-anchor="middle" stroke="#8a3a4c" stroke-width="0.22">T</text>
<text x="85" y="488.4" font-size="6.6" fill="#5c566c" text-anchor="middle" stroke="#5c566c" stroke-width="0.22">G</text>
<text x="93.5" y="488.4" font-size="6.6" fill="#8a3a4c" text-anchor="middle" stroke="#8a3a4c" stroke-width="0.22">T</text>
<text x="101.6" y="488.4" font-size="6.6" fill="#5c566c" text-anchor="middle" stroke="#5c566c" stroke-width="0.22">G</text>
<text x="68.1" y="484.7" font-size="6.6" fill="#606a80" text-anchor="middle" stroke="#606a80" stroke-width="0.2">C</text>
<text x="68.1" y="493.2" font-size="6.6" fill="#5c566c" text-anchor="middle" stroke="#5c566c" stroke-width="0.2">G</text>
<text x="107.4" y="482.4" font-size="6.2" fill="#5e5e6e">WT</text>
<text x="110.4" y="488.9" font-size="4.5" fill="#5e5e6e" text-anchor="middle">•</text>
<rect x="153.1" y="495.9" width="8.8" height="27.7" fill="#b9c4d9"/>
<path d="M118.5 523.6 118.9 523.6 119.3 523.6 119.7 523.6 120.1 523.6 120.5 523.6 120.9 523.6 121.3 523.6 121.7 523.6 122.1 523.6 122.5 523.6 122.9 523.6 123.3 523.6 123.7 523.6 124.1 523.6 124.5 523.6 124.9 523.6 125.3 523.6 125.7 523.6 126.1 523.6 126.5 523.6 126.9 523.6 127.3 523.6 127.7 523.6 128.1 523.6 128.5 523.6 128.9 523.6 129.3 523.6 129.7 523.6 130.1 523.6 130.5 523.6 130.9 523.6 131.3 523.6 131.7 523.6 132.1 523.6 132.5 523.6 132.9 523.6 133.3 523.6 133.7 523.6 134.1 523.6 134.5 523.6 134.9 523.6 135.3 523.6 135.7 523.6 136.1 523.6 136.5 523.6 136.9 523.6 137.3 523.6 137.7 523.6 138.1 523.6 138.5 523.6 138.9 523.6 139.3 523.6 139.7 523.6 140.1 523.6 140.5 523.6 140.9 523.6 141.3 523.6 141.7 523.6 142.1 523.6 142.5 523.6 142.9 523.6 143.3 523.6 143.7 523.6 144.1 523.6 144.5 523.6 144.9 523.6 145.3 523.6 145.7 523.6 146.1 523.6 146.5 523.6 146.9 523.6 147.3 523.6 147.7 523.6 148.1 523.6 148.5 523.6 148.9 523.6 149.3 523.6 149.7 523.6 150.1 523.6 150.5 523.6 150.9 523.6 151.3 523.5 151.7 523.4 152.1 523.3 152.5 523.1 152.9 522.8 153.3 522.4 153.7 521.8 154.1 521.0 154.5 520.2 154.9 519.2 155.3 518.4 155.7 517.7 156.1 517.2 156.5 517.0 156.9 517.2 157.3 517.7 157.7 518.4 158.1 519.2 158.5 520.2 158.9 521.0 159.3 521.8 159.7 522.4 160.1 522.8 160.5 523.1 160.9 523.3 161.3 523.4 161.7 523.5 162.1 523.6 162.5 523.6 162.9 523.6 163.3 523.6 163.7 523.6 164.1 523.6 164.5 523.6 164.9 523.6 165.3 523.6 165.7 523.6 166.1 523.6 166.5 523.6 166.9 523.6 167.3 523.6 167.7 523.5 168.1 523.5 168.5 523.3 168.9 523.1 169.3 522.7 169.7 522.1 170.1 521.2 170.5 519.9 170.9 518.2 171.3 515.8 171.7 513.0 172.1 509.7 172.5 506.2 172.9 502.8 173.3 499.6 173.7 497.2 174.1 495.7 174.5 495.4 174.9 496.3 175.3 498.3 175.7 501.1 176.1 504.5 176.5 508.0 176.9 511.4 177.3 514.5 177.7 517.1 178.1 519.1 178.5 520.6 178.9 521.7 179.3 522.5 179.7 523.0 180.1 523.2 180.5 523.4 180.9 523.5 181.3 523.6 181.7 523.6 182.1 523.6 182.5 523.6 182.9 523.6 183.3 523.6 183.7 523.6 184.1 523.6 184.5 523.6 184.9 523.5 185.3 523.4 185.7 523.2 186.1 522.9 186.5 522.4 186.9 521.7 187.3 520.6 187.7 519.1 188.1 517.1 188.5 514.6 188.9 511.7 189.3 508.6 189.7 505.5 190.1 502.7 190.5 500.5 190.9 499.2 191.3 498.9 191.7 499.7 192.1 501.5 192.5 504.0 192.9 507.0 193.3 510.2 193.7 513.2 194.1 515.9 194.5 518.1 194.9 519.9 195.3 521.2 195.7 522.1 196.1 522.7 196.5 523.1 196.9 523.3" fill="none" stroke="#3c2866" stroke-width="1.3" stroke-linejoin="round"/>
<path d="M118.5 523.6 118.9 523.6 119.3 523.6 119.7 523.6 120.1 523.6 120.5 523.6 120.9 523.6 121.3 523.6 121.7 523.6 122.1 523.6 122.5 523.6 122.9 523.6 123.3 523.6 123.7 523.6 124.1 523.6 124.5 523.6 124.9 523.6 125.3 523.6 125.7 523.6 126.1 523.6 126.5 523.6 126.9 523.6 127.3 523.6 127.7 523.6 128.1 523.6 128.5 523.6 128.9 523.6 129.3 523.6 129.7 523.6 130.1 523.6 130.5 523.6 130.9 523.6 131.3 523.6 131.7 523.6 132.1 523.6 132.5 523.6 132.9 523.6 133.3 523.6 133.7 523.6 134.1 523.6 134.5 523.6 134.9 523.6 135.3 523.6 135.7 523.5 136.1 523.4 136.5 523.3 136.9 523.0 137.3 522.6 137.7 521.9 138.1 521.0 138.5 519.7 138.9 518.1 139.3 516.2 139.7 514.1 140.1 512.0 140.5 510.1 140.9 508.5 141.3 507.6 141.7 507.4 142.1 508.0 142.5 509.2 142.9 511.0 143.3 513.1 143.7 515.2 144.1 517.2 144.5 519.0 144.9 520.4 145.3 521.5 145.7 522.3 146.1 522.8 146.5 523.1 146.9 523.4 147.3 523.5 147.7 523.5 148.1 523.6 148.5 523.6 148.9 523.6 149.3 523.6 149.7 523.6 150.1 523.5 150.5 523.4 150.9 523.3 151.3 523.1 151.7 522.7 152.1 522.2 152.5 521.3 152.9 520.3 153.3 518.9 153.7 517.3 154.1 515.6 154.5 513.8 154.9 512.3 155.3 511.1 155.7 510.5 156.1 510.5 156.5 511.1 156.9 512.3 157.3 513.8 157.7 515.6 158.1 517.3 158.5 518.9 158.9 520.3 159.3 521.3 159.7 522.2 160.1 522.7 160.5 523.1 160.9 523.3 161.3 523.4 161.7 523.5 162.1 523.6 162.5 523.6 162.9 523.6 163.3 523.6 163.7 523.6 164.1 523.6 164.5 523.6 164.9 523.6 165.3 523.6 165.7 523.6 166.1 523.6 166.5 523.6 166.9 523.6 167.3 523.6 167.7 523.6 168.1 523.6 168.5 523.6 168.9 523.6 169.3 523.6 169.7 523.6 170.1 523.6 170.5 523.6 170.9 523.6 171.3 523.6 171.7 523.6 172.1 523.6 172.5 523.6 172.9 523.6 173.3 523.6 173.7 523.6 174.1 523.6 174.5 523.6 174.9 523.6 175.3 523.6 175.7 523.6 176.1 523.6 176.5 523.6 176.9 523.6 177.3 523.6 177.7 523.6 178.1 523.6 178.5 523.6 178.9 523.6 179.3 523.6 179.7 523.6 180.1 523.6 180.5 523.6 180.9 523.6 181.3 523.6 181.7 523.6 182.1 523.6 182.5 523.6 182.9 523.6 183.3 523.6 183.7 523.6 184.1 523.6 184.5 523.6 184.9 523.6 185.3 523.6 185.7 523.6 186.1 523.6 186.5 523.6 186.9 523.6 187.3 523.6 187.7 523.6 188.1 523.6 188.5 523.6 188.9 523.6 189.3 523.6 189.7 523.6 190.1 523.6 190.5 523.6 190.9 523.6 191.3 523.6 191.7 523.6 192.1 523.6 192.5 523.6 192.9 523.6 193.3 523.6 193.7 523.6 194.1 523.6 194.5 523.6 194.9 523.6 195.3 523.6 195.7 523.6 196.1 523.6 196.5 523.6 196.9 523.6" fill="none" stroke="#2f5597" stroke-width="1.3" stroke-linejoin="round"/>
<path d="M118.5 514.8 118.9 513.0 119.3 511.3 119.7 510.1 120.1 509.4 120.5 509.4 120.9 510.1 121.3 511.3 121.7 513.0 122.1 514.8 122.5 516.7 122.9 518.5 123.3 519.9 123.7 521.1 124.1 522.0 124.5 522.6 124.9 523.0 125.3 523.3 125.7 523.4 126.1 523.5 126.5 523.6 126.9 523.6 127.3 523.6 127.7 523.6 128.1 523.5 128.5 523.5 128.9 523.3 129.3 523.1 129.7 522.8 130.1 522.2 130.5 521.4 130.9 520.3 131.3 518.8 131.7 517.0 132.1 515.0 132.5 512.8 132.9 510.7 133.3 508.9 133.7 507.6 134.1 507.0 134.5 507.2 134.9 508.2 135.3 509.7 135.7 511.7 136.1 513.9 136.5 516.0 136.9 518.0 137.3 519.6 137.7 520.9 138.1 521.9 138.5 522.5 138.9 523.0 139.3 523.3 139.7 523.4 140.1 523.5 140.5 523.6 140.9 523.6 141.3 523.6 141.7 523.6 142.1 523.6 142.5 523.6 142.9 523.5 143.3 523.5 143.7 523.4 144.1 523.2 144.5 522.9 144.9 522.5 145.3 521.8 145.7 520.9 146.1 519.6 146.5 518.1 146.9 516.3 147.3 514.4 147.7 512.5 148.1 511.0 148.5 509.8 148.9 509.3 149.3 509.5 149.7 510.3 150.1 511.7 150.5 513.4 150.9 515.3 151.3 517.2 151.7 518.9 152.1 520.3 152.5 521.4 152.9 522.2 153.3 522.7 153.7 523.1 154.1 523.3 154.5 523.5 154.9 523.5 155.3 523.6 155.7 523.6 156.1 523.6 156.5 523.6 156.9 523.6 157.3 523.6 157.7 523.6 158.1 523.6 158.5 523.6 158.9 523.6 159.3 523.6 159.7 523.6 160.1 523.6 160.5 523.6 160.9 523.6 161.3 523.6 161.7 523.6 162.1 523.6 162.5 523.6 162.9 523.6 163.3 523.6 163.7 523.6 164.1 523.6 164.5 523.6 164.9 523.6 165.3 523.6 165.7 523.6 166.1 523.6 166.5 523.6 166.9 523.6 167.3 523.6 167.7 523.6 168.1 523.6 168.5 523.6 168.9 523.6 169.3 523.6 169.7 523.6 170.1 523.6 170.5 523.6 170.9 523.6 171.3 523.6 171.7 523.6 172.1 523.6 172.5 523.6 172.9 523.6 173.3 523.6 173.7 523.6 174.1 523.6 174.5 523.6 174.9 523.6 175.3 523.6 175.7 523.6 176.1 523.6 176.5 523.6 176.9 523.6 177.3 523.6 177.7 523.6 178.1 523.6 178.5 523.6 178.9 523.6 179.3 523.6 179.7 523.6 180.1 523.6 180.5 523.6 180.9 523.6 181.3 523.6 181.7 523.6 182.1 523.6 182.5 523.6 182.9 523.6 183.3 523.6 183.7 523.6 184.1 523.6 184.5 523.6 184.9 523.6 185.3 523.6 185.7 523.6 186.1 523.6 186.5 523.6 186.9 523.6 187.3 523.6 187.7 523.6 188.1 523.6 188.5 523.6 188.9 523.6 189.3 523.6 189.7 523.6 190.1 523.6 190.5 523.6 190.9 523.6 191.3 523.6 191.7 523.6 192.1 523.6 192.5 523.6 192.9 523.6 193.3 523.6 193.7 523.6 194.1 523.6 194.5 523.6 194.9 523.6 195.3 523.6 195.7 523.6 196.1 523.6 196.5 523.6 196.9 523.6" fill="none" stroke="#6cbd48" stroke-width="1.3" stroke-linejoin="round"/>
<path d="M118.5 523.6 118.9 523.6 119.3 523.6 119.7 523.5 120.1 523.5 120.5 523.4 120.9 523.1 121.3 522.8 121.7 522.3 122.1 521.5 122.5 520.3 122.9 518.9 123.3 517.0 123.7 514.9 124.1 512.5 124.5 510.3 124.9 508.2 125.3 506.7 125.7 505.9 126.1 505.9 126.5 506.7 126.9 508.2 127.3 510.3 127.7 512.5 128.1 514.9 128.5 517.0 128.9 518.9 129.3 520.3 129.7 521.5 130.1 522.3 130.5 522.8 130.9 523.1 131.3 523.4 131.7 523.5 132.1 523.5 132.5 523.6 132.9 523.6 133.3 523.6 133.7 523.6 134.1 523.6 134.5 523.6 134.9 523.6 135.3 523.6 135.7 523.6 136.1 523.6 136.5 523.6 136.9 523.6 137.3 523.6 137.7 523.6 138.1 523.6 138.5 523.6 138.9 523.6 139.3 523.6 139.7 523.6 140.1 523.6 140.5 523.6 140.9 523.6 141.3 523.6 141.7 523.6 142.1 523.6 142.5 523.6 142.9 523.6 143.3 523.6 143.7 523.6 144.1 523.6 144.5 523.6 144.9 523.6 145.3 523.6 145.7 523.6 146.1 523.6 146.5 523.6 146.9 523.6 147.3 523.6 147.7 523.6 148.1 523.6 148.5 523.6 148.9 523.6 149.3 523.6 149.7 523.6 150.1 523.6 150.5 523.6 150.9 523.6 151.3 523.6 151.7 523.6 152.1 523.6 152.5 523.6 152.9 523.6 153.3 523.6 153.7 523.6 154.1 523.6 154.5 523.6 154.9 523.6 155.3 523.6 155.7 523.6 156.1 523.6 156.5 523.6 156.9 523.6 157.3 523.6 157.7 523.6 158.1 523.5 158.5 523.5 158.9 523.3 159.3 523.1 159.7 522.7 160.1 522.2 160.5 521.3 160.9 520.2 161.3 518.7 161.7 516.8 162.1 514.7 162.5 512.4 162.9 510.3 163.3 508.4 163.7 507.1 164.1 506.5 164.5 506.7 164.9 507.7 165.3 509.3 165.7 511.3 166.1 513.6 166.5 515.8 166.9 517.8 167.3 519.5 167.7 520.8 168.1 521.8 168.5 522.5 168.9 522.9 169.3 523.2 169.7 523.4 170.1 523.5 170.5 523.6 170.9 523.6 171.3 523.6 171.7 523.6 172.1 523.6 172.5 523.6 172.9 523.6 173.3 523.6 173.7 523.6 174.1 523.6 174.5 523.6 174.9 523.6 175.3 523.6 175.7 523.6 176.1 523.5 176.5 523.5 176.9 523.4 177.3 523.2 177.7 522.9 178.1 522.4 178.5 521.7 178.9 520.8 179.3 519.5 179.7 518.1 180.1 516.4 180.5 514.8 180.9 513.2 181.3 512.0 181.7 511.3 182.1 511.1 182.5 511.6 182.9 512.6 183.3 514.0 183.7 515.6 184.1 517.3 184.5 518.8 184.9 520.2 185.3 521.3 185.7 522.1 186.1 522.7 186.5 523.0 186.9 523.3 187.3 523.4 187.7 523.5 188.1 523.6 188.5 523.6 188.9 523.6 189.3 523.6 189.7 523.6 190.1 523.6 190.5 523.6 190.9 523.6 191.3 523.5 191.7 523.4 192.1 523.3 192.5 523.0 192.9 522.6 193.3 521.9 193.7 521.0 194.1 519.8 194.5 518.4 194.9 516.7 195.3 514.8 195.7 513.1 196.1 511.6 196.5 510.5 196.9 510.0" fill="none" stroke="#c0203e" stroke-width="1.3" stroke-linejoin="round"/>
<line x1="118.5" y1="523.6" x2="197" y2="523.6" stroke="#b02040" stroke-width="1.5"/>
<text x="127.3" y="488.4" font-size="6.6" fill="#8a3a4c" text-anchor="middle" stroke="#8a3a4c" stroke-width="0.22">T</text>
<text x="134.2" y="488.4" font-size="6.6" fill="#86a870" text-anchor="middle" stroke="#86a870" stroke-width="0.22">A</text>
<text x="142" y="488.4" font-size="6.6" fill="#606a80" text-anchor="middle" stroke="#606a80" stroke-width="0.22">C</text>
<text x="149.7" y="488.4" font-size="6.6" fill="#86a870" text-anchor="middle" stroke="#86a870" stroke-width="0.22">A</text>
<text x="166.5" y="488.4" font-size="6.6" fill="#8a3a4c" text-anchor="middle" stroke="#8a3a4c" stroke-width="0.22">T</text>
<text x="174.4" y="488.4" font-size="6.6" fill="#5c566c" text-anchor="middle" stroke="#5c566c" stroke-width="0.22">G</text>
<text x="182.7" y="488.4" font-size="6.6" fill="#8a3a4c" text-anchor="middle" stroke="#8a3a4c" stroke-width="0.22">T</text>
<text x="191.2" y="488.4" font-size="6.6" fill="#5c566c" text-anchor="middle" stroke="#5c566c" stroke-width="0.22">G</text>
<text x="157.7" y="484.7" font-size="6.6" fill="#606a80" text-anchor="middle" stroke="#606a80" stroke-width="0.2">C</text>
<text x="157.7" y="493.2" font-size="6.6" fill="#5c566c" text-anchor="middle" stroke="#5c566c" stroke-width="0.2">G</text>
<text x="194.7" y="482.4" font-size="6.2" fill="#5e5e6e">WT</text>
<text x="197.7" y="488.9" font-size="4.5" fill="#5e5e6e" text-anchor="middle">•</text>
<rect x="59.6" y="557.3" width="48.9" height="24" fill="#b9c4d9"/>
<path d="M29.6 581.3 30.0 581.3 30.4 581.3 30.8 581.3 31.2 581.3 31.6 581.3 32.0 581.3 32.4 581.3 32.8 581.3 33.2 581.3 33.6 581.3 34.0 581.3 34.4 581.3 34.8 581.3 35.2 581.3 35.6 581.3 36.0 581.3 36.4 581.3 36.8 581.3 37.2 581.3 37.6 581.3 38.0 581.3 38.4 581.3 38.8 581.3 39.2 581.3 39.6 581.3 40.0 581.3 40.4 581.3 40.8 581.3 41.2 581.3 41.6 581.3 42.0 581.3 42.4 581.3 42.8 581.3 43.2 581.3 43.6 581.3 44.0 581.3 44.4 581.3 44.8 581.3 45.2 581.3 45.6 581.3 46.0 581.3 46.4 581.3 46.8 581.3 47.2 581.3 47.6 581.3 48.0 581.3 48.4 581.3 48.8 581.3 49.2 581.3 49.6 581.3 50.0 581.3 50.4 581.3 50.8 581.3 51.2 581.3 51.6 581.3 52.0 581.3 52.4 581.3 52.8 581.3 53.2 581.3 53.6 581.3 54.0 581.3 54.4 581.3 54.8 581.3 55.2 581.3 55.6 581.3 56.0 581.3 56.4 581.3 56.8 581.3 57.2 581.3 57.6 581.3 58.0 581.3 58.4 581.3 58.8 581.3 59.2 581.3 59.6 581.3 60.0 581.3 60.4 581.3 60.8 581.3 61.2 581.3 61.6 581.3 62.0 581.3 62.4 581.3 62.8 581.3 63.2 581.3 63.6 581.3 64.0 581.3 64.4 581.3 64.8 581.3 65.2 581.3 65.6 581.3 66.0 581.3 66.4 581.3 66.8 581.3 67.2 581.3 67.6 581.3 68.0 581.3 68.4 581.3 68.8 581.3 69.2 581.3 69.6 581.3 70.0 581.3 70.4 581.3 70.8 581.3 71.2 581.3 71.6 581.3 72.0 581.3 72.4 581.3 72.8 581.3 73.2 581.3 73.6 581.3 74.0 581.3 74.4 581.3 74.8 581.3 75.2 581.3 75.6 581.3 76.0 581.3 76.4 581.3 76.8 581.3 77.2 581.3 77.6 581.3 78.0 581.3 78.4 581.3 78.8 581.3 79.2 581.3 79.6 581.3 80.0 581.3 80.4 581.3 80.8 581.2 81.2 581.2 81.6 581.1 82.0 580.9 82.4 580.6 82.8 580.1 83.2 579.3 83.6 578.2 84.0 576.7 84.4 574.7 84.8 572.4 85.2 569.7 85.6 566.9 86.0 564.2 86.4 562.0 86.8 560.4 87.2 559.6 87.6 559.9 88.0 561.1 88.4 563.0 88.8 565.5 89.2 568.3 89.6 571.1 90.0 573.6 90.4 575.8 90.8 577.5 91.2 578.8 91.6 579.7 92.0 580.4 92.4 580.8 92.8 581.0 93.2 581.1 93.6 581.2 94.0 581.3 94.4 581.3 94.8 581.3 95.2 581.3 95.6 581.3 96.0 581.3 96.4 581.3 96.8 581.3 97.2 581.3 97.6 581.3 98.0 581.3 98.4 581.3 98.8 581.3 99.2 581.3 99.6 581.3 100.0 581.3 100.4 581.3 100.8 581.3 101.2 581.3 101.6 581.3 102.0 581.3 102.4 581.3 102.8 581.3 103.2 581.3 103.6 581.3 104.0 581.3 104.4 581.3 104.8 581.3 105.2 581.3 105.6 581.3 106.0 581.3 106.4 581.3 106.8 581.3 107.2 581.3 107.6 581.3 108.0 581.3 108.4 581.3" fill="none" stroke="#3c2866" stroke-width="1.3" stroke-linejoin="round"/>
<path d="M29.6 578.6 30.0 577.6 30.4 576.5 30.8 575.3 31.2 574.2 31.6 573.3 32.0 572.8 32.4 572.7 32.8 573.0 33.2 573.7 33.6 574.7 34.0 575.9 34.4 577.0 34.8 578.1 35.2 579.1 35.6 579.8 36.0 580.3 36.4 580.7 36.8 581.0 37.2 581.1 37.6 581.2 38.0 581.3 38.4 581.3 38.8 581.3 39.2 581.3 39.6 581.3 40.0 581.3 40.4 581.3 40.8 581.3 41.2 581.3 41.6 581.3 42.0 581.3 42.4 581.3 42.8 581.3 43.2 581.3 43.6 581.3 44.0 581.3 44.4 581.3 44.8 581.3 45.2 581.3 45.6 581.3 46.0 581.3 46.4 581.3 46.8 581.3 47.2 581.3 47.6 581.3 48.0 581.3 48.4 581.3 48.8 581.3 49.2 581.2 49.6 581.2 50.0 581.1 50.4 580.9 50.8 580.5 51.2 580.0 51.6 579.3 52.0 578.2 52.4 576.8 52.8 575.0 53.2 572.9 53.6 570.7 54.0 568.5 54.4 566.5 54.8 565.1 55.2 564.3 55.6 564.3 56.0 565.1 56.4 566.5 56.8 568.5 57.2 570.7 57.6 572.9 58.0 575.0 58.4 576.8 58.8 578.2 59.2 579.3 59.6 580.0 60.0 580.5 60.4 580.9 60.8 581.1 61.2 581.2 61.6 581.2 62.0 581.3 62.4 581.3 62.8 581.3 63.2 581.3 63.6 581.3 64.0 581.3 64.4 581.3 64.8 581.3 65.2 581.2 65.6 581.1 66.0 580.9 66.4 580.7 66.8 580.2 67.2 579.5 67.6 578.6 68.0 577.3 68.4 575.6 68.8 573.7 69.2 571.5 69.6 569.3 70.0 567.3 70.4 565.8 70.8 564.8 71.2 564.6 71.6 565.2 72.0 566.5 72.4 568.3 72.8 570.4 73.2 572.6 73.6 574.7 74.0 576.5 74.4 578.0 74.8 579.1 75.2 579.9 75.6 580.5 76.0 580.8 76.4 581.0 76.8 581.2 77.2 581.2 77.6 581.3 78.0 581.3 78.4 581.3 78.8 581.3 79.2 581.3 79.6 581.3 80.0 581.3 80.4 581.3 80.8 581.3 81.2 581.3 81.6 581.3 82.0 581.3 82.4 581.3 82.8 581.3 83.2 581.3 83.6 581.3 84.0 581.3 84.4 581.3 84.8 581.3 85.2 581.3 85.6 581.3 86.0 581.3 86.4 581.3 86.8 581.3 87.2 581.3 87.6 581.3 88.0 581.3 88.4 581.3 88.8 581.2 89.2 581.1 89.6 581.0 90.0 580.7 90.4 580.3 90.8 579.6 91.2 578.7 91.6 577.4 92.0 575.8 92.4 573.9 92.8 571.8 93.2 569.7 93.6 567.8 94.0 566.2 94.4 565.3 94.8 565.1 95.2 565.7 95.6 566.9 96.0 568.7 96.4 570.8 96.8 572.9 97.2 574.9 97.6 576.7 98.0 578.1 98.4 579.2 98.8 580.0 99.2 580.5 99.6 580.8 100.0 581.1 100.4 581.2 100.8 581.2 101.2 581.3 101.6 581.3 102.0 581.3 102.4 581.3 102.8 581.3 103.2 581.3 103.6 581.3 104.0 581.3 104.4 581.3 104.8 581.3 105.2 581.3 105.6 581.3 106.0 581.3 106.4 581.3 106.8 581.3 107.2 581.3 107.6 581.3 108.0 581.3 108.4 581.3" fill="none" stroke="#2f5597" stroke-width="1.3" stroke-linejoin="round"/>
<path d="M29.6 581.3 30.0 581.3 30.4 581.3 30.8 581.3 31.2 581.3 31.6 581.3 32.0 581.3 32.4 581.3 32.8 581.2 33.2 581.1 33.6 580.9 34.0 580.6 34.4 580.2 34.8 579.4 35.2 578.4 35.6 577.0 36.0 575.2 36.4 573.1 36.8 570.7 37.2 568.2 37.6 565.9 38.0 564.0 38.4 562.7 38.8 562.3 39.2 562.7 39.6 564.0 40.0 565.9 40.4 568.2 40.8 570.6 41.2 573.0 41.6 575.1 42.0 576.7 42.4 577.9 42.8 578.5 43.2 578.7 43.6 578.2 44.0 577.3 44.4 575.9 44.8 574.1 45.2 571.9 45.6 569.6 46.0 567.4 46.4 565.5 46.8 564.1 47.2 563.5 47.6 563.7 48.0 564.7 48.4 566.4 48.8 568.5 49.2 570.8 49.6 573.1 50.0 575.2 50.4 577.0 50.8 578.4 51.2 579.4 51.6 580.1 52.0 580.6 52.4 580.9 52.8 581.1 53.2 581.2 53.6 581.2 54.0 581.3 54.4 581.3 54.8 581.3 55.2 581.3 55.6 581.3 56.0 581.3 56.4 581.3 56.8 581.2 57.2 581.2 57.6 581.1 58.0 580.9 58.4 580.5 58.8 580.0 59.2 579.3 59.6 578.3 60.0 576.9 60.4 575.3 60.8 573.5 61.2 571.6 61.6 569.8 62.0 568.3 62.4 567.3 62.8 567.0 63.2 567.3 63.6 568.3 64.0 569.8 64.4 571.6 64.8 573.5 65.2 575.3 65.6 576.9 66.0 578.3 66.4 579.3 66.8 580.0 67.2 580.5 67.6 580.9 68.0 581.1 68.4 581.2 68.8 581.2 69.2 581.3 69.6 581.3 70.0 581.3 70.4 581.3 70.8 581.3 71.2 581.3 71.6 581.3 72.0 581.3 72.4 581.3 72.8 581.3 73.2 581.2 73.6 581.1 74.0 580.9 74.4 580.6 74.8 580.2 75.2 579.5 75.6 578.6 76.0 577.3 76.4 575.7 76.8 573.8 77.2 571.8 77.6 569.7 78.0 568.0 78.4 566.6 78.8 565.9 79.2 565.9 79.6 566.6 80.0 568.0 80.4 569.7 80.8 571.8 81.2 573.8 81.6 575.7 82.0 577.3 82.4 578.6 82.8 579.5 83.2 580.2 83.6 580.6 84.0 580.9 84.4 581.1 84.8 581.2 85.2 581.3 85.6 581.3 86.0 581.3 86.4 581.3 86.8 581.3 87.2 581.3 87.6 581.3 88.0 581.3 88.4 581.3 88.8 581.3 89.2 581.3 89.6 581.3 90.0 581.3 90.4 581.3 90.8 581.3 91.2 581.3 91.6 581.3 92.0 581.3 92.4 581.3 92.8 581.3 93.2 581.3 93.6 581.3 94.0 581.3 94.4 581.3 94.8 581.3 95.2 581.3 95.6 581.3 96.0 581.3 96.4 581.3 96.8 581.3 97.2 581.3 97.6 581.2 98.0 581.1 98.4 581.0 98.8 580.7 99.2 580.3 99.6 579.6 100.0 578.7 100.4 577.4 100.8 575.8 101.2 573.9 101.6 571.8 102.0 569.7 102.4 567.8 102.8 566.2 103.2 565.3 103.6 565.1 104.0 565.7 104.4 566.9 104.8 568.7 105.2 570.8 105.6 572.9 106.0 574.9 106.4 576.7 106.8 578.1 107.2 579.2 107.6 580.0 108.0 580.5 108.4 580.8" fill="none" stroke="#c0203e" stroke-width="1.3" stroke-linejoin="round"/>
<line x1="29.6" y1="581.3" x2="108.5" y2="581.3" stroke="#b02040" stroke-width="1.5"/>
<text x="37" y="549.5" font-size="6.6" fill="#8a3a4c" text-anchor="middle" stroke="#8a3a4c" stroke-width="0.22">T</text>
<text x="45.7" y="549.5" font-size="6.6" fill="#8a3a4c" text-anchor="middle" stroke="#8a3a4c" stroke-width="0.22">T</text>
<text x="53.6" y="549.5" font-size="6.6" fill="#606a80" text-anchor="middle" stroke="#606a80" stroke-width="0.22">C</text>
<text x="61.2" y="549.5" font-size="6.6" fill="#8a3a4c" text-anchor="middle" stroke="#8a3a4c" stroke-width="0.22">T</text>
<text x="70.4" y="549.5" font-size="6.6" fill="#606a80" text-anchor="middle" stroke="#606a80" stroke-width="0.22">C</text>
<text x="77.4" y="549.5" font-size="6.6" fill="#8a3a4c" text-anchor="middle" stroke="#8a3a4c" stroke-width="0.22">T</text>
<text x="85.9" y="549.5" font-size="6.6" fill="#5c566c" text-anchor="middle" stroke="#5c566c" stroke-width="0.22">G</text>
<text x="94.2" y="549.5" font-size="6.6" fill="#606a80" text-anchor="middle" stroke="#606a80" stroke-width="0.22">C</text>
<text x="102.8" y="549.5" font-size="6.6" fill="#8a3a4c" text-anchor="middle" stroke="#8a3a4c" stroke-width="0.22">T</text>
<text x="110.9" y="549" font-size="4.5" fill="#8a8a96" text-anchor="middle">•</text>
<path d="M120.3 581.3 120.7 581.3 121.1 581.3 121.5 581.3 121.9 581.3 122.3 581.3 122.7 581.3 123.1 581.3 123.5 581.3 123.9 581.3 124.3 581.3 124.7 581.3 125.1 581.3 125.5 581.3 125.9 581.3 126.3 581.3 126.7 581.3 127.1 581.3 127.5 581.3 127.9 581.3 128.3 581.3 128.7 581.3 129.1 581.3 129.5 581.3 129.9 581.3 130.3 581.3 130.7 581.3 131.1 581.3 131.5 581.3 131.9 581.3 132.3 581.3 132.7 581.3 133.1 581.3 133.5 581.3 133.9 581.3 134.3 581.3 134.7 581.3 135.1 581.3 135.5 581.3 135.9 581.3 136.3 581.3 136.7 581.3 137.1 581.3 137.5 581.3 137.9 581.3 138.3 581.3 138.7 581.3 139.1 581.3 139.5 581.3 139.9 581.3 140.3 581.3 140.7 581.3 141.1 581.3 141.5 581.3 141.9 581.3 142.3 581.3 142.7 581.3 143.1 581.3 143.5 581.3 143.9 581.3 144.3 581.3 144.7 581.3 145.1 581.3 145.5 581.3 145.9 581.3 146.3 581.3 146.7 581.3 147.1 581.3 147.5 581.3 147.9 581.3 148.3 581.3 148.7 581.3 149.1 581.3 149.5 581.3 149.9 581.3 150.3 581.3 150.7 581.3 151.1 581.3 151.5 581.3 151.9 581.3 152.3 581.3 152.7 581.3 153.1 581.3 153.5 581.3 153.9 581.3 154.3 581.3 154.7 581.3 155.1 581.3 155.5 581.3 155.9 581.3 156.3 581.3 156.7 581.3 157.1 581.3 157.5 581.3 157.9 581.3 158.3 581.3 158.7 581.3 159.1 581.3 159.5 581.3 159.9 581.3 160.3 581.3 160.7 581.3 161.1 581.3 161.5 581.3 161.9 581.3 162.3 581.3 162.7 581.3 163.1 581.3 163.5 581.3 163.9 581.3 164.3 581.3 164.7 581.3 165.1 581.3 165.5 581.3 165.9 581.3 166.3 581.3 166.7 581.3 167.1 581.3 167.5 581.3 167.9 581.3 168.3 581.3 168.7 581.3 169.1 581.3 169.5 581.3 169.9 581.3 170.3 581.3 170.7 581.3 171.1 581.3 171.5 581.3 171.9 581.3 172.3 581.3 172.7 581.3 173.1 581.3 173.5 581.3 173.9 581.3 174.3 581.3 174.7 581.3 175.1 581.3 175.5 581.3 175.9 581.3 176.3 581.3 176.7 581.2 177.1 581.2 177.5 581.1 177.9 580.8 178.3 580.5 178.7 579.9 179.1 579.1 179.5 577.9 179.9 576.3 180.3 574.3 180.7 571.9 181.1 569.2 181.5 566.5 181.9 563.9 182.3 561.9 182.7 560.5 183.1 560.0 183.5 560.5 183.9 561.9 184.3 563.9 184.7 566.5 185.1 569.2 185.5 571.9 185.9 574.3 186.3 576.3 186.7 577.9 187.1 579.1 187.5 579.9 187.9 580.5 188.3 580.8 188.7 581.1 189.1 581.2 189.5 581.2 189.9 581.3 190.3 581.3 190.7 581.3 191.1 581.3 191.5 581.3 191.9 581.3 192.3 581.3 192.7 581.3 193.1 581.3 193.5 581.3 193.9 581.3 194.3 581.3 194.7 581.3 195.1 581.3 195.5 581.3 195.9 581.3 196.3 581.3 196.7 581.3 197.1 581.3 197.5 581.3 197.9 581.3" fill="none" stroke="#3c2866" stroke-width="1.3" stroke-linejoin="round"/>
<path d="M120.3 575.0 120.7 575.0 121.1 575.4 121.5 575.9 121.9 576.7 122.3 577.6 122.7 578.4 123.1 579.2 123.5 579.8 123.9 580.3 124.3 580.7 124.7 580.9 125.1 581.1 125.5 581.2 125.9 581.2 126.3 581.3 126.7 581.3 127.1 581.3 127.5 581.3 127.9 581.3 128.3 581.3 128.7 581.3 129.1 581.3 129.5 581.3 129.9 581.3 130.3 581.3 130.7 581.3 131.1 581.3 131.5 581.3 131.9 581.3 132.3 581.3 132.7 581.3 133.1 581.3 133.5 581.3 133.9 581.3 134.3 581.3 134.7 581.3 135.1 581.3 135.5 581.3 135.9 581.3 136.3 581.3 136.7 581.2 137.1 581.1 137.5 580.9 137.9 580.6 138.3 580.2 138.7 579.4 139.1 578.4 139.5 577.0 139.9 575.2 140.3 573.1 140.7 570.7 141.1 568.2 141.5 565.9 141.9 564.0 142.3 562.7 142.7 562.3 143.1 562.7 143.5 564.0 143.9 565.9 144.3 568.2 144.7 570.7 145.1 573.0 145.5 575.1 145.9 576.8 146.3 578.1 146.7 578.9 147.1 579.2 147.5 579.1 147.9 578.5 148.3 577.6 148.7 576.2 149.1 574.6 149.5 572.8 149.9 571.0 150.3 569.4 150.7 568.1 151.1 567.5 151.5 567.5 151.9 568.1 152.3 569.4 152.7 571.0 153.1 572.8 153.5 574.6 153.9 576.3 154.3 577.8 154.7 578.9 155.1 579.8 155.5 580.3 155.9 580.7 156.3 581.0 156.7 581.1 157.1 581.2 157.5 581.3 157.9 581.3 158.3 581.3 158.7 581.3 159.1 581.3 159.5 581.3 159.9 581.3 160.3 581.3 160.7 581.3 161.1 581.2 161.5 581.1 161.9 580.9 162.3 580.6 162.7 580.2 163.1 579.5 163.5 578.5 163.9 577.2 164.3 575.5 164.7 573.5 165.1 571.3 165.5 569.0 165.9 567.0 166.3 565.4 166.7 564.4 167.1 564.2 167.5 564.8 167.9 566.1 168.3 568.0 168.7 570.1 169.1 572.4 169.5 574.5 169.9 576.4 170.3 577.9 170.7 579.0 171.1 579.9 171.5 580.4 171.9 580.8 172.3 581.0 172.7 581.2 173.1 581.2 173.5 581.3 173.9 581.3 174.3 581.3 174.7 581.3 175.1 581.3 175.5 581.3 175.9 581.3 176.3 581.3 176.7 581.3 177.1 581.3 177.5 581.3 177.9 581.3 178.3 581.3 178.7 581.3 179.1 581.3 179.5 581.3 179.9 581.3 180.3 581.3 180.7 581.3 181.1 581.3 181.5 581.3 181.9 581.3 182.3 581.3 182.7 581.3 183.1 581.3 183.5 581.3 183.9 581.3 184.3 581.3 184.7 581.3 185.1 581.3 185.5 581.2 185.9 581.1 186.3 581.0 186.7 580.7 187.1 580.3 187.5 579.7 187.9 578.8 188.3 577.7 188.7 576.2 189.1 574.6 189.5 572.8 189.9 571.1 190.3 569.6 190.7 568.6 191.1 568.1 191.5 568.3 191.9 569.1 192.3 570.3 192.7 571.9 193.1 573.7 193.5 575.4 193.9 577.0 194.3 578.3 194.7 579.3 195.1 580.0 195.5 580.5 195.9 580.9 196.3 581.1 196.7 581.2 197.1 581.2 197.5 581.3 197.9 581.3" fill="none" stroke="#2f5597" stroke-width="1.3" stroke-linejoin="round"/>
<path d="M120.3 581.3 120.7 581.3 121.1 581.2 121.5 581.1 121.9 581.0 122.3 580.7 122.7 580.2 123.1 579.5 123.5 578.5 123.9 577.1 124.3 575.2 124.7 573.0 125.1 570.4 125.5 567.6 125.9 564.9 126.3 562.5 126.7 560.7 127.1 559.7 127.5 559.7 127.9 560.7 128.3 562.5 128.7 564.8 129.1 567.5 129.5 570.2 129.9 572.6 130.3 574.6 130.7 576.1 131.1 576.8 131.5 576.9 131.9 576.3 132.3 575.0 132.7 573.3 133.1 571.2 133.5 569.0 133.9 566.8 134.3 565.1 134.7 563.9 135.1 563.5 135.5 563.9 135.9 565.1 136.3 566.9 136.7 569.1 137.1 571.4 137.5 573.7 137.9 575.7 138.3 577.3 138.7 578.6 139.1 579.6 139.5 580.3 139.9 580.7 140.3 581.0 140.7 581.1 141.1 581.2 141.5 581.3 141.9 581.3 142.3 581.3 142.7 581.3 143.1 581.3 143.5 581.3 143.9 581.3 144.3 581.3 144.7 581.3 145.1 581.3 145.5 581.3 145.9 581.3 146.3 581.3 146.7 581.3 147.1 581.3 147.5 581.3 147.9 581.3 148.3 581.3 148.7 581.3 149.1 581.3 149.5 581.3 149.9 581.3 150.3 581.3 150.7 581.3 151.1 581.3 151.5 581.3 151.9 581.3 152.3 581.3 152.7 581.3 153.1 581.3 153.5 581.2 153.9 581.2 154.3 581.1 154.7 580.8 155.1 580.5 155.5 580.0 155.9 579.2 156.3 578.1 156.7 576.7 157.1 574.9 157.5 572.9 157.9 570.8 158.3 568.7 158.7 566.9 159.1 565.7 159.5 565.1 159.9 565.3 160.3 566.2 160.7 567.8 161.1 569.7 161.5 571.8 161.9 573.9 162.3 575.8 162.7 577.4 163.1 578.7 163.5 579.6 163.9 580.3 164.3 580.7 164.7 581.0 165.1 581.1 165.5 581.2 165.9 581.3 166.3 581.3 166.7 581.3 167.1 581.3 167.5 581.3 167.9 581.3 168.3 581.3 168.7 581.3 169.1 581.2 169.5 581.1 169.9 581.0 170.3 580.8 170.7 580.4 171.1 579.8 171.5 578.9 171.9 577.8 172.3 576.3 172.7 574.4 173.1 572.4 173.5 570.2 173.9 568.2 174.3 566.6 174.7 565.5 175.1 565.1 175.5 565.5 175.9 566.6 176.3 568.2 176.7 570.2 177.1 572.4 177.5 574.4 177.9 576.3 178.3 577.8 178.7 578.9 179.1 579.8 179.5 580.4 179.9 580.8 180.3 581.0 180.7 581.1 181.1 581.2 181.5 581.3 181.9 581.3 182.3 581.3 182.7 581.3 183.1 581.3 183.5 581.3 183.9 581.3 184.3 581.3 184.7 581.3 185.1 581.3 185.5 581.3 185.9 581.3 186.3 581.3 186.7 581.3 187.1 581.3 187.5 581.3 187.9 581.3 188.3 581.3 188.7 581.3 189.1 581.3 189.5 581.3 189.9 581.3 190.3 581.3 190.7 581.3 191.1 581.3 191.5 581.3 191.9 581.2 192.3 581.1 192.7 581.0 193.1 580.7 193.5 580.4 193.9 579.8 194.3 579.0 194.7 578.0 195.1 576.7 195.5 575.2 195.9 573.7 196.3 572.3 196.7 571.1 197.1 570.3 197.5 570.0 197.9 570.3" fill="none" stroke="#c0203e" stroke-width="1.3" stroke-linejoin="round"/>
<line x1="120.3" y1="581.3" x2="198.2" y2="581.3" stroke="#b02040" stroke-width="1.5"/>
<text x="126.6" y="549.5" font-size="6.6" fill="#8a3a4c" text-anchor="middle" stroke="#8a3a4c" stroke-width="0.22">T</text>
<text x="134.6" y="549.5" font-size="6.6" fill="#8a3a4c" text-anchor="middle" stroke="#8a3a4c" stroke-width="0.22">T</text>
<text x="142.7" y="549.5" font-size="6.6" fill="#606a80" text-anchor="middle" stroke="#606a80" stroke-width="0.22">C</text>
<text x="150.8" y="549.5" font-size="6.6" fill="#606a80" text-anchor="middle" stroke="#606a80" stroke-width="0.22">C</text>
<text x="159.6" y="549.5" font-size="6.6" fill="#8a3a4c" text-anchor="middle" stroke="#8a3a4c" stroke-width="0.22">T</text>
<text x="167.4" y="549.5" font-size="6.6" fill="#606a80" text-anchor="middle" stroke="#606a80" stroke-width="0.22">C</text>
<text x="175.8" y="549.5" font-size="6.6" fill="#8a3a4c" text-anchor="middle" stroke="#8a3a4c" stroke-width="0.22">T</text>
<text x="183.6" y="549.5" font-size="6.6" fill="#5c566c" text-anchor="middle" stroke="#5c566c" stroke-width="0.22">G</text>
<text x="191.9" y="549.5" font-size="6.6" fill="#606a80" text-anchor="middle" stroke="#606a80" stroke-width="0.22">C</text>
<text x="195.8" y="549.5" font-size="5.3" fill="#8a8a96">WT</text>
<rect x="55.4" y="616.6" width="54.3" height="22.4" fill="#d9e1ef"/>
<path d="M29.6 639.0 30.0 639.0 30.4 639.0 30.8 639.0 31.2 639.0 31.6 639.0 32.0 639.0 32.4 639.0 32.8 639.0 33.2 639.0 33.6 639.0 34.0 639.0 34.4 639.0 34.8 639.0 35.2 639.0 35.6 639.0 36.0 639.0 36.4 639.0 36.8 639.0 37.2 639.0 37.6 639.0 38.0 639.0 38.4 639.0 38.8 639.0 39.2 639.0 39.6 639.0 40.0 639.0 40.4 639.0 40.8 639.0 41.2 639.0 41.6 639.0 42.0 639.0 42.4 639.0 42.8 639.0 43.2 639.0 43.6 639.0 44.0 639.0 44.4 639.0 44.8 639.0 45.2 639.0 45.6 639.0 46.0 639.0 46.4 639.0 46.8 639.0 47.2 639.0 47.6 639.0 48.0 639.0 48.4 639.0 48.8 639.0 49.2 639.0 49.6 639.0 50.0 639.0 50.4 639.0 50.8 639.0 51.2 639.0 51.6 639.0 52.0 639.0 52.4 639.0 52.8 639.0 53.2 639.0 53.6 639.0 54.0 638.9 54.4 638.9 54.8 638.7 55.2 638.5 55.6 638.2 56.0 637.7 56.4 637.0 56.8 636.2 57.2 635.1 57.6 633.9 58.0 632.7 58.4 631.6 58.8 630.7 59.2 630.1 59.6 630.0 60.0 630.4 60.4 631.1 60.8 632.1 61.2 633.3 61.6 634.5 62.0 635.7 62.4 636.6 62.8 637.4 63.2 637.9 63.6 638.3 64.0 638.4 64.4 638.4 64.8 638.2 65.2 637.8 65.6 637.2 66.0 636.4 66.4 635.4 66.8 634.2 67.2 633.0 67.6 631.8 68.0 630.9 68.4 630.2 68.8 630.0 69.2 630.2 69.6 630.9 70.0 631.8 70.4 633.0 70.8 634.2 71.2 635.4 71.6 636.4 72.0 637.2 72.4 637.9 72.8 638.3 73.2 638.6 73.6 638.8 74.0 638.9 74.4 638.9 74.8 639.0 75.2 639.0 75.6 639.0 76.0 639.0 76.4 639.0 76.8 639.0 77.2 639.0 77.6 639.0 78.0 639.0 78.4 639.0 78.8 639.0 79.2 639.0 79.6 639.0 80.0 638.9 80.4 638.8 80.8 638.7 81.2 638.4 81.6 638.0 82.0 637.4 82.4 636.6 82.8 635.5 83.2 634.2 83.6 632.8 84.0 631.3 84.4 630.0 84.8 628.9 85.2 628.3 85.6 628.1 86.0 628.5 86.4 629.4 86.8 630.6 87.2 632.1 87.6 633.5 88.0 634.9 88.4 636.1 88.8 637.0 89.2 637.7 89.6 638.2 90.0 638.5 90.4 638.7 90.8 638.9 91.2 638.9 91.6 639.0 92.0 639.0 92.4 639.0 92.8 639.0 93.2 639.0 93.6 639.0 94.0 639.0 94.4 639.0 94.8 639.0 95.2 639.0 95.6 639.0 96.0 639.0 96.4 639.0 96.8 639.0 97.2 639.0 97.6 639.0 98.0 639.0 98.4 639.0 98.8 639.0 99.2 639.0 99.6 639.0 100.0 639.0 100.4 639.0 100.8 639.0 101.2 639.0 101.6 639.0 102.0 639.0 102.4 639.0 102.8 639.0 103.2 639.0 103.6 639.0 104.0 639.0 104.4 639.0 104.8 639.0 105.2 639.0 105.6 639.0 106.0 639.0 106.4 639.0 106.8 639.0 107.2 639.0 107.6 639.0 108.0 639.0 108.4 639.0 108.8 639.0 109.2 639.0 109.6 639.0" fill="none" stroke="#3c2866" stroke-width="1.3" stroke-linejoin="round"/>
<path d="M29.6 638.9 30.0 638.8 30.4 638.7 30.8 638.4 31.2 638.0 31.6 637.4 32.0 636.5 32.4 635.2 32.8 633.5 33.2 631.4 33.6 629.0 34.0 626.4 34.4 623.8 34.8 621.6 35.2 619.9 35.6 619.0 36.0 619.0 36.4 619.9 36.8 621.6 37.2 623.8 37.6 626.4 38.0 629.0 38.4 631.4 38.8 633.5 39.2 635.2 39.6 636.5 40.0 637.4 40.4 638.0 40.8 638.4 41.2 638.7 41.6 638.8 42.0 638.9 42.4 639.0 42.8 639.0 43.2 639.0 43.6 639.0 44.0 639.0 44.4 639.0 44.8 639.0 45.2 639.0 45.6 639.0 46.0 639.0 46.4 639.0 46.8 639.0 47.2 639.0 47.6 639.0 48.0 639.0 48.4 639.0 48.8 639.0 49.2 639.0 49.6 639.0 50.0 639.0 50.4 639.0 50.8 639.0 51.2 639.0 51.6 639.0 52.0 639.0 52.4 639.0 52.8 639.0 53.2 639.0 53.6 639.0 54.0 639.0 54.4 639.0 54.8 639.0 55.2 639.0 55.6 639.0 56.0 639.0 56.4 639.0 56.8 639.0 57.2 639.0 57.6 639.0 58.0 639.0 58.4 639.0 58.8 639.0 59.2 639.0 59.6 639.0 60.0 639.0 60.4 639.0 60.8 639.0 61.2 639.0 61.6 639.0 62.0 639.0 62.4 639.0 62.8 639.0 63.2 639.0 63.6 639.0 64.0 639.0 64.4 639.0 64.8 639.0 65.2 639.0 65.6 639.0 66.0 639.0 66.4 639.0 66.8 639.0 67.2 639.0 67.6 639.0 68.0 639.0 68.4 639.0 68.8 639.0 69.2 639.0 69.6 639.0 70.0 639.0 70.4 639.0 70.8 639.0 71.2 639.0 71.6 639.0 72.0 639.0 72.4 639.0 72.8 639.0 73.2 639.0 73.6 639.0 74.0 639.0 74.4 639.0 74.8 639.0 75.2 639.0 75.6 639.0 76.0 639.0 76.4 639.0 76.8 639.0 77.2 639.0 77.6 639.0 78.0 639.0 78.4 639.0 78.8 639.0 79.2 639.0 79.6 639.0 80.0 639.0 80.4 639.0 80.8 639.0 81.2 639.0 81.6 639.0 82.0 639.0 82.4 639.0 82.8 639.0 83.2 639.0 83.6 639.0 84.0 639.0 84.4 639.0 84.8 639.0 85.2 639.0 85.6 639.0 86.0 639.0 86.4 639.0 86.8 639.0 87.2 639.0 87.6 639.0 88.0 639.0 88.4 639.0 88.8 639.0 89.2 639.0 89.6 639.0 90.0 639.0 90.4 639.0 90.8 639.0 91.2 639.0 91.6 639.0 92.0 639.0 92.4 639.0 92.8 639.0 93.2 639.0 93.6 639.0 94.0 639.0 94.4 639.0 94.8 639.0 95.2 639.0 95.6 639.0 96.0 639.0 96.4 639.0 96.8 639.0 97.2 639.0 97.6 639.0 98.0 639.0 98.4 639.0 98.8 639.0 99.2 639.0 99.6 639.0 100.0 639.0 100.4 639.0 100.8 639.0 101.2 639.0 101.6 639.0 102.0 639.0 102.4 639.0 102.8 639.0 103.2 639.0 103.6 639.0 104.0 639.0 104.4 639.0 104.8 639.0 105.2 639.0 105.6 639.0 106.0 639.0 106.4 639.0 106.8 639.0 107.2 639.0 107.6 639.0 108.0 639.0 108.4 639.0 108.8 639.0 109.2 639.0 109.6 639.0" fill="none" stroke="#2f5597" stroke-width="1.3" stroke-linejoin="round"/>
<path d="M29.6 628.4 30.0 628.1 30.4 628.4 30.8 629.1 31.2 630.3 31.6 631.7 32.0 633.2 32.4 634.6 32.8 635.8 33.2 636.8 33.6 637.6 34.0 638.1 34.4 638.5 34.8 638.7 35.2 638.8 35.6 638.9 36.0 638.9 36.4 638.9 36.8 638.9 37.2 638.8 37.6 638.7 38.0 638.4 38.4 638.0 38.8 637.3 39.2 636.4 39.6 635.1 40.0 633.5 40.4 631.6 40.8 629.5 41.2 627.4 41.6 625.5 42.0 623.9 42.4 623.0 42.8 622.8 43.2 623.4 43.6 624.6 44.0 626.4 44.4 628.4 44.8 630.5 45.2 632.5 45.6 634.1 46.0 635.3 46.4 635.9 46.8 636.1 47.2 635.8 47.6 634.9 48.0 633.5 48.4 631.8 48.8 629.7 49.2 627.5 49.6 625.5 50.0 623.8 50.4 622.7 50.8 622.3 51.2 622.7 51.6 623.8 52.0 625.5 52.4 627.6 52.8 629.8 53.2 631.9 53.6 633.8 54.0 635.3 54.4 636.6 54.8 637.4 55.2 638.1 55.6 638.5 56.0 638.7 56.4 638.8 56.8 638.9 57.2 639.0 57.6 639.0 58.0 639.0 58.4 639.0 58.8 639.0 59.2 639.0 59.6 639.0 60.0 639.0 60.4 639.0 60.8 639.0 61.2 639.0 61.6 639.0 62.0 638.9 62.4 638.9 62.8 638.8 63.2 638.6 63.6 638.3 64.0 637.9 64.4 637.2 64.8 636.2 65.2 635.0 65.6 633.4 66.0 631.6 66.4 629.7 66.8 627.9 67.2 626.3 67.6 625.1 68.0 624.6 68.4 624.8 68.8 625.6 69.2 627.0 69.6 628.8 70.0 630.7 70.4 632.5 70.8 634.2 71.2 635.5 71.6 636.5 72.0 637.2 72.4 637.5 72.8 637.5 73.2 637.1 73.6 636.5 74.0 635.6 74.4 634.5 74.8 633.3 75.2 632.1 75.6 631.1 76.0 630.3 76.4 630.0 76.8 630.1 77.2 630.7 77.6 631.6 78.0 632.7 78.4 633.9 78.8 635.1 79.2 636.2 79.6 637.0 80.0 637.7 80.4 638.2 80.8 638.5 81.2 638.7 81.6 638.9 82.0 638.9 82.4 639.0 82.8 639.0 83.2 639.0 83.6 639.0 84.0 639.0 84.4 639.0 84.8 639.0 85.2 639.0 85.6 639.0 86.0 639.0 86.4 639.0 86.8 639.0 87.2 638.9 87.6 638.8 88.0 638.7 88.4 638.5 88.8 638.1 89.2 637.4 89.6 636.5 90.0 635.2 90.4 633.5 90.8 631.3 91.2 628.8 91.6 626.0 92.0 623.2 92.4 620.7 92.8 618.8 93.2 617.6 93.6 617.3 94.0 618.1 94.4 619.7 94.8 621.9 95.2 624.6 95.6 627.4 96.0 630.0 96.4 632.3 96.8 634.1 97.2 635.3 97.6 636.1 98.0 636.3 98.4 636.1 98.8 635.4 99.2 634.4 99.6 633.2 100.0 631.9 100.4 630.7 100.8 629.7 101.2 629.1 101.6 629.0 102.0 629.4 102.4 630.2 102.8 631.3 103.2 632.7 103.6 634.0 104.0 635.3 104.4 636.3 104.8 637.2 105.2 637.8 105.6 638.3 106.0 638.6 106.4 638.8 106.8 638.9 107.2 638.9 107.6 639.0 108.0 639.0 108.4 639.0 108.8 639.0 109.2 639.0 109.6 639.0" fill="none" stroke="#6cbd48" stroke-width="1.3" stroke-linejoin="round"/>
<path d="M29.6 639.0 30.0 639.0 30.4 639.0 30.8 639.0 31.2 639.0 31.6 639.0 32.0 639.0 32.4 639.0 32.8 639.0 33.2 639.0 33.6 639.0 34.0 639.0 34.4 639.0 34.8 639.0 35.2 639.0 35.6 639.0 36.0 639.0 36.4 639.0 36.8 639.0 37.2 639.0 37.6 639.0 38.0 639.0 38.4 639.0 38.8 639.0 39.2 639.0 39.6 639.0 40.0 639.0 40.4 639.0 40.8 639.0 41.2 639.0 41.6 639.0 42.0 639.0 42.4 639.0 42.8 639.0 43.2 639.0 43.6 639.0 44.0 639.0 44.4 639.0 44.8 639.0 45.2 639.0 45.6 639.0 46.0 639.0 46.4 639.0 46.8 639.0 47.2 639.0 47.6 639.0 48.0 639.0 48.4 639.0 48.8 639.0 49.2 639.0 49.6 639.0 50.0 639.0 50.4 639.0 50.8 639.0 51.2 639.0 51.6 639.0 52.0 639.0 52.4 639.0 52.8 639.0 53.2 638.9 53.6 638.8 54.0 638.7 54.4 638.4 54.8 638.0 55.2 637.4 55.6 636.5 56.0 635.4 56.4 633.9 56.8 632.3 57.2 630.5 57.6 628.8 58.0 627.3 58.4 626.3 58.8 625.8 59.2 626.0 59.6 626.8 60.0 628.0 60.4 629.6 60.8 631.4 61.2 633.1 61.6 634.6 62.0 635.9 62.4 636.8 62.8 637.3 63.2 637.5 63.6 637.4 64.0 636.9 64.4 636.2 64.8 635.1 65.2 633.7 65.6 632.1 66.0 630.5 66.4 629.0 66.8 627.9 67.2 627.2 67.6 627.0 68.0 627.5 68.4 628.4 68.8 629.8 69.2 631.3 69.6 632.9 70.0 634.4 70.4 635.6 70.8 636.6 71.2 637.2 71.6 637.6 72.0 637.5 72.4 637.2 72.8 636.4 73.2 635.4 73.6 634.0 74.0 632.3 74.4 630.5 74.8 628.7 75.2 627.1 75.6 625.8 76.0 625.2 76.4 625.2 76.8 625.8 77.2 627.1 77.6 628.7 78.0 630.5 78.4 632.3 78.8 634.0 79.2 635.4 79.6 636.5 80.0 637.3 80.4 637.7 80.8 637.9 81.2 637.8 81.6 637.4 82.0 636.8 82.4 635.9 82.8 634.8 83.2 633.6 83.6 632.4 84.0 631.3 84.4 630.5 84.8 630.1 85.2 630.1 85.6 630.5 86.0 631.3 86.4 632.4 86.8 633.6 87.2 634.8 87.6 635.9 88.0 636.8 88.4 637.6 88.8 638.1 89.2 638.5 89.6 638.7 90.0 638.8 90.4 638.9 90.8 639.0 91.2 639.0 91.6 639.0 92.0 639.0 92.4 639.0 92.8 639.0 93.2 639.0 93.6 639.0 94.0 639.0 94.4 639.0 94.8 639.0 95.2 638.9 95.6 638.9 96.0 638.8 96.4 638.6 96.8 638.3 97.2 637.9 97.6 637.2 98.0 636.2 98.4 635.0 98.8 633.5 99.2 631.8 99.6 630.1 100.0 628.4 100.4 627.0 100.8 626.1 101.2 625.8 101.6 626.1 102.0 627.0 102.4 628.4 102.8 630.0 103.2 631.7 103.6 633.3 104.0 634.6 104.4 635.5 104.8 635.9 105.2 635.9 105.6 635.4 106.0 634.5 106.4 633.3 106.8 632.0 107.2 630.6 107.6 629.4 108.0 628.5 108.4 628.1 108.8 628.3 109.2 628.9 109.6 630.0" fill="none" stroke="#c0203e" stroke-width="1.3" stroke-linejoin="round"/>
<line x1="29.6" y1="639" x2="109.7" y2="639" stroke="#b02040" stroke-width="1.5"/>
<text x="35.8" y="610.2" font-size="6.6" fill="#606a80" text-anchor="middle" stroke="#606a80" stroke-width="0.22">C</text>
<text x="42.7" y="610.2" font-size="6.6" fill="#86a870" text-anchor="middle" stroke="#86a870" stroke-width="0.22">A</text>
<text x="50.8" y="610.2" font-size="6.6" fill="#86a870" text-anchor="middle" stroke="#86a870" stroke-width="0.22">A</text>
<text x="59.6" y="606.1" font-size="6.6" fill="#8a3a4c" text-anchor="middle" stroke="#8a3a4c" stroke-width="0.22">T</text>
<text x="68.1" y="606.1" font-size="6.6" fill="#86a870" text-anchor="middle" stroke="#86a870" stroke-width="0.22">A</text>
<text x="76.2" y="606.1" font-size="6.6" fill="#8a3a4c" text-anchor="middle" stroke="#8a3a4c" stroke-width="0.22">T</text>
<text x="85.5" y="606.1" font-size="6.6" fill="#5c566c" text-anchor="middle" stroke="#5c566c" stroke-width="0.22">G</text>
<text x="93.5" y="606.1" font-size="6.6" fill="#86a870" text-anchor="middle" stroke="#86a870" stroke-width="0.22">A</text>
<text x="101.2" y="606.1" font-size="6.6" fill="#86a870" text-anchor="middle" stroke="#86a870" stroke-width="0.22">A</text>
<text x="59.6" y="614.8" font-size="6.6" fill="#5c566c" text-anchor="middle" stroke="#5c566c" stroke-width="0.22">G</text>
<text x="68.1" y="614.8" font-size="6.6" fill="#5c566c" text-anchor="middle" stroke="#5c566c" stroke-width="0.22">G</text>
<text x="76.2" y="614.8" font-size="6.6" fill="#86a870" text-anchor="middle" stroke="#86a870" stroke-width="0.22">A</text>
<text x="85.5" y="614.8" font-size="6.6" fill="#8a3a4c" text-anchor="middle" stroke="#8a3a4c" stroke-width="0.22">T</text>
<text x="93.5" y="614.8" font-size="6.6" fill="#86a870" text-anchor="middle" stroke="#86a870" stroke-width="0.22">A</text>
<text x="101.2" y="614.8" font-size="6.6" fill="#8a3a4c" text-anchor="middle" stroke="#8a3a4c" stroke-width="0.22">T</text>
<text x="107.4" y="606.1" font-size="5.3" fill="#8a8a96">WT</text>
<text x="110" y="614.5" font-size="4.5" fill="#8a8a96" text-anchor="middle">•</text>
<path d="M118.9 639.0 119.3 639.0 119.7 639.0 120.1 639.0 120.5 639.0 120.9 639.0 121.3 639.0 121.7 639.0 122.1 639.0 122.5 639.0 122.9 639.0 123.3 639.0 123.7 639.0 124.1 639.0 124.5 639.0 124.9 639.0 125.3 639.0 125.7 639.0 126.1 639.0 126.5 639.0 126.9 639.0 127.3 639.0 127.7 639.0 128.1 639.0 128.5 639.0 128.9 639.0 129.3 639.0 129.7 639.0 130.1 639.0 130.5 639.0 130.9 639.0 131.3 639.0 131.7 639.0 132.1 639.0 132.5 639.0 132.9 639.0 133.3 639.0 133.7 639.0 134.1 639.0 134.5 639.0 134.9 639.0 135.3 639.0 135.7 639.0 136.1 639.0 136.5 639.0 136.9 639.0 137.3 639.0 137.7 639.0 138.1 639.0 138.5 639.0 138.9 639.0 139.3 639.0 139.7 639.0 140.1 639.0 140.5 639.0 140.9 639.0 141.3 639.0 141.7 639.0 142.1 639.0 142.5 639.0 142.9 639.0 143.3 639.0 143.7 639.0 144.1 639.0 144.5 639.0 144.9 639.0 145.3 639.0 145.7 639.0 146.1 639.0 146.5 639.0 146.9 639.0 147.3 639.0 147.7 639.0 148.1 639.0 148.5 639.0 148.9 639.0 149.3 639.0 149.7 639.0 150.1 639.0 150.5 639.0 150.9 639.0 151.3 639.0 151.7 639.0 152.1 639.0 152.5 639.0 152.9 639.0 153.3 639.0 153.7 639.0 154.1 639.0 154.5 639.0 154.9 639.0 155.3 639.0 155.7 639.0 156.1 639.0 156.5 639.0 156.9 639.0 157.3 639.0 157.7 639.0 158.1 639.0 158.5 639.0 158.9 639.0 159.3 639.0 159.7 639.0 160.1 639.0 160.5 639.0 160.9 639.0 161.3 639.0 161.7 639.0 162.1 639.0 162.5 639.0 162.9 639.0 163.3 639.0 163.7 639.0 164.1 639.0 164.5 639.0 164.9 639.0 165.3 639.0 165.7 639.0 166.1 639.0 166.5 639.0 166.9 639.0 167.3 639.0 167.7 639.0 168.1 639.0 168.5 639.0 168.9 639.0 169.3 638.9 169.7 638.9 170.1 638.7 170.5 638.5 170.9 638.2 171.3 637.7 171.7 637.0 172.1 636.0 172.5 634.8 172.9 633.3 173.3 631.7 173.7 630.1 174.1 628.7 174.5 627.6 174.9 627.1 175.3 627.1 175.7 627.6 176.1 628.7 176.5 630.1 176.9 631.7 177.3 633.3 177.7 634.8 178.1 636.0 178.5 637.0 178.9 637.7 179.3 638.2 179.7 638.5 180.1 638.7 180.5 638.9 180.9 638.9 181.3 639.0 181.7 639.0 182.1 639.0 182.5 639.0 182.9 639.0 183.3 639.0 183.7 639.0 184.1 639.0 184.5 639.0 184.9 639.0 185.3 639.0 185.7 639.0 186.1 639.0 186.5 639.0 186.9 639.0 187.3 639.0 187.7 639.0 188.1 639.0 188.5 639.0 188.9 639.0 189.3 639.0 189.7 639.0 190.1 639.0 190.5 639.0 190.9 639.0 191.3 639.0 191.7 639.0 192.1 639.0 192.5 639.0 192.9 639.0 193.3 639.0 193.7 639.0 194.1 639.0 194.5 639.0 194.9 639.0 195.3 639.0 195.7 639.0 196.1 639.0 196.5 639.0 196.9 639.0 197.3 639.0" fill="none" stroke="#3c2866" stroke-width="1.3" stroke-linejoin="round"/>
<path d="M118.9 639.0 119.3 639.0 119.7 639.0 120.1 638.9 120.5 638.8 120.9 638.6 121.3 638.3 121.7 637.9 122.1 637.2 122.5 636.3 122.9 635.0 123.3 633.4 123.7 631.5 124.1 629.5 124.5 627.4 124.9 625.7 125.3 624.3 125.7 623.6 126.1 623.6 126.5 624.3 126.9 625.7 127.3 627.4 127.7 629.5 128.1 631.5 128.5 633.4 128.9 635.0 129.3 636.3 129.7 637.2 130.1 637.9 130.5 638.3 130.9 638.6 131.3 638.8 131.7 638.9 132.1 639.0 132.5 639.0 132.9 639.0 133.3 639.0 133.7 639.0 134.1 639.0 134.5 639.0 134.9 639.0 135.3 639.0 135.7 639.0 136.1 639.0 136.5 639.0 136.9 639.0 137.3 639.0 137.7 639.0 138.1 639.0 138.5 639.0 138.9 639.0 139.3 639.0 139.7 639.0 140.1 639.0 140.5 639.0 140.9 639.0 141.3 639.0 141.7 639.0 142.1 639.0 142.5 639.0 142.9 639.0 143.3 639.0 143.7 639.0 144.1 639.0 144.5 639.0 144.9 639.0 145.3 639.0 145.7 639.0 146.1 639.0 146.5 639.0 146.9 639.0 147.3 639.0 147.7 639.0 148.1 639.0 148.5 639.0 148.9 639.0 149.3 639.0 149.7 639.0 150.1 639.0 150.5 639.0 150.9 639.0 151.3 639.0 151.7 639.0 152.1 639.0 152.5 639.0 152.9 639.0 153.3 639.0 153.7 639.0 154.1 639.0 154.5 639.0 154.9 639.0 155.3 639.0 155.7 639.0 156.1 639.0 156.5 639.0 156.9 639.0 157.3 639.0 157.7 639.0 158.1 639.0 158.5 639.0 158.9 639.0 159.3 639.0 159.7 639.0 160.1 639.0 160.5 639.0 160.9 639.0 161.3 639.0 161.7 639.0 162.1 639.0 162.5 639.0 162.9 639.0 163.3 639.0 163.7 639.0 164.1 639.0 164.5 639.0 164.9 639.0 165.3 639.0 165.7 639.0 166.1 639.0 166.5 639.0 166.9 639.0 167.3 639.0 167.7 639.0 168.1 639.0 168.5 639.0 168.9 639.0 169.3 639.0 169.7 639.0 170.1 639.0 170.5 639.0 170.9 639.0 171.3 639.0 171.7 639.0 172.1 639.0 172.5 639.0 172.9 639.0 173.3 639.0 173.7 639.0 174.1 639.0 174.5 639.0 174.9 639.0 175.3 639.0 175.7 639.0 176.1 639.0 176.5 639.0 176.9 639.0 177.3 639.0 177.7 639.0 178.1 639.0 178.5 639.0 178.9 639.0 179.3 639.0 179.7 639.0 180.1 639.0 180.5 639.0 180.9 639.0 181.3 639.0 181.7 639.0 182.1 639.0 182.5 639.0 182.9 639.0 183.3 639.0 183.7 639.0 184.1 639.0 184.5 639.0 184.9 639.0 185.3 639.0 185.7 639.0 186.1 639.0 186.5 639.0 186.9 639.0 187.3 639.0 187.7 639.0 188.1 639.0 188.5 639.0 188.9 639.0 189.3 639.0 189.7 639.0 190.1 639.0 190.5 639.0 190.9 639.0 191.3 639.0 191.7 639.0 192.1 639.0 192.5 639.0 192.9 639.0 193.3 639.0 193.7 639.0 194.1 639.0 194.5 639.0 194.9 639.0 195.3 639.0 195.7 639.0 196.1 639.0 196.5 639.0 196.9 639.0 197.3 639.0" fill="none" stroke="#2f5597" stroke-width="1.3" stroke-linejoin="round"/>
<path d="M118.9 631.0 119.3 629.7 119.7 628.7 120.1 628.2 120.5 628.2 120.9 628.7 121.3 629.7 121.7 631.0 122.1 632.4 122.5 633.9 122.9 635.2 123.3 636.3 123.7 637.2 124.1 637.9 124.5 638.3 124.9 638.6 125.3 638.8 125.7 638.9 126.1 638.9 126.5 639.0 126.9 639.0 127.3 639.0 127.7 638.9 128.1 638.8 128.5 638.7 128.9 638.5 129.3 638.1 129.7 637.6 130.1 636.7 130.5 635.7 130.9 634.3 131.3 632.7 131.7 631.0 132.1 629.2 132.5 627.7 132.9 626.5 133.3 625.9 133.7 625.9 134.1 626.5 134.5 627.7 134.9 629.2 135.3 630.9 135.7 632.6 136.1 634.2 136.5 635.4 136.9 636.3 137.3 636.8 137.7 636.8 138.1 636.5 138.5 635.7 138.9 634.5 139.3 633.0 139.7 631.4 140.1 629.6 140.5 628.0 140.9 626.8 141.3 626.0 141.7 625.8 142.1 626.3 142.5 627.3 142.9 628.8 143.3 630.5 143.7 632.3 144.1 633.9 144.5 635.4 144.9 636.5 145.3 637.4 145.7 638.0 146.1 638.4 146.5 638.7 146.9 638.8 147.3 638.9 147.7 639.0 148.1 639.0 148.5 639.0 148.9 639.0 149.3 639.0 149.7 639.0 150.1 639.0 150.5 639.0 150.9 639.0 151.3 639.0 151.7 639.0 152.1 638.9 152.5 638.9 152.9 638.8 153.3 638.6 153.7 638.3 154.1 637.8 154.5 637.1 154.9 636.1 155.3 634.8 155.7 633.2 156.1 631.4 156.5 629.4 156.9 627.5 157.3 625.9 157.7 624.7 158.1 624.2 158.5 624.4 158.9 625.3 159.3 626.7 159.7 628.5 160.1 630.4 160.5 632.3 160.9 634.1 161.3 635.5 161.7 636.7 162.1 637.5 162.5 638.1 162.9 638.5 163.3 638.7 163.7 638.8 164.1 638.9 164.5 639.0 164.9 639.0 165.3 639.0 165.7 639.0 166.1 639.0 166.5 639.0 166.9 639.0 167.3 639.0 167.7 639.0 168.1 639.0 168.5 639.0 168.9 639.0 169.3 639.0 169.7 639.0 170.1 639.0 170.5 639.0 170.9 639.0 171.3 639.0 171.7 639.0 172.1 639.0 172.5 639.0 172.9 639.0 173.3 639.0 173.7 639.0 174.1 639.0 174.5 639.0 174.9 639.0 175.3 639.0 175.7 639.0 176.1 639.0 176.5 639.0 176.9 639.0 177.3 639.0 177.7 639.0 178.1 638.9 178.5 638.9 178.9 638.7 179.3 638.5 179.7 638.2 180.1 637.6 180.5 636.8 180.9 635.6 181.3 634.0 181.7 632.1 182.1 629.9 182.5 627.5 182.9 625.1 183.3 623.0 183.7 621.4 184.1 620.6 184.5 620.6 184.9 621.4 185.3 623.0 185.7 625.1 186.1 627.4 186.5 629.8 186.9 631.9 187.3 633.7 187.7 635.0 188.1 635.8 188.5 636.0 188.9 635.7 189.3 634.8 189.7 633.5 190.1 631.8 190.5 629.9 190.9 627.9 191.3 626.1 191.7 624.6 192.1 623.7 192.5 623.5 192.9 624.1 193.3 625.3 193.7 627.0 194.1 628.9 194.5 631.0 194.9 632.9 195.3 634.6 195.7 636.0 196.1 637.0 196.5 637.8 196.9 638.3 197.3 638.6" fill="none" stroke="#6cbd48" stroke-width="1.3" stroke-linejoin="round"/>
<path d="M118.9 639.0 119.3 639.0 119.7 639.0 120.1 639.0 120.5 639.0 120.9 639.0 121.3 639.0 121.7 639.0 122.1 639.0 122.5 639.0 122.9 639.0 123.3 639.0 123.7 639.0 124.1 639.0 124.5 639.0 124.9 639.0 125.3 639.0 125.7 639.0 126.1 639.0 126.5 639.0 126.9 639.0 127.3 639.0 127.7 639.0 128.1 639.0 128.5 639.0 128.9 639.0 129.3 639.0 129.7 639.0 130.1 639.0 130.5 639.0 130.9 639.0 131.3 639.0 131.7 639.0 132.1 639.0 132.5 639.0 132.9 639.0 133.3 639.0 133.7 639.0 134.1 639.0 134.5 639.0 134.9 639.0 135.3 639.0 135.7 639.0 136.1 639.0 136.5 639.0 136.9 639.0 137.3 639.0 137.7 639.0 138.1 639.0 138.5 639.0 138.9 639.0 139.3 639.0 139.7 639.0 140.1 639.0 140.5 639.0 140.9 639.0 141.3 639.0 141.7 639.0 142.1 639.0 142.5 639.0 142.9 639.0 143.3 639.0 143.7 638.9 144.1 638.9 144.5 638.7 144.9 638.5 145.3 638.2 145.7 637.7 146.1 636.9 146.5 635.8 146.9 634.5 147.3 632.8 147.7 630.9 148.1 628.9 148.5 627.1 148.9 625.6 149.3 624.6 149.7 624.2 150.1 624.6 150.5 625.6 150.9 627.1 151.3 628.9 151.7 630.9 152.1 632.8 152.5 634.5 152.9 635.8 153.3 636.9 153.7 637.7 154.1 638.2 154.5 638.5 154.9 638.7 155.3 638.9 155.7 638.9 156.1 639.0 156.5 639.0 156.9 639.0 157.3 639.0 157.7 639.0 158.1 639.0 158.5 639.0 158.9 639.0 159.3 639.0 159.7 639.0 160.1 639.0 160.5 638.9 160.9 638.9 161.3 638.7 161.7 638.5 162.1 638.1 162.5 637.6 162.9 636.8 163.3 635.7 163.7 634.2 164.1 632.5 164.5 630.5 164.9 628.4 165.3 626.5 165.7 624.9 166.1 623.9 166.5 623.5 166.9 623.9 167.3 624.9 167.7 626.5 168.1 628.4 168.5 630.5 168.9 632.5 169.3 634.2 169.7 635.7 170.1 636.8 170.5 637.6 170.9 638.1 171.3 638.5 171.7 638.7 172.1 638.9 172.5 638.9 172.9 639.0 173.3 639.0 173.7 639.0 174.1 639.0 174.5 639.0 174.9 639.0 175.3 639.0 175.7 639.0 176.1 639.0 176.5 639.0 176.9 639.0 177.3 639.0 177.7 639.0 178.1 639.0 178.5 639.0 178.9 639.0 179.3 639.0 179.7 639.0 180.1 639.0 180.5 639.0 180.9 639.0 181.3 639.0 181.7 639.0 182.1 639.0 182.5 639.0 182.9 639.0 183.3 639.0 183.7 639.0 184.1 639.0 184.5 639.0 184.9 639.0 185.3 639.0 185.7 639.0 186.1 639.0 186.5 639.0 186.9 639.0 187.3 639.0 187.7 639.0 188.1 639.0 188.5 639.0 188.9 639.0 189.3 639.0 189.7 639.0 190.1 639.0 190.5 639.0 190.9 639.0 191.3 639.0 191.7 639.0 192.1 639.0 192.5 639.0 192.9 639.0 193.3 639.0 193.7 639.0 194.1 639.0 194.5 639.0 194.9 639.0 195.3 639.0 195.7 639.0 196.1 639.0 196.5 639.0 196.9 639.0 197.3 639.0" fill="none" stroke="#c0203e" stroke-width="1.3" stroke-linejoin="round"/>
<line x1="118.9" y1="639" x2="197.5" y2="639" stroke="#b02040" stroke-width="1.5"/>
<text x="125.9" y="610.2" font-size="6.6" fill="#606a80" text-anchor="middle" stroke="#606a80" stroke-width="0.22">C</text>
<text x="131.8" y="610.2" font-size="6.6" fill="#86a870" text-anchor="middle" stroke="#86a870" stroke-width="0.22">A</text>
<text x="141.6" y="610.2" font-size="6.6" fill="#86a870" text-anchor="middle" stroke="#86a870" stroke-width="0.22">A</text>
<text x="149.7" y="610.2" font-size="6.6" fill="#8a3a4c" text-anchor="middle" stroke="#8a3a4c" stroke-width="0.22">T</text>
<text x="158.2" y="610.2" font-size="6.6" fill="#86a870" text-anchor="middle" stroke="#86a870" stroke-width="0.22">A</text>
<text x="166.5" y="610.2" font-size="6.6" fill="#8a3a4c" text-anchor="middle" stroke="#8a3a4c" stroke-width="0.22">T</text>
<text x="175.1" y="610.2" font-size="6.6" fill="#5c566c" text-anchor="middle" stroke="#5c566c" stroke-width="0.22">G</text>
<text x="184.3" y="610.2" font-size="6.6" fill="#86a870" text-anchor="middle" stroke="#86a870" stroke-width="0.22">A</text>
<text x="192.4" y="610.2" font-size="6.6" fill="#86a870" text-anchor="middle" stroke="#86a870" stroke-width="0.22">A</text>
<text x="199.3" y="610.2" font-size="5.3" fill="#8a8a96">WT</text>
<text x="376.5" y="431.8" font-size="9.6" font-weight="bold" fill="#000" text-anchor="middle">12H183</text>
<line x1="292" y1="435.8" x2="462" y2="435.8" stroke="#000" stroke-width="1.3"/>
<text x="322" y="450.6" font-size="8.7" font-weight="bold" fill="#000" text-anchor="middle">H3K27me3 low</text>
<text x="428.9" y="450.6" font-size="8.7" font-weight="bold" fill="#000" text-anchor="middle">H3K27me3 high</text>
<text x="260.1" y="475.5" font-size="8.4" font-weight="bold" fill="#000" text-anchor="middle" transform="rotate(-90 260.1 475.5)">ASXL2</text>
<rect x="318.1" y="470.1" width="51.6" height="25.9" fill="#b9c4d9"/>
<path d="M273.8 490.4 274.2 490.0 274.6 489.9 275.0 490.0 275.4 490.3 275.8 490.6 276.2 490.9 276.6 490.8 277.0 490.3 277.4 489.2 277.8 487.5 278.2 485.1 278.6 482.2 279.0 479.0 279.4 475.7 279.8 472.7 280.2 470.3 280.6 468.9 281.0 468.6 281.4 469.5 281.8 471.4 282.2 474.2 282.6 477.5 283.0 480.9 283.4 484.2 283.8 487.2 284.2 489.7 284.6 491.7 285.0 493.2 285.4 494.2 285.8 494.9 286.2 495.4 286.6 495.7 287.0 495.8 287.4 495.9 287.8 496.0 288.2 496.0 288.6 496.0 289.0 496.0 289.4 496.0 289.8 496.0 290.2 495.9 290.6 495.9 291.0 495.7 291.4 495.5 291.8 495.1 292.2 494.5 292.6 493.6 293.0 492.3 293.4 490.6 293.8 488.4 294.2 485.7 294.6 482.8 295.0 479.7 295.4 476.7 295.8 474.2 296.2 472.4 296.6 471.6 297.0 471.9 297.4 473.2 297.8 475.4 298.2 478.1 298.6 481.2 299.0 484.3 299.4 487.1 299.8 489.6 300.2 491.5 300.6 493.0 301.0 494.1 301.4 494.9 301.8 495.3 302.2 495.6 302.6 495.8 303.0 495.9 303.4 496.0 303.8 496.0 304.2 496.0 304.6 496.0 305.0 496.0 305.4 496.0 305.8 496.0 306.2 495.9 306.6 495.9 307.0 495.8 307.4 495.6 307.8 495.3 308.2 494.9 308.6 494.2 309.0 493.2 309.4 492.0 309.8 490.5 310.2 488.8 310.6 487.1 311.0 485.4 311.4 484.0 311.8 483.1 312.2 482.8 312.6 483.1 313.0 484.0 313.4 485.4 313.8 487.1 314.2 488.8 314.6 490.5 315.0 491.9 315.4 493.1 315.8 493.9 316.2 494.4 316.6 494.6 317.0 494.5 317.4 494.2 317.8 493.6 318.2 493.0 318.6 492.4 319.0 491.7 319.4 491.3 319.8 491.0 320.2 491.0 320.6 491.3 321.0 491.8 321.4 492.4 321.8 493.1 322.2 493.8 322.6 494.4 323.0 494.9 323.4 495.3 323.8 495.5 324.2 495.7 324.6 495.8 325.0 495.9 325.4 496.0 325.8 496.0 326.2 496.0 326.6 496.0 327.0 496.0 327.4 496.0 327.8 496.0 328.2 496.0 328.6 496.0 329.0 496.0 329.4 496.0 329.8 496.0 330.2 496.0 330.6 496.0 331.0 496.0 331.4 496.0 331.8 496.0 332.2 496.0 332.6 496.0 333.0 496.0 333.4 496.0 333.8 496.0 334.2 496.0 334.6 496.0 335.0 496.0 335.4 496.0 335.8 496.0 336.2 496.0 336.6 496.0 337.0 496.0 337.4 496.0 337.8 496.0 338.2 496.0 338.6 496.0 339.0 496.0 339.4 496.0 339.8 496.0 340.2 496.0 340.6 496.0 341.0 496.0 341.4 496.0 341.8 496.0 342.2 496.0 342.6 496.0 343.0 496.0 343.4 496.0 343.8 496.0 344.2 496.0 344.6 496.0 345.0 495.9 345.4 495.8 345.8 495.7 346.2 495.5 346.6 495.3 347.0 494.9 347.4 494.4 347.8 493.8 348.2 493.1 348.6 492.4 349.0 491.8 349.4 491.3 349.8 491.0 350.2 491.0 350.6 491.3 351.0 491.7 351.4 492.4 351.8 493.0 352.2 493.6 352.6 494.2 353.0 494.5 353.4 494.7 353.8 494.6 354.2 494.4 354.6 493.9 355.0 493.3 355.4 492.7 355.8 492.0 356.2 491.5 356.6 491.1 357.0 491.0 357.4 491.1 357.8 491.5 358.2 492.1 358.6 492.7 359.0 493.4 359.4 494.1 359.8 494.6 360.2 495.1 360.6 495.4 361.0 495.6 361.4 495.8 361.8 495.9 362.2 495.9 362.6 496.0 363.0 496.0 363.4 496.0 363.8 496.0 364.2 496.0 364.6 496.0 365.0 496.0 365.4 496.0 365.8 496.0 366.2 496.0 366.6 496.0 367.0 496.0 367.4 496.0 367.8 496.0 368.2 496.0 368.6 496.0 369.0 496.0 369.4 496.0 369.8 496.0" fill="none" stroke="#3c2866" stroke-width="1.3" stroke-linejoin="round"/>
<path d="M273.8 496.0 274.2 496.0 274.6 496.0 275.0 496.0 275.4 496.0 275.8 496.0 276.2 496.0 276.6 496.0 277.0 496.0 277.4 496.0 277.8 496.0 278.2 496.0 278.6 496.0 279.0 496.0 279.4 496.0 279.8 496.0 280.2 496.0 280.6 496.0 281.0 496.0 281.4 496.0 281.8 496.0 282.2 496.0 282.6 496.0 283.0 496.0 283.4 496.0 283.8 496.0 284.2 496.0 284.6 496.0 285.0 496.0 285.4 496.0 285.8 496.0 286.2 496.0 286.6 496.0 287.0 496.0 287.4 496.0 287.8 496.0 288.2 496.0 288.6 496.0 289.0 496.0 289.4 496.0 289.8 496.0 290.2 496.0 290.6 496.0 291.0 496.0 291.4 496.0 291.8 496.0 292.2 496.0 292.6 496.0 293.0 496.0 293.4 496.0 293.8 496.0 294.2 496.0 294.6 496.0 295.0 496.0 295.4 496.0 295.8 496.0 296.2 496.0 296.6 496.0 297.0 496.0 297.4 496.0 297.8 496.0 298.2 495.9 298.6 495.9 299.0 495.7 299.4 495.5 299.8 495.2 300.2 494.6 300.6 493.8 301.0 492.8 301.4 491.4 301.8 489.8 302.2 488.0 302.6 486.1 303.0 484.4 303.4 483.1 303.8 482.3 304.2 482.1 304.6 482.6 305.0 483.7 305.4 485.2 305.8 487.0 306.2 488.9 306.6 490.6 307.0 492.1 307.4 493.3 307.8 494.3 308.2 494.9 308.6 495.4 309.0 495.6 309.4 495.8 309.8 495.9 310.2 496.0 310.6 496.0 311.0 496.0 311.4 496.0 311.8 496.0 312.2 496.0 312.6 496.0 313.0 496.0 313.4 496.0 313.8 496.0 314.2 496.0 314.6 496.0 315.0 496.0 315.4 496.0 315.8 496.0 316.2 496.0 316.6 496.0 317.0 496.0 317.4 496.0 317.8 496.0 318.2 496.0 318.6 496.0 319.0 496.0 319.4 496.0 319.8 496.0 320.2 496.0 320.6 496.0 321.0 496.0 321.4 496.0 321.8 496.0 322.2 496.0 322.6 496.0 323.0 496.0 323.4 496.0 323.8 496.0 324.2 496.0 324.6 496.0 325.0 496.0 325.4 496.0 325.8 496.0 326.2 496.0 326.6 496.0 327.0 496.0 327.4 496.0 327.8 496.0 328.2 496.0 328.6 496.0 329.0 496.0 329.4 496.0 329.8 496.0 330.2 496.0 330.6 496.0 331.0 496.0 331.4 496.0 331.8 496.0 332.2 496.0 332.6 496.0 333.0 496.0 333.4 496.0 333.8 496.0 334.2 496.0 334.6 496.0 335.0 496.0 335.4 496.0 335.8 496.0 336.2 496.0 336.6 496.0 337.0 496.0 337.4 496.0 337.8 496.0 338.2 496.0 338.6 496.0 339.0 496.0 339.4 496.0 339.8 496.0 340.2 496.0 340.6 496.0 341.0 496.0 341.4 496.0 341.8 496.0 342.2 496.0 342.6 496.0 343.0 496.0 343.4 496.0 343.8 496.0 344.2 496.0 344.6 496.0 345.0 496.0 345.4 496.0 345.8 496.0 346.2 496.0 346.6 496.0 347.0 496.0 347.4 496.0 347.8 496.0 348.2 496.0 348.6 496.0 349.0 496.0 349.4 496.0 349.8 496.0 350.2 496.0 350.6 496.0 351.0 496.0 351.4 496.0 351.8 496.0 352.2 496.0 352.6 496.0 353.0 496.0 353.4 496.0 353.8 496.0 354.2 496.0 354.6 496.0 355.0 496.0 355.4 496.0 355.8 496.0 356.2 496.0 356.6 496.0 357.0 496.0 357.4 496.0 357.8 496.0 358.2 496.0 358.6 496.0 359.0 496.0 359.4 496.0 359.8 496.0 360.2 496.0 360.6 496.0 361.0 496.0 361.4 496.0 361.8 496.0 362.2 496.0 362.6 496.0 363.0 496.0 363.4 496.0 363.8 496.0 364.2 496.0 364.6 496.0 365.0 496.0 365.4 496.0 365.8 496.0 366.2 496.0 366.6 496.0 367.0 496.0 367.4 496.0 367.8 496.0 368.2 496.0 368.6 496.0 369.0 496.0 369.4 496.0 369.8 496.0" fill="none" stroke="#2f5597" stroke-width="1.3" stroke-linejoin="round"/>
<path d="M273.8 496.0 274.2 496.0 274.6 496.0 275.0 496.0 275.4 496.0 275.8 496.0 276.2 496.0 276.6 496.0 277.0 496.0 277.4 496.0 277.8 496.0 278.2 496.0 278.6 496.0 279.0 496.0 279.4 496.0 279.8 496.0 280.2 496.0 280.6 496.0 281.0 496.0 281.4 496.0 281.8 496.0 282.2 496.0 282.6 496.0 283.0 496.0 283.4 495.9 283.8 495.8 284.2 495.7 284.6 495.5 285.0 495.1 285.4 494.5 285.8 493.7 286.2 492.6 286.6 491.1 287.0 489.4 287.4 487.5 287.8 485.5 288.2 483.8 288.6 482.3 289.0 481.5 289.4 481.3 289.8 481.8 290.2 483.0 290.6 484.6 291.0 486.5 291.4 488.4 291.8 490.3 292.2 491.9 292.6 493.2 293.0 494.1 293.4 494.8 293.8 495.3 294.2 495.6 294.6 495.8 295.0 495.9 295.4 495.9 295.8 496.0 296.2 496.0 296.6 496.0 297.0 496.0 297.4 496.0 297.8 496.0 298.2 496.0 298.6 496.0 299.0 496.0 299.4 496.0 299.8 496.0 300.2 496.0 300.6 496.0 301.0 496.0 301.4 496.0 301.8 496.0 302.2 496.0 302.6 496.0 303.0 496.0 303.4 496.0 303.8 496.0 304.2 496.0 304.6 496.0 305.0 496.0 305.4 496.0 305.8 496.0 306.2 496.0 306.6 496.0 307.0 496.0 307.4 496.0 307.8 496.0 308.2 496.0 308.6 496.0 309.0 496.0 309.4 496.0 309.8 496.0 310.2 496.0 310.6 496.0 311.0 496.0 311.4 496.0 311.8 496.0 312.2 496.0 312.6 496.0 313.0 496.0 313.4 496.0 313.8 496.0 314.2 496.0 314.6 496.0 315.0 496.0 315.4 496.0 315.8 496.0 316.2 496.0 316.6 496.0 317.0 496.0 317.4 496.0 317.8 496.0 318.2 496.0 318.6 496.0 319.0 496.0 319.4 496.0 319.8 496.0 320.2 496.0 320.6 496.0 321.0 496.0 321.4 496.0 321.8 496.0 322.2 496.0 322.6 496.0 323.0 496.0 323.4 496.0 323.8 496.0 324.2 496.0 324.6 496.0 325.0 496.0 325.4 496.0 325.8 496.0 326.2 496.0 326.6 496.0 327.0 496.0 327.4 496.0 327.8 496.0 328.2 496.0 328.6 496.0 329.0 496.0 329.4 496.0 329.8 496.0 330.2 496.0 330.6 496.0 331.0 496.0 331.4 496.0 331.8 496.0 332.2 496.0 332.6 496.0 333.0 496.0 333.4 496.0 333.8 496.0 334.2 496.0 334.6 496.0 335.0 496.0 335.4 496.0 335.8 496.0 336.2 496.0 336.6 496.0 337.0 496.0 337.4 496.0 337.8 496.0 338.2 496.0 338.6 496.0 339.0 496.0 339.4 496.0 339.8 496.0 340.2 496.0 340.6 496.0 341.0 496.0 341.4 496.0 341.8 496.0 342.2 496.0 342.6 496.0 343.0 496.0 343.4 496.0 343.8 496.0 344.2 496.0 344.6 496.0 345.0 496.0 345.4 496.0 345.8 496.0 346.2 496.0 346.6 496.0 347.0 496.0 347.4 496.0 347.8 496.0 348.2 496.0 348.6 496.0 349.0 496.0 349.4 496.0 349.8 496.0 350.2 496.0 350.6 496.0 351.0 496.0 351.4 495.9 351.8 495.8 352.2 495.7 352.6 495.4 353.0 495.1 353.4 494.6 353.8 493.9 354.2 493.0 354.6 492.1 355.0 491.0 355.4 490.1 355.8 489.2 356.2 488.7 356.6 488.5 357.0 488.7 357.4 489.2 357.8 490.1 358.2 491.0 358.6 492.1 359.0 493.0 359.4 493.9 359.8 494.6 360.2 495.1 360.6 495.4 361.0 495.7 361.4 495.8 361.8 495.9 362.2 495.9 362.6 496.0 363.0 496.0 363.4 495.9 363.8 495.9 364.2 495.8 364.6 495.7 365.0 495.5 365.4 495.2 365.8 494.8 366.2 494.3 366.6 493.8 367.0 493.3 367.4 492.7 367.8 492.3 368.2 492.1 368.6 492.0 369.0 492.2 369.4 492.5 369.8 493.0" fill="none" stroke="#c0203e" stroke-width="1.3" stroke-linejoin="round"/>
<path d="M273.8 496.0 274.2 496.0 274.6 496.0 275.0 496.0 275.4 496.0 275.8 496.0 276.2 496.0 276.6 496.0 277.0 496.0 277.4 496.0 277.8 496.0 278.2 496.0 278.6 496.0 279.0 496.0 279.4 496.0 279.8 496.0 280.2 496.0 280.6 496.0 281.0 496.0 281.4 496.0 281.8 496.0 282.2 496.0 282.6 496.0 283.0 496.0 283.4 496.0 283.8 496.0 284.2 496.0 284.6 496.0 285.0 496.0 285.4 496.0 285.8 496.0 286.2 496.0 286.6 496.0 287.0 496.0 287.4 496.0 287.8 496.0 288.2 496.0 288.6 496.0 289.0 496.0 289.4 496.0 289.8 496.0 290.2 496.0 290.6 496.0 291.0 496.0 291.4 496.0 291.8 496.0 292.2 496.0 292.6 496.0 293.0 496.0 293.4 496.0 293.8 496.0 294.2 496.0 294.6 496.0 295.0 496.0 295.4 496.0 295.8 496.0 296.2 496.0 296.6 496.0 297.0 496.0 297.4 496.0 297.8 496.0 298.2 496.0 298.6 496.0 299.0 496.0 299.4 496.0 299.8 496.0 300.2 496.0 300.6 496.0 301.0 496.0 301.4 496.0 301.8 496.0 302.2 496.0 302.6 496.0 303.0 496.0 303.4 496.0 303.8 496.0 304.2 496.0 304.6 496.0 305.0 496.0 305.4 496.0 305.8 496.0 306.2 496.0 306.6 496.0 307.0 496.0 307.4 496.0 307.8 496.0 308.2 496.0 308.6 496.0 309.0 496.0 309.4 496.0 309.8 496.0 310.2 496.0 310.6 496.0 311.0 496.0 311.4 496.0 311.8 496.0 312.2 496.0 312.6 496.0 313.0 496.0 313.4 495.9 313.8 495.9 314.2 495.8 314.6 495.6 315.0 495.3 315.4 494.9 315.8 494.3 316.2 493.5 316.6 492.6 317.0 491.5 317.4 490.4 317.8 489.4 318.2 488.6 318.6 488.1 319.0 488.0 319.4 488.3 319.8 489.0 320.2 489.9 320.6 490.9 321.0 492.0 321.4 493.0 321.8 493.7 322.2 494.2 322.6 494.4 323.0 494.3 323.4 493.8 323.8 493.0 324.2 491.6 324.6 489.9 325.0 487.8 325.4 485.4 325.8 483.0 326.2 480.7 326.6 478.8 327.0 477.5 327.4 477.1 327.8 477.5 328.2 478.8 328.6 480.6 329.0 482.9 329.4 485.3 329.8 487.6 330.2 489.5 330.6 490.9 331.0 491.8 331.4 492.0 331.8 491.7 332.2 490.9 332.6 489.6 333.0 488.1 333.4 486.6 333.8 485.1 334.2 484.1 334.6 483.5 335.0 483.5 335.4 484.1 335.8 485.2 336.2 486.6 336.6 488.2 337.0 489.7 337.4 491.0 337.8 492.0 338.2 492.4 338.6 492.3 339.0 491.7 339.4 490.5 339.8 489.0 340.2 487.0 340.6 485.0 341.0 483.1 341.4 481.4 341.8 480.4 342.2 480.0 342.6 480.4 343.0 481.4 343.4 483.1 343.8 485.0 344.2 487.0 344.6 488.9 345.0 490.5 345.4 491.6 345.8 492.3 346.2 492.4 346.6 492.0 347.0 491.3 347.4 490.3 347.8 489.3 348.2 488.2 348.6 487.5 349.0 487.0 349.4 487.1 349.8 487.5 350.2 488.3 350.6 489.4 351.0 490.6 351.4 491.8 351.8 492.9 352.2 493.8 352.6 494.6 353.0 495.1 353.4 495.5 353.8 495.7 354.2 495.8 354.6 495.9 355.0 496.0 355.4 496.0 355.8 496.0 356.2 496.0 356.6 496.0 357.0 496.0 357.4 496.0 357.8 495.9 358.2 495.9 358.6 495.8 359.0 495.6 359.4 495.3 359.8 494.9 360.2 494.3 360.6 493.5 361.0 492.6 361.4 491.5 361.8 490.4 362.2 489.4 362.6 488.6 363.0 488.0 363.4 487.9 363.8 488.1 364.2 488.6 364.6 489.2 365.0 489.9 365.4 490.5 365.8 490.8 366.2 490.9 366.6 490.8 367.0 490.5 367.4 490.2 367.8 490.0 368.2 490.0 368.6 490.3 369.0 490.7 369.4 491.4 369.8 492.2" fill="none" stroke="#6cbd48" stroke-width="1.3" stroke-linejoin="round"/>
<line x1="273.8" y1="496" x2="369.8" y2="496" stroke="#8a3a3a" stroke-width="1.5"/>
<text x="280.9" y="462.8" font-size="6.6" fill="#5c566c" text-anchor="middle" stroke="#5c566c" stroke-width="0.22">G</text>
<text x="287.9" y="462.8" font-size="6.6" fill="#8a3a4c" text-anchor="middle" stroke="#8a3a4c" stroke-width="0.22">T</text>
<text x="295.7" y="462.8" font-size="6.6" fill="#5c566c" text-anchor="middle" stroke="#5c566c" stroke-width="0.22">G</text>
<text x="303.7" y="462.8" font-size="6.6" fill="#606a80" text-anchor="middle" stroke="#606a80" stroke-width="0.22">C</text>
<text x="311.7" y="462.8" font-size="6.6" fill="#5c566c" text-anchor="middle" stroke="#5c566c" stroke-width="0.22">G</text>
<text x="319.6" y="459.6" font-size="6.6" fill="#86a870" text-anchor="middle" stroke="#86a870" stroke-width="0.22">A</text>
<text x="327.4" y="459.6" font-size="6.6" fill="#86a870" text-anchor="middle" stroke="#86a870" stroke-width="0.22">A</text>
<text x="334.4" y="459.6" font-size="6.6" fill="#86a870" text-anchor="middle" stroke="#86a870" stroke-width="0.22">A</text>
<text x="341.8" y="459.6" font-size="6.6" fill="#86a870" text-anchor="middle" stroke="#86a870" stroke-width="0.22">A</text>
<text x="349.2" y="459.6" font-size="6.6" fill="#5c566c" text-anchor="middle" stroke="#5c566c" stroke-width="0.22">G</text>
<text x="356.6" y="459.6" font-size="6.6" fill="#8a3a4c" text-anchor="middle" stroke="#8a3a4c" stroke-width="0.22">T</text>
<text x="364" y="459.6" font-size="6.6" fill="#86a870" text-anchor="middle" stroke="#86a870" stroke-width="0.22">A</text>
<text x="319.6" y="467" font-size="6.6" fill="#5c566c" text-anchor="middle" stroke="#5c566c" stroke-width="0.22">G</text>
<text x="327.4" y="467" font-size="6.6" fill="#86a870" text-anchor="middle" stroke="#86a870" stroke-width="0.22">A</text>
<text x="334.4" y="467" font-size="6.6" fill="#86a870" text-anchor="middle" stroke="#86a870" stroke-width="0.22">A</text>
<text x="341.8" y="467" font-size="6.6" fill="#86a870" text-anchor="middle" stroke="#86a870" stroke-width="0.22">A</text>
<text x="349.2" y="467" font-size="6.6" fill="#86a870" text-anchor="middle" stroke="#86a870" stroke-width="0.22">A</text>
<text x="356.6" y="467" font-size="6.6" fill="#5c566c" text-anchor="middle" stroke="#5c566c" stroke-width="0.22">G</text>
<text x="364" y="467" font-size="6.6" fill="#8a3a4c" text-anchor="middle" stroke="#8a3a4c" stroke-width="0.22">T</text>
<text x="371.5" y="458.5" font-size="6.2" fill="#5e5e6e">WT</text>
<text x="374.5" y="465" font-size="4.5" fill="#5e5e6e" text-anchor="middle">•</text>
<rect x="424.3" y="470.4" width="53.8" height="25.6" fill="#b9c4d9"/>
<path d="M381.5 490.2 381.9 490.0 382.3 490.1 382.7 490.4 383.1 491.0 383.5 491.7 383.9 492.4 384.3 493.0 384.7 493.3 385.1 493.3 385.5 492.8 385.9 491.8 386.3 490.3 386.7 488.2 387.1 485.7 387.5 482.7 387.9 479.6 388.3 476.7 388.7 474.2 389.1 472.4 389.5 471.6 389.9 471.9 390.3 473.2 390.7 475.4 391.1 478.1 391.5 481.2 391.9 484.3 392.3 487.1 392.7 489.6 393.1 491.5 393.5 493.0 393.9 494.1 394.3 494.9 394.7 495.3 395.1 495.6 395.5 495.8 395.9 495.9 396.3 496.0 396.7 496.0 397.1 496.0 397.5 496.0 397.9 496.0 398.3 495.9 398.7 495.8 399.1 495.7 399.5 495.4 399.9 494.9 400.3 494.2 400.7 493.2 401.1 491.8 401.5 489.9 401.9 487.6 402.3 484.9 402.7 481.9 403.1 479.0 403.5 476.3 403.9 474.2 404.3 473.0 404.7 472.7 405.1 473.5 405.5 475.2 405.9 477.6 406.3 480.5 406.7 483.4 407.1 486.3 407.5 488.8 407.9 490.9 408.3 492.6 408.7 493.8 409.1 494.6 409.5 495.2 409.9 495.5 410.3 495.8 410.7 495.9 411.1 495.9 411.5 496.0 411.9 496.0 412.3 496.0 412.7 496.0 413.1 496.0 413.5 496.0 413.9 496.0 414.3 496.0 414.7 496.0 415.1 495.9 415.5 495.9 415.9 495.7 416.3 495.5 416.7 495.1 417.1 494.6 417.5 493.8 417.9 492.8 418.3 491.6 418.7 490.1 419.1 488.5 419.5 487.0 419.9 485.7 420.3 484.7 420.7 484.3 421.1 484.5 421.5 485.2 421.9 486.3 422.3 487.7 422.7 489.3 423.1 490.8 423.5 492.0 423.9 493.1 424.3 493.7 424.7 494.1 425.1 494.1 425.5 493.8 425.9 493.4 426.3 492.8 426.7 492.2 427.1 491.6 427.5 491.2 427.9 491.0 428.3 491.1 428.7 491.4 429.1 491.9 429.5 492.6 429.9 493.2 430.3 493.9 430.7 494.5 431.1 495.0 431.5 495.3 431.9 495.6 432.3 495.8 432.7 495.9 433.1 495.9 433.5 496.0 433.9 496.0 434.3 496.0 434.7 496.0 435.1 496.0 435.5 496.0 435.9 496.0 436.3 496.0 436.7 496.0 437.1 496.0 437.5 496.0 437.9 496.0 438.3 496.0 438.7 496.0 439.1 496.0 439.5 496.0 439.9 496.0 440.3 496.0 440.7 496.0 441.1 496.0 441.5 496.0 441.9 496.0 442.3 496.0 442.7 496.0 443.1 496.0 443.5 496.0 443.9 496.0 444.3 496.0 444.7 496.0 445.1 496.0 445.5 496.0 445.9 496.0 446.3 496.0 446.7 496.0 447.1 496.0 447.5 496.0 447.9 496.0 448.3 496.0 448.7 496.0 449.1 496.0 449.5 496.0 449.9 496.0 450.3 496.0 450.7 496.0 451.1 496.0 451.5 496.0 451.9 496.0 452.3 496.0 452.7 496.0 453.1 496.0 453.5 495.9 453.9 495.8 454.3 495.7 454.7 495.5 455.1 495.3 455.5 494.9 455.9 494.4 456.3 493.8 456.7 493.1 457.1 492.4 457.5 491.8 457.9 491.3 458.3 491.0 458.7 491.0 459.1 491.3 459.5 491.8 459.9 492.4 460.3 493.1 460.7 493.8 461.1 494.4 461.5 494.9 461.9 495.3 462.3 495.5 462.7 495.7 463.1 495.8 463.5 495.9 463.9 496.0 464.3 496.0 464.7 496.0 465.1 496.0 465.5 496.0 465.9 496.0 466.3 496.0 466.7 496.0 467.1 496.0 467.5 496.0 467.9 496.0 468.3 496.0 468.7 496.0 469.1 496.0 469.5 496.0 469.9 496.0 470.3 496.0 470.7 496.0 471.1 496.0 471.5 496.0 471.9 496.0 472.3 496.0 472.7 496.0 473.1 496.0 473.5 496.0 473.9 496.0 474.3 496.0 474.7 496.0 475.1 496.0 475.5 496.0 475.9 496.0 476.3 496.0 476.7 496.0 477.1 496.0" fill="none" stroke="#3c2866" stroke-width="1.3" stroke-linejoin="round"/>
<path d="M381.5 496.0 381.9 496.0 382.3 496.0 382.7 496.0 383.1 496.0 383.5 496.0 383.9 496.0 384.3 496.0 384.7 496.0 385.1 496.0 385.5 496.0 385.9 496.0 386.3 496.0 386.7 496.0 387.1 496.0 387.5 496.0 387.9 496.0 388.3 496.0 388.7 496.0 389.1 496.0 389.5 496.0 389.9 496.0 390.3 496.0 390.7 496.0 391.1 496.0 391.5 496.0 391.9 496.0 392.3 496.0 392.7 496.0 393.1 496.0 393.5 496.0 393.9 496.0 394.3 496.0 394.7 496.0 395.1 496.0 395.5 496.0 395.9 496.0 396.3 496.0 396.7 496.0 397.1 496.0 397.5 496.0 397.9 496.0 398.3 496.0 398.7 496.0 399.1 496.0 399.5 496.0 399.9 496.0 400.3 496.0 400.7 496.0 401.1 496.0 401.5 496.0 401.9 496.0 402.3 496.0 402.7 496.0 403.1 496.0 403.5 496.0 403.9 496.0 404.3 496.0 404.7 496.0 405.1 496.0 405.5 496.0 405.9 496.0 406.3 496.0 406.7 495.9 407.1 495.9 407.5 495.7 407.9 495.5 408.3 495.2 408.7 494.6 409.1 493.8 409.5 492.7 409.9 491.3 410.3 489.6 410.7 487.7 411.1 485.7 411.5 483.8 411.9 482.2 412.3 481.2 412.7 480.8 413.1 481.2 413.5 482.2 413.9 483.8 414.3 485.7 414.7 487.7 415.1 489.6 415.5 491.3 415.9 492.7 416.3 493.8 416.7 494.6 417.1 495.2 417.5 495.5 417.9 495.7 418.3 495.9 418.7 495.9 419.1 496.0 419.5 496.0 419.9 496.0 420.3 496.0 420.7 496.0 421.1 496.0 421.5 496.0 421.9 496.0 422.3 496.0 422.7 496.0 423.1 496.0 423.5 496.0 423.9 496.0 424.3 496.0 424.7 496.0 425.1 496.0 425.5 496.0 425.9 496.0 426.3 496.0 426.7 496.0 427.1 496.0 427.5 496.0 427.9 496.0 428.3 496.0 428.7 496.0 429.1 496.0 429.5 496.0 429.9 496.0 430.3 496.0 430.7 496.0 431.1 496.0 431.5 496.0 431.9 496.0 432.3 496.0 432.7 496.0 433.1 496.0 433.5 496.0 433.9 496.0 434.3 496.0 434.7 496.0 435.1 496.0 435.5 496.0 435.9 496.0 436.3 496.0 436.7 496.0 437.1 496.0 437.5 496.0 437.9 496.0 438.3 496.0 438.7 496.0 439.1 496.0 439.5 496.0 439.9 496.0 440.3 496.0 440.7 496.0 441.1 496.0 441.5 496.0 441.9 496.0 442.3 496.0 442.7 496.0 443.1 496.0 443.5 496.0 443.9 496.0 444.3 496.0 444.7 496.0 445.1 496.0 445.5 496.0 445.9 496.0 446.3 496.0 446.7 496.0 447.1 496.0 447.5 496.0 447.9 496.0 448.3 496.0 448.7 496.0 449.1 496.0 449.5 496.0 449.9 496.0 450.3 496.0 450.7 496.0 451.1 496.0 451.5 496.0 451.9 496.0 452.3 496.0 452.7 496.0 453.1 496.0 453.5 496.0 453.9 496.0 454.3 496.0 454.7 496.0 455.1 496.0 455.5 496.0 455.9 496.0 456.3 496.0 456.7 496.0 457.1 496.0 457.5 496.0 457.9 496.0 458.3 496.0 458.7 496.0 459.1 496.0 459.5 496.0 459.9 496.0 460.3 496.0 460.7 496.0 461.1 496.0 461.5 496.0 461.9 496.0 462.3 496.0 462.7 496.0 463.1 496.0 463.5 496.0 463.9 496.0 464.3 496.0 464.7 496.0 465.1 496.0 465.5 496.0 465.9 496.0 466.3 496.0 466.7 496.0 467.1 496.0 467.5 496.0 467.9 496.0 468.3 496.0 468.7 496.0 469.1 496.0 469.5 496.0 469.9 496.0 470.3 496.0 470.7 496.0 471.1 496.0 471.5 496.0 471.9 496.0 472.3 496.0 472.7 496.0 473.1 496.0 473.5 496.0 473.9 496.0 474.3 496.0 474.7 496.0 475.1 496.0 475.5 496.0 475.9 496.0 476.3 496.0 476.7 496.0 477.1 496.0" fill="none" stroke="#2f5597" stroke-width="1.3" stroke-linejoin="round"/>
<path d="M381.5 496.0 381.9 496.0 382.3 496.0 382.7 496.0 383.1 496.0 383.5 496.0 383.9 496.0 384.3 496.0 384.7 496.0 385.1 496.0 385.5 496.0 385.9 496.0 386.3 496.0 386.7 496.0 387.1 496.0 387.5 496.0 387.9 496.0 388.3 496.0 388.7 496.0 389.1 496.0 389.5 496.0 389.9 496.0 390.3 496.0 390.7 495.9 391.1 495.9 391.5 495.7 391.9 495.5 392.3 495.2 392.7 494.6 393.1 493.8 393.5 492.7 393.9 491.4 394.3 489.7 394.7 487.9 395.1 486.1 395.5 484.4 395.9 483.0 396.3 482.2 396.7 482.0 397.1 482.5 397.5 483.6 397.9 485.2 398.3 487.0 398.7 488.8 399.1 490.6 399.5 492.1 399.9 493.3 400.3 494.3 400.7 494.9 401.1 495.4 401.5 495.6 401.9 495.8 402.3 495.9 402.7 496.0 403.1 496.0 403.5 496.0 403.9 496.0 404.3 496.0 404.7 496.0 405.1 496.0 405.5 496.0 405.9 496.0 406.3 496.0 406.7 496.0 407.1 496.0 407.5 496.0 407.9 496.0 408.3 496.0 408.7 496.0 409.1 496.0 409.5 496.0 409.9 496.0 410.3 496.0 410.7 496.0 411.1 496.0 411.5 496.0 411.9 496.0 412.3 496.0 412.7 496.0 413.1 496.0 413.5 496.0 413.9 496.0 414.3 496.0 414.7 496.0 415.1 496.0 415.5 496.0 415.9 496.0 416.3 496.0 416.7 496.0 417.1 496.0 417.5 496.0 417.9 496.0 418.3 496.0 418.7 496.0 419.1 496.0 419.5 496.0 419.9 496.0 420.3 496.0 420.7 496.0 421.1 496.0 421.5 496.0 421.9 496.0 422.3 496.0 422.7 496.0 423.1 496.0 423.5 496.0 423.9 496.0 424.3 496.0 424.7 496.0 425.1 496.0 425.5 496.0 425.9 496.0 426.3 496.0 426.7 496.0 427.1 496.0 427.5 496.0 427.9 496.0 428.3 496.0 428.7 496.0 429.1 496.0 429.5 496.0 429.9 496.0 430.3 496.0 430.7 496.0 431.1 496.0 431.5 496.0 431.9 496.0 432.3 496.0 432.7 496.0 433.1 496.0 433.5 496.0 433.9 496.0 434.3 496.0 434.7 496.0 435.1 496.0 435.5 496.0 435.9 496.0 436.3 496.0 436.7 496.0 437.1 496.0 437.5 496.0 437.9 496.0 438.3 496.0 438.7 496.0 439.1 496.0 439.5 496.0 439.9 496.0 440.3 496.0 440.7 496.0 441.1 496.0 441.5 496.0 441.9 496.0 442.3 496.0 442.7 496.0 443.1 496.0 443.5 496.0 443.9 496.0 444.3 496.0 444.7 496.0 445.1 496.0 445.5 496.0 445.9 496.0 446.3 496.0 446.7 496.0 447.1 496.0 447.5 496.0 447.9 496.0 448.3 496.0 448.7 496.0 449.1 496.0 449.5 496.0 449.9 496.0 450.3 496.0 450.7 496.0 451.1 496.0 451.5 496.0 451.9 496.0 452.3 496.0 452.7 496.0 453.1 496.0 453.5 496.0 453.9 496.0 454.3 496.0 454.7 496.0 455.1 496.0 455.5 496.0 455.9 496.0 456.3 496.0 456.7 496.0 457.1 496.0 457.5 496.0 457.9 496.0 458.3 496.0 458.7 496.0 459.1 496.0 459.5 495.9 459.9 495.8 460.3 495.7 460.7 495.5 461.1 495.1 461.5 494.6 461.9 494.0 462.3 493.2 462.7 492.3 463.1 491.3 463.5 490.4 463.9 489.6 464.3 489.1 464.7 488.9 465.1 489.1 465.5 489.6 465.9 490.4 466.3 491.3 466.7 492.3 467.1 493.2 467.5 494.0 467.9 494.6 468.3 495.1 468.7 495.5 469.1 495.7 469.5 495.8 469.9 495.9 470.3 495.9 470.7 496.0 471.1 496.0 471.5 495.9 471.9 495.9 472.3 495.8 472.7 495.6 473.1 495.4 473.5 495.1 473.9 494.7 474.3 494.2 474.7 493.7 475.1 493.1 475.5 492.6 475.9 492.2 476.3 492.0 476.7 492.0 477.1 492.2" fill="none" stroke="#c0203e" stroke-width="1.3" stroke-linejoin="round"/>
<path d="M381.5 496.0 381.9 496.0 382.3 496.0 382.7 496.0 383.1 496.0 383.5 496.0 383.9 496.0 384.3 496.0 384.7 496.0 385.1 496.0 385.5 496.0 385.9 496.0 386.3 496.0 386.7 496.0 387.1 496.0 387.5 496.0 387.9 496.0 388.3 496.0 388.7 496.0 389.1 496.0 389.5 496.0 389.9 496.0 390.3 496.0 390.7 496.0 391.1 496.0 391.5 496.0 391.9 496.0 392.3 496.0 392.7 496.0 393.1 496.0 393.5 496.0 393.9 496.0 394.3 496.0 394.7 496.0 395.1 496.0 395.5 496.0 395.9 496.0 396.3 496.0 396.7 496.0 397.1 496.0 397.5 496.0 397.9 496.0 398.3 496.0 398.7 496.0 399.1 496.0 399.5 496.0 399.9 496.0 400.3 496.0 400.7 496.0 401.1 496.0 401.5 496.0 401.9 496.0 402.3 496.0 402.7 496.0 403.1 496.0 403.5 496.0 403.9 496.0 404.3 496.0 404.7 496.0 405.1 496.0 405.5 496.0 405.9 496.0 406.3 496.0 406.7 496.0 407.1 496.0 407.5 496.0 407.9 496.0 408.3 496.0 408.7 496.0 409.1 496.0 409.5 496.0 409.9 496.0 410.3 496.0 410.7 496.0 411.1 496.0 411.5 496.0 411.9 496.0 412.3 496.0 412.7 496.0 413.1 496.0 413.5 496.0 413.9 496.0 414.3 496.0 414.7 496.0 415.1 496.0 415.5 496.0 415.9 496.0 416.3 496.0 416.7 496.0 417.1 496.0 417.5 496.0 417.9 496.0 418.3 496.0 418.7 496.0 419.1 496.0 419.5 496.0 419.9 496.0 420.3 496.0 420.7 496.0 421.1 496.0 421.5 496.0 421.9 496.0 422.3 495.9 422.7 495.9 423.1 495.8 423.5 495.6 423.9 495.3 424.3 494.9 424.7 494.3 425.1 493.6 425.5 492.8 425.9 491.8 426.3 490.8 426.7 490.0 427.1 489.3 427.5 488.9 427.9 488.9 428.3 489.3 428.7 490.0 429.1 490.8 429.5 491.7 429.9 492.7 430.3 493.4 430.7 494.0 431.1 494.2 431.5 494.2 431.9 493.7 432.3 492.9 432.7 491.6 433.1 490.0 433.5 487.9 433.9 485.7 434.3 483.4 434.7 481.4 435.1 479.7 435.5 478.7 435.9 478.5 436.3 479.1 436.7 480.5 437.1 482.3 437.5 484.5 437.9 486.7 438.3 488.8 438.7 490.5 439.1 491.7 439.5 492.4 439.9 492.6 440.3 492.2 440.7 491.3 441.1 490.0 441.5 488.4 441.9 486.8 442.3 485.3 442.7 484.0 443.1 483.3 443.5 483.1 443.9 483.6 444.3 484.6 444.7 486.0 445.1 487.6 445.5 489.2 445.9 490.6 446.3 491.6 446.7 492.2 447.1 492.3 447.5 491.8 447.9 490.8 448.3 489.2 448.7 487.4 449.1 485.3 449.5 483.3 449.9 481.5 450.3 480.3 450.7 479.7 451.1 479.9 451.5 480.8 451.9 482.4 452.3 484.3 452.7 486.4 453.1 488.5 453.5 490.3 453.9 491.7 454.3 492.7 454.7 493.2 455.1 493.3 455.5 493.0 455.9 492.4 456.3 491.6 456.7 490.6 457.1 489.7 457.5 489.0 457.9 488.5 458.3 488.4 458.7 488.7 459.1 489.3 459.5 490.2 459.9 491.2 460.3 492.3 460.7 493.2 461.1 494.0 461.5 494.7 461.9 495.2 462.3 495.5 462.7 495.7 463.1 495.8 463.5 495.9 463.9 496.0 464.3 496.0 464.7 496.0 465.1 496.0 465.5 496.0 465.9 496.0 466.3 495.9 466.7 495.9 467.1 495.8 467.5 495.6 467.9 495.4 468.3 495.0 468.7 494.5 469.1 493.9 469.5 493.1 469.9 492.3 470.3 491.5 470.7 490.8 471.1 490.3 471.5 490.1 471.9 490.2 472.3 490.6 472.7 491.2 473.1 491.9 473.5 492.7 473.9 493.5 474.3 494.2 474.7 494.8 475.1 495.2 475.5 495.5 475.9 495.7 476.3 495.8 476.7 495.9 477.1 496.0" fill="none" stroke="#6cbd48" stroke-width="1.3" stroke-linejoin="round"/>
<line x1="381.5" y1="496" x2="477.4" y2="496" stroke="#8a3a3a" stroke-width="1.5"/>
<text x="388.5" y="462.9" font-size="6.6" fill="#5c566c" text-anchor="middle" stroke="#5c566c" stroke-width="0.22">G</text>
<text x="395.9" y="462.9" font-size="6.6" fill="#8a3a4c" text-anchor="middle" stroke="#8a3a4c" stroke-width="0.22">T</text>
<text x="404.2" y="462.9" font-size="6.6" fill="#5c566c" text-anchor="middle" stroke="#5c566c" stroke-width="0.22">G</text>
<text x="411.6" y="462.9" font-size="6.6" fill="#606a80" text-anchor="middle" stroke="#606a80" stroke-width="0.22">C</text>
<text x="419" y="462.9" font-size="6.6" fill="#5c566c" text-anchor="middle" stroke="#5c566c" stroke-width="0.22">G</text>
<text x="426.6" y="458.8" font-size="6.6" fill="#86a870" text-anchor="middle" stroke="#86a870" stroke-width="0.22">A</text>
<text x="434.7" y="458.8" font-size="6.6" fill="#86a870" text-anchor="middle" stroke="#86a870" stroke-width="0.22">A</text>
<text x="442.1" y="458.8" font-size="6.6" fill="#86a870" text-anchor="middle" stroke="#86a870" stroke-width="0.22">A</text>
<text x="449.7" y="458.8" font-size="6.6" fill="#86a870" text-anchor="middle" stroke="#86a870" stroke-width="0.22">A</text>
<text x="457.3" y="458.8" font-size="6.6" fill="#5c566c" text-anchor="middle" stroke="#5c566c" stroke-width="0.22">G</text>
<text x="465.2" y="458.8" font-size="6.6" fill="#8a3a4c" text-anchor="middle" stroke="#8a3a4c" stroke-width="0.22">T</text>
<text x="472.8" y="458.8" font-size="6.6" fill="#86a870" text-anchor="middle" stroke="#86a870" stroke-width="0.22">A</text>
<text x="426.6" y="466.9" font-size="6.6" fill="#5c566c" text-anchor="middle" stroke="#5c566c" stroke-width="0.22">G</text>
<text x="434.7" y="466.9" font-size="6.6" fill="#86a870" text-anchor="middle" stroke="#86a870" stroke-width="0.22">A</text>
<text x="442.1" y="466.9" font-size="6.6" fill="#86a870" text-anchor="middle" stroke="#86a870" stroke-width="0.22">A</text>
<text x="449.7" y="466.9" font-size="6.6" fill="#86a870" text-anchor="middle" stroke="#86a870" stroke-width="0.22">A</text>
<text x="457.3" y="466.9" font-size="6.6" fill="#86a870" text-anchor="middle" stroke="#86a870" stroke-width="0.22">A</text>
<text x="465.2" y="466.9" font-size="6.6" fill="#5c566c" text-anchor="middle" stroke="#5c566c" stroke-width="0.22">G</text>
<text x="472.8" y="466.9" font-size="6.6" fill="#8a3a4c" text-anchor="middle" stroke="#8a3a4c" stroke-width="0.22">T</text>
<text x="479.5" y="458.3" font-size="6.2" fill="#5e5e6e">WT</text>
<text x="482.5" y="464.8" font-size="4.5" fill="#5e5e6e" text-anchor="middle">•</text>
<text x="274.2" y="559.3" font-size="9.7" fill="#555" text-anchor="middle" stroke="#555" stroke-width="0.3">04H138</text>
<text x="399.4" y="559.8" font-size="9.7" fill="#555" text-anchor="middle" stroke="#555" stroke-width="0.3">12H183</text>
<text x="248.2" y="604" font-size="7.6" fill="#707070" text-anchor="middle" transform="rotate(-90 248.2 604)">Disease progression</text>
<line x1="253.2" y1="549.6" x2="253.2" y2="653" stroke="#777" stroke-width="1.4"/>
<path d="M253.2 659 L250.2 652 L256.2 652 Z" fill="#777"/>
<path d="M 265.4 661.3 A 144.7 144.7 0 0 1 320.5 547.7 A 142.6 142.6 0 0 1 376.9 661.3 Z" fill="#e3e5ea"/>
<path d="M 265.4 661.3 A 144.7 144.7 0 0 1 320.5 547.7 A 142.6 142.6 0 0 1 376.9 661.3" fill="none" stroke="#3a3a46" stroke-width="0.75"/>
<path d="M 265.4 661.3 A 119.5 119.5 0 0 1 313.5 565.5 A 106.7 106.7 0 0 1 373.2 661.3 Z" fill="#eef0f5"/>
<path d="M 265.4 661.3 A 119.5 119.5 0 0 1 313.5 565.5 A 106.7 106.7 0 0 1 373.2 661.3" fill="none" stroke="#3a3a46" stroke-width="0.75"/>
<path d="M 353.8 661.3 L 353.8 618.8 A 45 45 0 0 1 371.5 661.3 Z" fill="#dfe4ee"/>
<path d="M 353.8 661.3 L 353.8 618.8 A 45 45 0 0 1 371.5 661.3" fill="none" stroke="#3a3a46" stroke-width="0.75"/>
<path d="M 265.4 661.3 A 107.6 107.6 0 0 1 311.1 573.3 A 121.6 121.6 0 0 1 348.8 661.3 Z" fill="#e5e9f1"/>
<path d="M 265.4 661.3 A 107.6 107.6 0 0 1 311.1 573.3 A 121.6 121.6 0 0 1 348.8 661.3" fill="none" stroke="#3a3a46" stroke-width="0.75"/>
<path d="M 265.4 661.3 A 80.2 80.2 0 0 1 305.1 592.1 A 101.1 101.1 0 0 1 332.5 661.3 Z" fill="#d3ddef"/>
<path d="M 265.4 661.3 A 80.2 80.2 0 0 1 305.1 592.1 A 101.1 101.1 0 0 1 332.5 661.3" fill="none" stroke="#3a3a46" stroke-width="0.75"/>
<path d="M 264.6 661.3 A 60.6 60.6 0 0 1 299.6 606.4 A 65.5 65.5 0 0 1 329.4 661.3 Z" fill="#5a7dbf"/>
<path d="M 264.6 661.3 A 60.6 60.6 0 0 1 299.6 606.4 A 65.5 65.5 0 0 1 329.4 661.3" fill="none" stroke="#40558a" stroke-width="0.6"/>
<path d="M 271.8 661.3 A 78.8 78.8 0 0 1 289.5 630.4 A 35.7 35.7 0 0 1 307.3 661.3 Z" fill="#b9a27f"/>
<path d="M 271.8 661.3 A 78.8 78.8 0 0 1 289.5 630.4 A 35.7 35.7 0 0 1 307.3 661.3" fill="none" stroke="#6a5a40" stroke-width="0.5"/>
<path d="M 390.0 661.3 C 391.7 604.6 420.7 554.8 445.8 548.0 C 469.0 554.8 495.8 604.6 497.3 661.3 Z" fill="#eceef2"/>
<path d="M 390.0 661.3 C 391.7 604.6 420.7 554.8 445.8 548.0 C 469.0 554.8 495.8 604.6 497.3 661.3" fill="none" stroke="#3a3a46" stroke-width="0.75"/>
<path d="M 390.0 661.3 C 391.7 611.6 420.7 568.0 445.8 562.0 C 468.1 568.0 493.9 611.6 495.4 661.3 Z" fill="#dde3ee"/>
<path d="M 390.0 661.3 C 391.7 611.6 420.7 568.0 445.8 562.0 C 468.1 568.0 493.9 611.6 495.4 661.3" fill="none" stroke="#3a3a46" stroke-width="0.75"/>
<path d="M 390.0 661.3 A 73.4 73.4 0 0 1 418.8 603.0 A 90.8 90.8 0 0 1 440.0 661.3 Z" fill="#b5c9e5"/>
<path d="M 390.0 661.3 A 73.4 73.4 0 0 1 418.8 603.0 A 90.8 90.8 0 0 1 440.0 661.3" fill="none" stroke="#3a3a46" stroke-width="0.75"/>
<text x="314.3" y="556.2" font-size="5" font-weight="bold" font-style="italic" fill="#141a2a" stroke="#141a2a" stroke-width="0.25">TET2<tspan font-size="2.8" dy="-2.4">E1526fs/WT</tspan></text>
<text x="307.8" y="571.7" font-size="5" font-weight="bold" font-style="italic" fill="#141a2a" stroke="#141a2a" stroke-width="0.25">BCOR<tspan font-size="2.8" dy="-2.4">E1379*/WT</tspan></text>
<text x="303" y="586.5" font-size="5" font-weight="bold" font-style="italic" fill="#141a2a" stroke="#141a2a" stroke-width="0.25">USP7<tspan font-size="2.8" dy="-2.4">R365W/WT</tspan></text>
<text x="297.3" y="603.3" font-size="5" font-weight="bold" font-style="italic" fill="#141a2a" stroke="#141a2a" stroke-width="0.25">RUNX1<tspan font-size="2.8" dy="-2.4">L98fs*16/L98fs*22</tspan></text>
<text x="278.8" y="627" font-size="5.6" font-weight="bold" font-style="italic" fill="#1e2f5c" stroke="#1e2f5c" stroke-width="0.25">HIST1H3H<tspan font-size="3.1" dy="-2.4">K27M/WT</tspan></text>
<text x="274.5" y="655.8" font-size="5.2" font-weight="bold" font-style="italic" fill="#3a3020" stroke="#3a3020" stroke-width="0.25">CBL<tspan font-size="2.9" dy="-2.4">Q367_Y368del/WT</tspan></text>
<text x="348.5" y="648.2" font-size="5" font-weight="bold" font-style="italic" fill="#141a2a" stroke="#141a2a" stroke-width="0.25">BCOR<tspan font-size="2.8" dy="-2.4">L1573fs/WT</tspan></text>
<text x="446.2" y="559.4" font-size="6.2" font-weight="bold" fill="#1a1a1a" text-anchor="middle">t(8;21)</text>
<text x="426.3" y="584.5" font-size="5.4" font-weight="bold" font-style="italic" fill="#141a2a" stroke="#141a2a" stroke-width="0.25">ASXL2<tspan font-size="3.0" dy="-2.4">E847K/E847K</tspan></text>
<text x="395" y="647" font-size="5.4" font-weight="bold" font-style="italic" fill="#141a2a" stroke="#141a2a" stroke-width="0.25">HIST1H3F<tspan font-size="3.0" dy="-2.4">K27I/WT</tspan></text>
<path d="M 264.5 662 L 264.5 666.3 L 329.5 666.3 L 329.5 662" fill="none" stroke="#5a6890" stroke-width="0.9"/>
<text x="297" y="676.6" font-size="6.8" fill="#4a5a84" text-anchor="middle">H3K27me2/3 low</text>
<path d="M 390.0 662 L 390.0 666.3 L 440.0 666.3 L 440.0 662" fill="none" stroke="#5a6890" stroke-width="0.9"/>
<text x="415" y="676.6" font-size="6.8" fill="#4a5a84" text-anchor="middle">H3K27me2/3 low</text>
<rect x="0" y="0" width="520" height="1.2" fill="#000"/>
<rect x="0" y="0" width="1.3" height="687" fill="#000"/>
<rect x="518.4" y="0" width="1.6" height="687" fill="#000"/>
<rect x="0" y="684.8" width="520" height="2.2" fill="#000"/>
<text x="16" y="17" font-size="11" font-weight="bold" fill="#000">A</text>
<text x="220" y="16.5" font-size="11" font-weight="bold" fill="#000">B</text>
<text x="219.5" y="222.3" font-size="11" font-weight="bold" fill="#000">C</text>
<text x="8" y="326.6" font-size="11" font-weight="bold" fill="#000">D</text>
<text x="219.5" y="436.5" font-size="11" font-weight="bold" fill="#000">E</text>
<text x="219.5" y="525" font-size="11" font-weight="bold" fill="#000">F</text>
</svg>
</body></html>
